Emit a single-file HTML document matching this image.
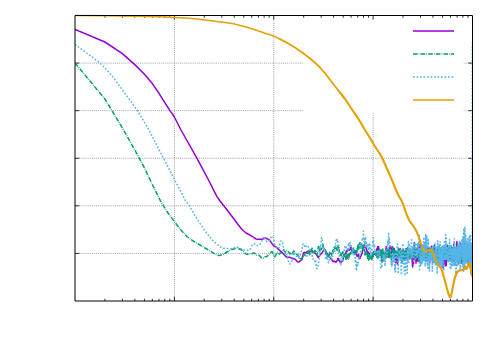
<!DOCTYPE html>
<html><head><meta charset="utf-8"><title>plot</title>
<style>html,body{margin:0;padding:0;background:#fff;font-family:"Liberation Sans",sans-serif}svg{display:block}</style></head>
<body>
<svg width="500" height="350" viewBox="0 0 500 350">
<defs><clipPath id="pc"><rect x="75.00" y="14.00" width="397.50" height="287.00"/></clipPath></defs>
<rect width="500" height="350" fill="#fff"/>
<g stroke="#000" stroke-width="0.45" stroke-dasharray="1 1.1" fill="none" opacity="0.85">
<path d="M75.00 63.08 H472.50"/>
<path d="M75.00 110.67 H472.50"/>
<path d="M75.00 158.25 H472.50"/>
<path d="M75.00 205.83 H472.50"/>
<path d="M75.00 253.42 H472.50"/>
<path d="M174.38 301.00 V15.50"/>
<path d="M273.75 301.00 V15.50"/>
<path d="M373.12 301.00 V15.50"/>
</g>
<rect x="303.5" y="16" width="160" height="96.2" fill="#fff"/>
<g stroke="#000" stroke-width="0.8" fill="none">
<path d="M75.00 63.08 h4.2M472.50 63.08 h-4.2"/>
<path d="M75.00 110.67 h4.2M472.50 110.67 h-4.2"/>
<path d="M75.00 158.25 h4.2M472.50 158.25 h-4.2"/>
<path d="M75.00 205.83 h4.2M472.50 205.83 h-4.2"/>
<path d="M75.00 253.42 h4.2M472.50 253.42 h-4.2"/>
<path d="M104.91 301.00 v-2.25M104.91 15.50 v2.25"/>
<path d="M122.41 301.00 v-2.25M122.41 15.50 v2.25"/>
<path d="M134.83 301.00 v-2.25M134.83 15.50 v2.25"/>
<path d="M144.46 301.00 v-2.25M144.46 15.50 v2.25"/>
<path d="M152.33 301.00 v-2.25M152.33 15.50 v2.25"/>
<path d="M158.98 301.00 v-2.25M158.98 15.50 v2.25"/>
<path d="M164.74 301.00 v-2.25M164.74 15.50 v2.25"/>
<path d="M169.83 301.00 v-2.25M169.83 15.50 v2.25"/>
<path d="M174.38 301.00 v-4.2M174.38 15.50 v4.2"/>
<path d="M204.29 301.00 v-2.25M204.29 15.50 v2.25"/>
<path d="M221.79 301.00 v-2.25M221.79 15.50 v2.25"/>
<path d="M234.20 301.00 v-2.25M234.20 15.50 v2.25"/>
<path d="M243.84 301.00 v-2.25M243.84 15.50 v2.25"/>
<path d="M251.70 301.00 v-2.25M251.70 15.50 v2.25"/>
<path d="M258.36 301.00 v-2.25M258.36 15.50 v2.25"/>
<path d="M264.12 301.00 v-2.25M264.12 15.50 v2.25"/>
<path d="M269.20 301.00 v-2.25M269.20 15.50 v2.25"/>
<path d="M273.75 301.00 v-4.2M273.75 15.50 v4.2"/>
<path d="M303.66 301.00 v-2.25M303.66 15.50 v2.25"/>
<path d="M321.16 301.00 v-2.25M321.16 15.50 v2.25"/>
<path d="M333.58 301.00 v-2.25M333.58 15.50 v2.25"/>
<path d="M343.21 301.00 v-2.25M343.21 15.50 v2.25"/>
<path d="M351.08 301.00 v-2.25M351.08 15.50 v2.25"/>
<path d="M357.73 301.00 v-2.25M357.73 15.50 v2.25"/>
<path d="M363.49 301.00 v-2.25M363.49 15.50 v2.25"/>
<path d="M368.58 301.00 v-2.25M368.58 15.50 v2.25"/>
<path d="M373.12 301.00 v-4.2M373.12 15.50 v4.2"/>
<path d="M403.04 301.00 v-2.25M403.04 15.50 v2.25"/>
<path d="M420.54 301.00 v-2.25M420.54 15.50 v2.25"/>
<path d="M432.95 301.00 v-2.25M432.95 15.50 v2.25"/>
<path d="M442.59 301.00 v-2.25M442.59 15.50 v2.25"/>
<path d="M450.45 301.00 v-2.25M450.45 15.50 v2.25"/>
<path d="M457.11 301.00 v-2.25M457.11 15.50 v2.25"/>
<path d="M462.87 301.00 v-2.25M462.87 15.50 v2.25"/>
<path d="M467.95 301.00 v-2.25M467.95 15.50 v2.25"/>
</g>
<g fill="none" stroke-width="1.5" stroke-linejoin="round" stroke-linecap="butt" clip-path="url(#pc)">
<path stroke="#9400D3" d="M75.0 29.4 L104.9 42.0 L122.4 53.6 L134.8 64.6 L144.5 74.2 L152.3 83.6 L159.0 93.3 L164.7 102.3 L169.8 110.3 L174.4 117.0 L181.0 130.0 L197.0 158.3 L209.6 182.0 L214.0 190.8 L217.0 196.6 L220.0 201.0 L224.0 206.0 L229.0 212.5 L234.0 219.0 L238.0 224.5 L242.0 229.5 L246.0 233.0 L251.0 235.6 L251.7 236.1 L252.4 236.5 L253.1 237.0 L253.8 237.5 L254.5 237.9 L255.2 238.3 L255.8 238.8 L256.5 239.2 L257.1 239.4 L257.7 239.3 L258.4 239.3 L259.0 239.3 L259.6 239.3 L260.2 239.3 L260.8 239.3 L261.3 239.3 L261.9 239.3 L262.5 239.1 L263.0 238.9 L263.6 238.7 L264.1 238.6 L264.7 238.4 L265.2 238.1 L265.7 238.0 L266.2 238.3 L266.7 238.6 L267.2 238.8 L267.7 239.1 L268.2 239.4 L268.7 239.6 L269.2 239.9 L269.7 240.3 L270.2 241.0 L270.6 241.6 L271.1 242.3 L271.5 242.9 L272.0 243.6 L272.4 244.2 L272.9 244.7 L273.3 245.2 L273.8 245.7 L274.2 246.1 L274.6 246.4 L275.0 246.6 L275.4 246.7 L275.9 246.9 L276.3 247.2 L276.7 247.5 L277.1 247.9 L277.5 248.3 L277.9 248.6 L278.3 249.0 L278.6 249.4 L279.0 249.8 L279.4 250.2 L279.8 250.5 L280.2 250.8 L280.5 251.1 L280.9 251.5 L281.3 251.8 L281.6 252.1 L282.0 252.4 L282.3 252.7 L282.7 253.1 L283.0 253.5 L283.4 253.9 L283.7 254.2 L284.1 254.6 L284.4 254.9 L284.7 255.3 L285.1 255.7 L285.4 256.0 L285.7 256.4 L286.1 256.7 L286.4 257.1 L286.7 257.1 L287.0 257.2 L287.3 257.2 L287.7 257.2 L288.0 257.3 L288.3 257.3 L288.6 257.3 L288.9 257.3 L289.2 257.3 L289.5 257.3 L289.8 257.3 L290.1 257.4 L290.4 257.5 L290.7 257.6 L291.0 257.8 L291.2 258.0 L291.5 258.2 L291.8 258.4 L292.1 258.6 L292.4 258.7 L292.7 258.8 L292.9 258.8 L293.2 258.8 L293.5 258.8 L293.8 258.9 L294.0 258.9 L294.3 258.9 L294.6 259.0 L294.8 259.1 L295.1 259.2 L295.4 259.4 L295.6 259.6 L295.9 259.8 L296.1 260.1 L296.4 260.4 L296.7 260.8 L296.9 261.1 L297.2 261.4 L297.4 261.6 L297.7 261.8 L297.9 262.0 L298.1 262.0 L298.4 262.0 L298.6 262.0 L298.9 262.0 L299.1 261.9 L299.4 261.7 L299.6 261.4 L299.8 261.1 L300.1 260.9 L300.3 260.7 L300.5 260.6 L300.8 260.5 L301.0 260.3 L301.2 260.2 L301.5 260.0 L301.7 259.5 L301.9 258.8 L302.1 258.1 L302.4 257.3 L302.6 256.5 L302.8 255.8 L303.0 255.1 L303.2 254.4 L303.4 253.8 L303.7 253.2 L303.9 252.6 L304.1 252.3 L304.3 252.4 L304.5 252.5 L304.7 252.6 L304.9 252.7 L305.1 252.8 L305.4 252.9 L305.6 252.9 L305.8 252.8 L306.0 252.7 L306.2 252.6 L306.4 252.4 L306.6 252.2 L306.8 252.0 L307.0 251.9 L307.2 251.7 L307.4 251.6 L307.6 251.4 L307.8 251.3 L308.0 251.1 L308.2 251.0 L308.4 251.0 L308.6 250.9 L308.7 250.9 L308.9 251.0 L309.1 251.1 L309.3 251.2 L309.5 251.3 L309.7 251.3 L309.9 251.4 L310.1 251.4 L310.3 251.3 L310.4 251.3 L310.6 251.3 L310.8 251.4 L311.0 251.4 L311.2 251.5 L311.4 251.6 L311.5 251.6 L311.7 251.7 L311.9 251.8 L312.1 251.9 L312.2 251.9 L312.4 251.9 L312.6 251.9 L312.8 252.0 L312.9 252.1 L313.1 252.1 L313.3 252.2 L313.5 252.2 L313.6 252.3 L313.8 252.4 L314.0 252.4 L314.1 252.5 L314.3 252.5 L314.5 252.6 L314.7 252.6 L314.8 252.6 L315.0 252.7 L315.2 252.9 L315.3 253.1 L315.5 253.4 L315.6 253.6 L315.8 253.8 L316.0 254.0 L316.1 254.1 L316.3 254.3 L316.5 254.5 L316.6 254.7 L316.8 254.9 L316.9 255.1 L317.1 255.4 L317.3 255.7 L317.4 256.1 L317.6 256.4 L317.7 256.8 L317.9 257.2 L318.0 257.4 L318.2 257.3 L318.3 257.2 L318.5 257.1 L318.6 256.9 L318.8 256.7 L319.0 256.5 L319.1 256.4 L319.3 256.1 L319.4 255.9 L319.6 255.7 L319.7 255.5 L319.8 255.2 L320.0 255.0 L320.1 254.7 L320.3 254.5 L320.4 254.3 L320.6 254.1 L320.7 253.9 L320.9 253.8 L321.0 253.8 L321.2 253.7 L321.3 253.6 L321.5 253.6 L321.6 253.4 L321.7 253.3 L321.9 253.1 L322.0 252.8 L322.2 252.5 L322.3 252.3 L322.4 252.0 L322.6 251.7 L322.7 251.5 L322.9 251.3 L323.0 251.2 L323.1 251.1 L323.3 251.0 L323.4 250.8 L323.5 250.6 L323.7 250.3 L323.8 250.0 L323.9 249.6 L324.1 249.4 L324.2 249.4 L324.4 249.4 L324.5 249.5 L324.6 249.6 L324.8 249.7 L324.9 249.8 L325.0 250.0 L325.1 250.2 L325.3 250.4 L325.4 250.6 L325.5 250.8 L325.7 251.1 L325.8 251.4 L325.9 251.7 L326.1 252.1 L326.2 252.5 L326.3 252.8 L326.4 253.2 L326.6 253.5 L326.7 253.7 L326.8 253.9 L326.9 254.0 L327.1 254.1 L327.2 254.1 L327.3 254.1 L327.4 254.1 L327.6 254.1 L327.7 254.2 L327.8 254.2 L327.9 254.4 L328.1 254.5 L328.2 254.7 L328.3 254.9 L328.4 255.1 L328.6 255.3 L328.7 255.5 L328.8 255.7 L328.9 255.9 L329.0 256.1 L329.2 256.3 L329.3 256.5 L329.4 256.6 L329.5 256.8 L329.6 257.0 L329.7 257.1 L329.9 257.2 L330.0 257.4 L330.1 257.6 L330.2 257.7 L330.3 257.9 L330.4 258.1 L330.6 258.3 L330.7 258.5 L330.8 258.6 L330.9 258.8 L331.0 258.9 L331.1 258.9 L331.3 259.0 L331.4 259.0 L331.5 259.1 L331.6 259.2 L331.7 259.3 L331.8 259.5 L331.9 259.7 L332.0 260.0 L332.2 260.3 L332.3 260.5 L332.4 260.7 L332.5 260.9 L332.6 261.1 L332.7 261.3 L332.8 261.4 L332.9 261.5 L333.0 261.6 L333.1 261.6 L333.3 261.5 L333.4 261.5 L333.5 261.4 L333.6 261.4 L333.7 261.3 L333.8 261.1 L333.9 261.1 L334.0 261.0 L334.1 261.0 L334.2 261.0 L334.3 261.1 L334.4 261.2 L334.5 261.3 L334.6 261.5 L334.8 261.6 L334.9 261.8 L335.0 261.9 L335.1 262.0 L335.2 262.0 L335.3 262.0 L335.4 261.9 L335.5 261.8 L335.6 261.8 L335.7 261.8 L335.8 261.9 L335.9 262.0 L336.0 262.1 L336.1 262.1 L336.2 262.0 L336.3 261.9 L336.4 261.8 L336.5 261.6 L336.6 261.5 L336.7 261.3 L336.8 261.1 L336.9 261.0 L337.0 260.8 L337.1 260.6 L337.2 260.5 L337.3 260.3 L337.4 260.2 L337.5 260.0 L337.6 259.7 L337.7 259.4 L337.8 259.1 L337.9 258.7 L338.0 258.3 L338.1 258.2 L338.2 258.2 L338.3 258.2 L338.4 258.3 L338.5 258.5 L338.6 258.7 L338.7 259.1 L338.8 259.4 L338.9 259.8 L338.9 260.1 L339.0 260.4 L339.1 260.6 L339.2 260.8 L339.3 260.9 L339.4 261.0 L339.5 261.0 L339.6 261.1 L339.7 261.1 L339.8 261.2 L339.9 261.4 L340.0 261.6 L340.1 261.9 L340.2 262.2 L340.3 262.5 L340.4 262.7 L340.4 262.9 L340.5 262.9 L340.6 262.9 L340.7 262.9 L340.8 262.7 L340.9 262.6 L341.0 262.5 L341.1 262.1 L341.2 261.8 L341.3 261.5 L341.4 261.3 L341.4 261.1 L341.5 261.0 L341.6 260.9 L341.7 260.8 L341.8 260.8 L341.9 260.9 L342.0 260.9 L342.1 261.0 L342.2 261.0 L342.3 261.1 L342.3 261.1 L342.4 261.1 L342.5 261.1 L342.6 261.0 L342.7 260.8 L342.8 260.5 L342.9 260.2 L343.0 259.9 L343.0 259.5 L343.1 259.1 L343.2 258.7 L343.3 258.3 L343.4 258.0 L343.5 257.7 L343.6 257.3 L343.6 257.0 L343.7 256.7 L343.8 256.4 L343.9 256.1 L344.0 255.9 L344.1 255.6 L344.1 255.5 L344.2 255.3 L344.3 255.1 L344.4 255.0 L344.5 254.9 L344.6 254.7 L344.7 254.5 L344.7 254.4 L344.8 254.2 L344.9 254.0 L345.0 253.8 L345.1 253.7 L345.2 253.6 L345.2 253.6 L345.3 253.6 L345.4 253.6 L345.5 253.5 L345.6 253.5 L345.6 253.5 L345.7 253.4 L345.8 253.2 L345.9 253.0 L346.0 252.7 L346.0 252.4 L346.1 252.0 L346.2 251.6 L346.3 251.2 L346.4 251.0 L346.5 250.8 L346.5 250.7 L346.6 250.8 L346.7 250.9 L346.8 251.1 L346.9 251.3 L346.9 251.4 L347.0 251.6 L347.1 251.6 L347.2 251.5 L347.2 251.4 L347.3 251.2 L347.4 250.9 L347.5 250.7 L347.6 250.4 L347.6 250.1 L347.7 249.8 L347.8 249.5 L347.9 249.2 L347.9 249.0 L348.0 248.9 L348.1 248.9 L348.2 249.0 L348.3 249.1 L348.3 249.3 L348.4 249.5 L348.5 249.6 L348.6 249.8 L348.6 249.9 L348.7 250.0 L348.8 250.1 L348.9 250.1 L348.9 250.1 L349.0 250.2 L349.1 250.2 L349.2 250.2 L349.2 250.2 L349.3 250.1 L349.4 250.1 L349.5 250.0 L349.5 249.9 L349.6 249.8 L349.7 249.6 L349.8 249.4 L349.8 249.2 L349.9 249.1 L350.0 249.0 L350.1 249.0 L350.1 249.0 L350.2 249.0 L350.3 249.1 L350.4 249.1 L350.4 249.0 L350.5 248.9 L350.6 248.7 L350.6 248.4 L350.7 248.2 L350.8 247.9 L350.9 247.7 L350.9 247.6 L351.0 247.6 L351.1 247.7 L351.2 247.9 L351.2 248.2 L351.3 248.5 L351.4 248.8 L351.4 249.2 L351.5 249.6 L351.6 250.0 L351.7 250.4 L351.7 250.7 L351.8 251.0 L351.9 251.2 L351.9 251.3 L352.0 251.4 L352.1 251.3 L352.1 251.2 L352.2 251.1 L352.3 251.0 L352.4 250.9 L352.4 250.9 L352.5 250.9 L352.6 251.0 L352.6 251.2 L352.7 251.4 L352.8 251.6 L352.8 251.8 L352.9 252.0 L353.0 252.2 L353.0 252.3 L353.1 252.4 L353.2 252.4 L353.3 252.5 L353.3 252.5 L353.4 252.6 L353.5 252.6 L353.5 252.7 L353.6 252.7 L353.7 252.7 L353.7 252.7 L353.8 252.5 L353.9 252.4 L353.9 252.3 L354.0 252.1 L354.1 252.1 L354.1 252.2 L354.2 252.2 L354.3 252.3 L354.3 252.4 L354.4 252.5 L354.5 252.5 L354.5 252.5 L354.6 252.4 L354.7 252.3 L354.7 252.1 L354.8 252.0 L354.9 251.9 L354.9 251.9 L355.0 252.0 L355.1 252.0 L355.1 252.1 L355.2 252.2 L355.3 252.3 L355.3 252.3 L355.4 252.3 L355.5 252.3 L355.5 252.4 L355.6 252.4 L355.6 252.5 L355.7 252.6 L355.8 252.7 L355.8 252.9 L355.9 253.1 L356.0 253.4 L356.0 253.7 L356.1 254.0 L356.2 254.3 L356.2 254.5 L356.3 254.7 L356.4 254.8 L356.4 254.8 L356.5 254.9 L356.5 255.0 L356.6 255.1 L356.7 255.2 L356.7 255.3 L356.8 255.5 L356.9 255.7 L356.9 255.8 L357.0 256.0 L357.0 256.1 L357.1 256.2 L357.2 256.2 L357.2 256.3 L357.3 256.3 L357.4 256.2 L357.4 256.2 L357.5 256.1 L357.5 256.1 L357.6 256.0 L357.7 256.0 L357.7 256.0 L357.8 256.0 L357.9 255.9 L357.9 255.8 L358.0 255.5 L358.0 255.3 L358.1 255.0 L358.2 254.7 L358.2 254.5 L358.3 254.3 L358.3 254.3 L358.4 254.3 L358.5 254.5 L358.5 254.7 L358.6 255.1 L358.6 255.5 L358.7 255.9 L358.8 256.4 L358.8 256.8 L358.9 257.1 L358.9 257.4 L359.0 257.6 L359.1 257.8 L359.1 257.9 L359.2 257.9 L359.2 258.0 L359.3 258.1 L359.4 258.2 L359.4 258.2 L359.5 258.3 L359.5 258.3 L359.6 258.2 L359.7 258.2 L359.7 258.1 L359.8 258.1 L359.8 258.1 L359.9 258.1 L360.0 258.2 L360.0 258.2 L360.1 258.0 L360.1 257.8 L360.2 257.6 L360.2 257.3 L360.3 257.1 L360.4 256.8 L360.4 256.5 L360.5 256.3 L360.5 256.1 L360.6 256.0 L360.7 255.9 L360.7 255.9 L360.8 255.9 L360.8 255.9 L360.9 255.9 L360.9 255.9 L361.0 255.8 L361.1 255.7 L361.1 255.6 L361.2 255.5 L361.2 255.3 L361.3 255.2 L361.3 255.0 L361.4 254.9 L361.5 254.7 L361.5 254.5 L361.6 254.4 L361.6 254.2 L361.7 254.0 L361.7 253.9 L361.8 253.8 L361.8 253.7 L361.9 253.7 L362.0 253.6 L362.0 253.6 L362.1 253.4 L362.1 253.2 L362.2 252.9 L362.2 252.6 L362.3 252.2 L362.3 251.8 L362.4 251.4 L362.5 250.9 L362.5 250.5 L362.6 250.1 L362.6 249.7 L362.7 249.4 L362.7 249.3 L362.8 249.2 L362.8 249.1 L362.9 249.1 L363.0 249.1 L363.0 249.1 L363.1 249.0 L363.1 249.0 L363.2 248.9 L363.2 248.8 L363.3 248.7 L363.3 248.6 L363.4 248.5 L363.4 248.4 L363.5 248.2 L363.5 248.0 L363.6 247.7 L363.7 247.3 L363.7 246.9 L363.8 246.5 L363.8 246.1 L363.9 245.7 L363.9 245.3 L364.0 245.0 L364.0 244.8 L364.1 244.9 L364.1 245.1 L364.2 245.3 L364.2 245.5 L364.3 245.7 L364.3 245.9 L364.4 246.1 L364.5 246.2 L364.5 246.3 L364.6 246.3 L364.6 246.3 L364.7 246.3 L364.7 246.2 L364.8 246.3 L364.8 246.3 L364.9 246.3 L364.9 246.4 L365.0 246.5 L365.0 246.7 L365.1 246.8 L365.1 247.0 L365.2 247.1 L365.2 247.3 L365.3 247.4 L365.3 247.5 L365.4 247.6 L365.4 247.6 L365.5 247.6 L365.5 247.6 L365.6 247.6 L365.7 247.6 L365.7 247.6 L365.8 247.6 L365.8 247.6 L365.9 247.6 L365.9 247.7 L366.0 247.8 L366.0 247.9 L366.1 248.2 L366.1 248.4 L366.2 248.6 L366.2 248.8 L366.3 248.9 L366.3 249.0 L366.4 249.0 L366.4 249.0 L366.5 249.1 L366.5 249.2 L366.6 249.4 L366.6 249.6 L366.7 249.9 L366.7 250.2 L366.8 250.6 L366.8 250.9 L366.9 251.3 L366.9 251.5 L367.0 251.7 L367.0 251.9 L367.1 252.0 L367.1 252.0 L367.2 252.0 L367.2 252.0 L367.3 252.0 L367.3 251.9 L367.4 251.9 L367.4 251.8 L367.5 251.7 L367.5 251.6 L367.6 251.5 L367.6 251.4 L367.7 251.3 L367.7 251.3 L367.8 251.3 L367.8 251.4 L367.9 251.5 L367.9 251.7 L367.9 251.9 L368.0 252.1 L368.0 252.3 L368.1 252.6 L368.1 252.8 L368.2 253.1 L368.2 253.4 L368.3 253.6 L368.3 253.8 L368.4 253.9 L368.4 254.0 L368.5 254.0 L368.5 254.0 L368.6 253.9 L368.6 253.8 L368.7 253.7 L368.7 253.6 L368.8 253.5 L368.8 253.4 L368.9 253.3 L368.9 253.3 L369.0 253.3 L369.0 253.3 L369.1 253.4 L369.1 253.5 L369.1 253.6 L369.2 253.7 L369.2 253.8 L369.3 253.9 L369.3 254.0 L369.4 254.2 L369.4 254.3 L369.5 254.4 L369.5 254.5 L369.6 254.6 L369.6 254.7 L369.7 254.8 L369.7 254.9 L369.8 255.1 L369.8 255.2 L369.9 255.4 L369.9 255.6 L369.9 255.8 L370.0 256.0 L370.0 256.2 L370.1 256.3 L370.1 256.4 L370.2 256.5 L370.2 256.5 L370.3 256.4 L370.3 256.3 L370.4 256.2 L370.4 256.0 L370.5 255.9 L370.5 255.8 L370.5 255.7 L370.6 255.7 L370.6 255.7 L370.7 255.8 L370.7 256.0 L370.8 256.1 L370.8 256.3 L370.9 256.5 L370.9 256.7 L371.0 256.9 L371.0 257.1 L371.0 257.3 L371.1 257.4 L371.1 257.4 L371.2 257.5 L371.2 257.4 L371.3 257.4 L371.3 257.4 L371.4 257.4 L371.4 257.5 L371.5 257.6 L371.5 257.7 L371.5 257.9 L371.6 257.9 L371.6 258.0 L371.7 258.0 L371.7 257.9 L371.8 257.8 L371.8 257.7 L371.9 257.6 L371.9 257.5 L371.9 257.4 L372.0 257.3 L372.0 257.2 L372.1 257.0 L372.1 256.9 L372.2 256.9 L372.2 256.9 L372.3 257.0 L372.3 257.1 L372.3 257.2 L372.4 257.3 L372.4 257.4 L372.5 257.5 L372.5 257.4 L372.6 257.4 L372.6 257.3 L372.6 257.2 L372.7 257.1 L372.7 257.0 L372.8 257.0 L372.8 256.9 L372.9 256.8 L372.9 256.8 L373.0 256.7 L373.0 256.5 L373.0 256.4 L373.1 256.1 L373.1 255.9 L373.2 255.6 L373.2 255.3 L373.3 255.0 L373.3 254.8 L373.3 254.7 L373.4 254.6 L373.4 254.5 L373.5 254.5 L373.5 254.4 L373.6 254.4 L373.6 254.3 L373.6 254.1 L373.7 254.0 L373.7 253.8 L373.8 253.7 L373.8 253.5 L373.9 253.2 L373.9 253.0 L373.9 252.8 L374.0 252.6 L374.0 252.5 L374.1 252.5 L374.1 252.4 L374.1 252.4 L374.2 252.4 L374.2 252.3 L374.3 252.3 L374.3 252.4 L374.4 252.3 L374.4 252.4 L374.4 252.5 L374.5 252.6 L374.5 252.3 L374.6 252.5 L374.6 252.8 L374.7 252.6 L374.7 253.0 L374.7 253.1 L374.8 253.2 L374.8 253.5 L374.9 253.0 L374.9 253.2 L374.9 253.4 L375.0 253.5 L375.0 253.9 L375.1 253.9 L375.1 253.7 L375.1 253.8 L375.2 253.7 L375.2 254.0 L375.3 253.8 L375.3 254.7 L375.4 254.5 L375.4 254.2 L375.4 254.3 L375.5 254.6 L375.5 254.3 L375.6 254.7 L375.6 254.3 L375.6 255.0 L375.7 254.4 L375.7 253.7 L375.8 253.6 L375.8 253.7 L375.8 254.4 L375.9 253.5 L375.9 253.9 L376.0 252.7 L376.0 253.4 L376.0 252.6 L376.1 252.6 L376.1 252.7 L376.2 251.9 L376.2 253.4 L376.2 251.6 L376.3 251.7 L376.3 252.6 L376.4 252.1 L376.4 250.2 L376.4 251.4 L376.5 251.6 L376.5 250.3 L376.6 250.7 L376.6 250.1 L376.6 250.0 L376.7 251.2 L376.7 250.6 L376.8 249.5 L376.8 249.1 L376.8 250.1 L376.9 249.7 L376.9 249.2 L377.0 249.4 L377.0 248.3 L377.0 248.6 L377.1 248.6 L377.1 249.8 L377.2 248.9 L377.2 248.2 L377.2 248.3 L377.3 249.5 L377.3 248.9 L377.4 248.3 L377.4 248.4 L377.4 249.0 L377.5 248.3 L377.5 248.3 L377.6 248.0 L377.6 246.8 L377.6 248.7 L377.7 248.1 L377.7 248.7 L377.7 250.1 L377.8 247.9 L377.8 248.4 L377.9 247.7 L377.9 247.5 L377.9 247.4 L378.0 247.6 L378.0 247.8 L378.1 248.8 L378.1 247.9 L378.1 247.3 L378.2 248.3 L378.2 247.1 L378.2 248.1 L378.3 247.8 L378.3 247.3 L378.4 248.0 L378.4 248.4 L378.4 248.2 L378.5 246.6 L378.5 246.8 L378.6 247.9 L378.6 247.9 L378.6 247.2 L378.7 248.7 L378.7 248.7 L378.7 249.3 L378.8 248.9 L378.8 249.9 L378.9 248.6 L378.9 249.0 L378.9 249.8 L379.0 249.8 L379.0 248.8 L379.0 249.5 L379.1 250.6 L379.1 250.5 L379.2 250.2 L379.2 250.7 L379.2 251.0 L379.3 251.2 L379.3 251.8 L379.3 252.2 L379.4 251.4 L379.4 253.6 L379.5 252.5 L379.5 252.4 L379.5 253.8 L379.6 252.8 L379.6 252.2 L379.6 252.2 L379.7 252.8 L379.7 252.9 L379.8 252.3 L379.8 253.2 L379.8 252.9 L379.9 254.3 L379.9 253.8 L379.9 253.0 L380.0 254.2 L380.0 253.4 L380.0 252.2 L380.1 253.4 L380.1 254.2 L380.2 253.3 L380.2 252.8 L380.2 253.1 L380.3 252.6 L380.3 253.2 L380.3 252.9 L380.4 252.4 L380.4 253.0 L380.5 253.4 L380.5 252.4 L380.5 252.9 L380.6 252.5 L380.6 251.7 L380.6 251.8 L380.7 252.6 L380.7 251.8 L380.7 252.1 L380.8 250.4 L380.8 251.9 L380.8 250.3 L380.9 252.6 L380.9 251.5 L381.0 251.9 L381.0 251.0 L381.0 251.4 L381.1 250.8 L381.1 251.0 L381.1 251.9 L381.2 251.6 L381.2 251.8 L381.2 252.1 L381.3 253.2 L381.3 253.2 L381.4 254.0 L381.4 252.9 L381.4 252.9 L381.5 253.7 L381.5 254.3 L381.5 253.2 L381.6 254.8 L381.6 254.5 L381.6 255.3 L381.7 255.5 L381.7 255.5 L381.7 255.4 L381.8 256.1 L381.8 257.3 L381.8 255.8 L381.9 257.3 L381.9 257.4 L382.0 257.6 L382.0 258.2 L382.0 258.6 L382.1 258.5 L382.1 259.6 L382.1 258.8 L382.2 260.6 L382.2 258.2 L382.2 260.6 L382.3 259.5 L382.3 259.1 L382.3 259.5 L382.4 259.8 L382.4 260.4 L382.4 260.3 L382.5 261.3 L382.5 260.4 L382.5 260.3 L382.6 260.3 L382.6 260.9 L382.7 260.6 L382.7 261.5 L382.7 260.2 L382.8 260.3 L382.8 260.2 L382.8 259.9 L382.9 260.1 L382.9 259.7 L382.9 258.8 L383.0 259.0 L383.0 259.3 L383.0 258.2 L383.1 259.2 L383.1 260.0 L383.1 259.7 L383.2 258.3 L383.2 258.3 L383.2 258.8 L383.3 258.5 L383.3 259.2 L383.3 258.8 L383.4 258.7 L383.4 258.2 L383.4 258.9 L383.5 258.2 L383.5 259.7 L383.5 258.3 L383.6 257.8 L383.6 257.4 L383.6 257.1 L383.7 256.7 L383.7 257.3 L383.7 257.4 L383.8 257.9 L383.8 257.0 L383.8 257.3 L383.9 256.8 L383.9 256.4 L383.9 256.8 L384.0 256.7 L384.0 256.1 L384.0 256.0 L384.1 256.1 L384.1 254.8 L384.1 256.3 L384.2 255.1 L384.2 257.5 L384.2 255.9 L384.3 256.2 L384.3 256.3 L384.3 254.9 L384.4 257.0 L384.4 255.7 L384.4 256.8 L384.5 257.0 L384.5 256.8 L384.5 254.3 L384.6 255.5 L384.6 255.9 L384.6 255.4 L384.7 256.2 L384.7 257.2 L384.7 257.0 L384.8 255.9 L384.8 255.4 L384.8 256.6 L384.9 256.5 L384.9 255.7 L384.9 255.2 L385.0 256.7 L385.0 256.6 L385.0 256.2 L385.1 255.7 L385.1 254.7 L385.1 254.9 L385.2 253.8 L385.2 255.3 L385.2 253.3 L385.3 253.2 L385.3 253.3 L385.3 253.0 L385.4 253.8 L385.4 253.1 L385.4 251.7 L385.5 252.2 L385.5 251.8 L385.5 252.3 L385.6 250.0 L385.6 250.4 L385.6 249.8 L385.7 250.3 L385.7 250.6 L385.7 249.6 L385.8 250.9 L385.8 248.7 L385.8 249.2 L385.9 248.5 L385.9 247.8 L385.9 248.3 L385.9 248.5 L386.0 247.9 L386.0 247.8 L386.0 248.1 L386.1 247.7 L386.1 248.7 L386.1 248.4 L386.2 248.0 L386.2 248.7 L386.2 246.5 L386.3 247.4 L386.3 248.9 L386.3 247.5 L386.4 248.7 L386.4 248.4 L386.4 248.3 L386.5 248.1 L386.5 247.5 L386.5 247.4 L386.6 247.3 L386.6 248.8 L386.6 248.5 L386.6 248.9 L386.7 248.0 L386.7 248.8 L386.7 249.6 L386.8 248.5 L386.8 248.8 L386.8 249.0 L386.9 250.7 L386.9 250.2 L386.9 250.9 L387.0 251.4 L387.0 249.7 L387.0 250.2 L387.1 248.6 L387.1 250.4 L387.1 250.1 L387.2 250.7 L387.2 250.9 L387.2 249.6 L387.2 251.4 L387.3 251.1 L387.3 250.8 L387.3 251.5 L387.4 252.6 L387.4 251.9 L387.4 253.5 L387.5 253.1 L387.5 253.0 L387.5 252.7 L387.6 253.0 L387.6 254.5 L387.6 254.0 L387.6 254.4 L387.7 254.7 L387.7 255.3 L387.7 255.5 L387.8 255.0 L387.8 255.7 L387.8 255.5 L387.9 256.2 L387.9 255.0 L387.9 256.0 L388.0 257.2 L388.0 255.6 L388.0 256.1 L388.0 256.8 L388.1 255.9 L388.1 256.8 L388.1 257.0 L388.2 257.3 L388.2 256.9 L388.2 256.9 L388.3 256.4 L388.3 256.7 L388.3 256.7 L388.3 256.7 L388.4 256.7 L388.4 256.6 L388.4 256.4 L388.5 255.9 L388.5 255.6 L388.5 255.0 L388.6 255.6 L388.6 255.7 L388.6 254.4 L388.7 254.9 L388.7 254.1 L388.7 253.9 L388.7 253.1 L388.8 253.3 L388.8 253.6 L388.8 253.3 L388.9 253.2 L388.9 252.0 L388.9 250.7 L389.0 252.4 L389.0 251.6 L389.0 251.9 L389.0 252.4 L389.1 251.6 L389.1 249.3 L389.1 250.1 L389.2 250.0 L389.2 251.0 L389.2 249.2 L389.3 249.2 L389.3 250.0 L389.3 247.8 L389.3 248.4 L389.4 247.6 L389.4 247.6 L389.4 248.5 L389.5 248.0 L389.5 247.7 L389.5 247.5 L389.5 247.1 L389.6 247.2 L389.6 247.4 L389.6 246.5 L389.7 247.0 L389.7 246.4 L389.7 247.3 L389.8 247.4 L389.8 247.0 L389.8 247.2 L389.8 246.2 L389.9 246.3 L389.9 246.7 L389.9 246.4 L390.0 247.1 L390.0 246.6 L390.0 246.0 L390.0 246.3 L390.1 247.3 L390.1 248.8 L390.1 247.5 L390.2 246.6 L390.2 248.0 L390.2 247.6 L390.2 247.5 L390.3 250.3 L390.3 250.4 L390.3 249.1 L390.4 249.4 L390.4 249.5 L390.4 250.5 L390.5 250.8 L390.5 251.2 L390.5 250.1 L390.5 250.9 L390.6 251.9 L390.6 251.7 L390.6 250.9 L390.7 252.1 L390.7 253.0 L390.7 251.1 L390.7 253.7 L390.8 252.8 L390.8 254.0 L390.8 253.8 L390.9 253.6 L390.9 253.3 L390.9 253.4 L390.9 253.1 L391.0 253.7 L391.0 253.8 L391.0 252.6 L391.1 253.1 L391.1 251.9 L391.1 252.4 L391.1 252.8 L391.2 253.5 L391.2 253.1 L391.2 253.0 L391.3 252.5 L391.3 251.9 L391.3 253.0 L391.3 252.7 L391.4 251.2 L391.4 251.6 L391.4 251.8 L391.5 250.6 L391.5 250.6 L391.5 251.2 L391.5 250.7 L391.6 251.0 L391.6 250.0 L391.6 250.3 L391.6 250.0 L391.7 250.7 L391.7 248.8 L391.7 249.0 L391.8 248.2 L391.8 249.1 L391.8 249.0 L391.8 249.4 L391.9 248.1 L391.9 248.6 L391.9 248.1 L392.0 248.9 L392.0 247.8 L392.0 247.5 L392.0 248.2 L392.1 247.5 L392.1 247.1 L392.1 246.4 L392.2 247.9 L392.2 248.4 L392.2 247.7 L392.2 248.3 L392.3 247.5 L392.3 248.3 L392.3 248.5 L392.3 247.8 L392.4 247.2 L392.4 248.1 L392.4 248.4 L392.5 249.0 L392.5 247.4 L392.5 249.8 L392.5 249.4 L392.6 249.0 L392.6 248.6 L392.6 249.1 L392.6 249.9 L392.7 250.1 L392.7 250.2 L392.7 249.1 L392.8 249.9 L392.8 250.3 L392.8 250.3 L392.8 250.2 L392.9 250.8 L392.9 251.6 L392.9 250.0 L392.9 251.7 L393.0 250.3 L393.0 250.4 L393.0 250.4 L393.1 251.6 L393.1 251.4 L393.1 251.8 L393.1 250.5 L393.2 250.2 L393.2 252.3 L393.2 251.3 L393.2 249.2 L393.3 250.1 L393.3 250.8 L393.3 251.6 L393.4 251.8 L393.4 249.8 L393.4 250.9 L393.4 250.2 L393.5 250.1 L393.5 249.9 L393.5 249.3 L393.5 249.5 L393.6 249.8 L393.6 250.3 L393.6 249.0 L393.7 250.8 L393.7 249.6 L393.7 250.3 L393.7 249.1 L393.8 248.9 L393.8 250.4 L393.8 250.0 L393.8 248.4 L393.9 250.0 L393.9 248.6 L393.9 249.9 L393.9 250.2 L394.0 249.7 L394.0 249.4 L394.0 249.6 L394.1 249.6 L394.1 249.2 L394.1 250.0 L394.1 249.4 L394.2 248.7 L394.2 250.0 L394.2 251.0 L394.2 250.6 L394.3 249.9 L394.3 249.6 L394.3 249.8 L394.3 251.1 L394.4 250.8 L394.4 249.9 L394.4 250.7 L394.4 251.7 L394.5 250.9 L394.5 251.1 L394.5 250.8 L394.6 250.3 L394.6 252.2 L394.6 252.3 L394.6 252.6 L394.7 253.2 L394.7 252.6 L394.7 252.7 L394.7 253.5 L394.8 252.8 L394.8 252.6 L394.8 254.0 L394.8 254.2 L394.9 254.4 L394.9 255.4 L394.9 256.1 L394.9 255.6 L395.0 255.0 L395.0 255.6 L395.0 256.5 L395.1 257.3 L395.1 257.7 L395.1 258.4 L395.1 259.7 L395.2 258.1 L395.2 259.7 L395.2 259.2 L395.2 259.7 L395.3 259.6 L395.3 260.7 L395.3 260.8 L395.3 261.4 L395.4 262.0 L395.4 259.9 L395.4 260.9 L395.4 261.6 L395.5 261.8 L395.5 261.6 L395.5 260.8 L395.5 262.7 L395.6 260.8 L395.6 262.0 L395.6 261.1 L395.6 261.1 L395.7 261.8 L395.7 260.6 L395.7 261.6 L395.7 261.1 L395.8 260.2 L395.8 260.7 L395.8 260.7 L395.8 260.8 L395.9 260.9 L395.9 259.1 L395.9 259.3 L395.9 259.1 L396.0 258.5 L396.0 260.4 L396.0 258.6 L396.1 258.5 L396.1 258.2 L396.1 257.6 L396.1 258.6 L396.2 257.8 L396.2 257.0 L396.2 257.1 L396.2 257.3 L396.3 257.0 L396.3 257.2 L396.3 257.3 L396.3 255.9 L396.4 255.5 L396.4 255.7 L396.4 255.9 L396.4 255.4 L396.5 255.9 L396.5 254.8 L396.5 255.6 L396.5 255.8 L396.6 255.1 L396.6 256.2 L396.6 256.8 L396.6 253.9 L396.7 255.5 L396.7 256.0 L396.7 256.8 L396.7 255.8 L396.8 256.8 L396.8 257.9 L396.8 257.4 L396.8 257.2 L396.9 257.4 L396.9 258.3 L396.9 258.7 L396.9 259.0 L397.0 259.1 L397.0 258.0 L397.0 259.2 L397.0 259.9 L397.1 260.5 L397.1 261.1 L397.1 260.6 L397.1 261.8 L397.2 262.6 L397.2 262.2 L397.2 262.6 L397.2 262.1 L397.3 261.9 L397.3 263.0 L397.3 263.1 L397.3 263.7 L397.4 262.9 L397.4 262.5 L397.4 262.5 L397.4 263.4 L397.4 261.9 L397.5 264.0 L397.5 262.8 L397.5 263.0 L397.5 262.7 L397.6 263.7 L397.6 261.7 L397.6 262.9 L397.6 262.5 L397.7 262.8 L397.7 262.3 L397.7 260.9 L397.7 260.3 L397.8 259.7 L397.8 260.6 L397.8 260.9 L397.8 260.4 L397.9 259.8 L397.9 260.1 L397.9 258.7 L397.9 260.2 L398.0 260.1 L398.0 259.7 L398.0 259.2 L398.0 259.6 L398.1 257.4 L398.1 257.5 L398.1 258.0 L398.1 257.8 L398.2 257.5 L398.2 257.9 L398.2 257.2 L398.2 258.4 L398.3 257.3 L398.3 255.6 L398.3 256.8 L398.3 256.5 L398.3 255.9 L398.4 257.4 L398.4 256.1 L398.4 255.5 L398.4 256.3 L398.5 257.7 L398.5 256.5 L398.5 257.7 L398.5 256.8 L398.6 257.5 L398.6 256.7 L398.6 256.5 L398.6 254.1 L398.7 255.0 L398.7 254.9 L398.7 255.5 L398.7 256.2 L398.8 256.0 L398.8 255.8 L398.8 254.0 L398.8 254.4 L398.9 254.8 L398.9 255.1 L398.9 254.7 L398.9 253.9 L398.9 253.3 L399.0 254.8 L399.0 253.3 L399.0 253.7 L399.0 253.6 L399.1 253.7 L399.1 252.7 L399.1 252.3 L399.1 252.8 L399.2 252.1 L399.2 252.6 L399.2 251.4 L399.2 251.9 L399.3 251.2 L399.3 253.3 L399.3 250.6 L399.3 251.3 L399.3 251.3 L399.4 251.0 L399.4 250.4 L399.4 250.5 L399.4 250.9 L399.5 251.9 L399.5 251.7 L399.5 252.0 L399.5 250.4 L399.6 250.8 L399.6 251.5 L399.6 251.0 L399.6 250.7 L399.7 250.6 L399.7 251.1 L399.7 250.1 L399.7 250.7 L399.7 249.9 L399.8 251.0 L399.8 250.8 L399.8 250.4 L399.8 249.6 L399.9 250.4 L399.9 251.5 L399.9 250.1 L399.9 250.7 L400.0 249.3 L400.0 249.7 L400.0 250.4 L400.1 251.7 L400.1 248.6 L400.2 249.9 L400.3 249.5 L400.3 249.5 L400.5 251.6 L400.5 250.2 L400.5 250.8 L400.6 250.0 L400.7 252.7 L400.7 251.7 L400.8 252.5 L400.8 251.9 L401.0 254.2 L401.0 254.5 L401.1 254.2 L401.1 257.3 L401.2 257.1 L401.3 256.7 L401.4 258.5 L401.5 256.7 L401.5 258.0 L401.7 259.3 L401.7 256.5 L401.7 257.3 L401.8 258.2 L401.9 257.6 L401.9 260.1 L402.0 259.6 L402.0 259.7 L402.1 259.6 L402.2 260.9 L402.2 259.9 L402.3 261.0 L402.3 261.8 L402.5 259.7 L402.5 259.0 L402.6 260.2 L402.7 256.2 L402.7 257.7 L402.8 257.1 L402.8 257.1 L403.0 253.6 L403.0 253.8 L403.2 250.6 L403.3 251.5 L403.3 250.5 L403.5 251.7 L403.5 251.7 L403.5 250.8 L403.7 252.6 L403.8 252.5 L404.0 255.9 L404.0 254.9 L404.2 258.7 L404.3 258.1 L404.5 260.5 L404.5 258.5 L404.5 260.2 L404.5 260.3 L404.6 257.7 L404.7 258.7 L404.8 257.6 L404.8 258.3 L405.0 255.0 L405.0 255.2 L405.1 256.0 L405.2 253.7 L405.2 253.8 L405.3 254.7 L405.4 251.6 L405.5 252.4 L405.5 251.9 L405.6 252.5 L405.7 250.3 L405.7 251.0 L405.8 249.7 L405.8 251.6 L405.9 248.8 L406.0 249.3 L406.0 249.6 L406.0 248.8 L406.1 250.4 L406.2 250.2 L406.3 249.6 L406.3 249.1 L406.5 252.5 L406.5 252.0 L406.7 255.8 L406.7 255.5 L406.8 255.0 L406.9 258.4 L407.0 257.1 L407.0 257.3 L407.2 255.5 L407.2 255.9 L407.3 254.5 L407.3 255.1 L407.5 252.5 L407.5 252.7 L407.5 251.3 L407.5 253.1 L407.7 250.4 L407.7 250.8 L407.8 251.6 L408.0 248.2 L408.0 249.4 L408.1 250.7 L408.2 249.0 L408.2 249.0 L408.3 248.8 L408.5 252.3 L408.5 250.8 L408.5 250.3 L408.7 253.6 L408.7 253.6 L408.8 253.4 L408.8 251.5 L408.9 254.3 L409.0 253.8 L409.0 253.6 L409.2 256.2 L409.3 255.8 L409.3 255.3 L409.5 257.0 L409.5 256.9 L409.5 256.2 L409.6 258.0 L409.7 256.5 L409.8 257.0 L409.9 257.7 L410.0 255.3 L410.0 256.8 L410.0 255.1 L410.1 255.8 L410.2 253.1 L410.2 253.9 L410.3 253.0 L410.3 253.5 L410.4 251.6 L410.5 252.7 L410.5 252.2 L410.5 249.8 L410.7 252.5 L410.8 249.9 L411.0 252.6 L411.0 252.3 L411.0 251.7 L411.2 255.0 L411.2 254.9 L411.3 254.6 L411.4 257.6 L411.5 257.4 L411.5 258.7 L411.6 256.1 L411.7 256.6 L411.8 255.9 L411.8 255.2 L412.0 256.9 L412.0 255.9 L412.2 261.1 L412.3 261.2 L412.5 266.2 L412.5 265.8 L412.6 267.0 L412.6 264.0 L412.7 264.8 L412.8 265.9 L412.9 263.4 L413.0 264.4 L413.0 263.0 L413.2 261.0 L413.2 261.5 L413.3 261.1 L413.3 260.4 L413.4 262.3 L413.5 261.5 L413.5 263.4 L413.7 259.0 L413.8 259.7 L414.0 253.3 L414.0 253.2 L414.2 246.3 L414.3 243.9 L414.3 245.5 L414.3 242.6 L414.5 243.1 L414.5 243.2 L414.7 249.7 L414.8 250.3 L414.8 249.3 L415.0 257.0 L415.0 255.5 L415.0 257.5 L415.2 256.5 L415.3 256.4 L415.4 253.7 L415.5 255.4 L415.5 254.0 L415.7 258.8 L415.8 259.5 L415.8 257.8 L416.0 261.9 L416.0 261.7 L416.0 260.8 L416.0 263.2 L416.2 259.0 L416.3 258.8 L416.3 259.5 L416.4 255.1 L416.5 256.2 L416.5 255.9 L416.7 251.4 L416.7 254.1 L416.8 251.6 L417.0 253.9 L417.0 251.0 L417.0 253.8 L417.0 252.4 L417.2 255.6 L417.3 256.4 L417.3 255.9 L417.5 259.2 L417.5 258.2 L417.5 258.9 L417.6 261.1 L417.7 256.7 L417.8 257.0 L417.8 257.1 L418.0 249.9 L418.0 250.2 L418.0 249.5 L418.2 245.0 L418.2 245.5 L418.3 245.5 L418.3 244.5 L418.5 247.5 L418.5 247.2 L418.5 247.5 L418.5 247.0 L418.7 251.8 L418.7 251.1 L418.8 251.7 L418.9 255.1 L419.0 254.1 L419.0 255.4 L419.1 254.4 L419.2 258.2 L419.2 257.3 L419.3 257.7 L419.3 257.6 L419.5 261.0 L419.5 260.9 L419.5 262.0 L419.7 256.8 L419.7 258.0 L419.8 257.2 L420.0 247.7 L420.0 248.4 L420.0 247.2 L420.0 248.8 L420.2 244.1 L420.2 245.3 L420.3 245.0 L420.3 244.3 L420.5 247.8 L420.5 246.9 L420.5 247.5 L420.5 247.0 L420.7 250.2 L420.8 250.0 L420.8 249.0 L420.9 251.9 L421.0 250.5 L421.0 250.6 L421.1 253.3 L421.2 253.1 L421.3 252.4 L421.4 256.4 L421.5 255.2 L421.5 256.2 L421.7 252.6 L421.7 253.0 L421.8 253.3 L421.8 254.4 L421.9 251.3 L422.0 253.8 L422.0 253.3 L422.1 251.9 L422.2 254.5 L422.3 254.6 L422.3 254.3 L422.5 256.8 L422.5 254.6 L422.5 254.3 L422.5 255.0 L422.7 249.9 L422.7 250.2 L422.8 249.0 L422.8 250.1 L423.0 246.7 L423.0 247.9 L423.0 246.9 L423.2 251.8 L423.3 250.7 L423.3 250.4 L423.3 253.4 L423.5 250.6 L423.5 251.0 L423.5 251.1 L423.7 248.7 L423.7 249.6 L423.8 249.8 L423.8 248.0 L424.0 250.9 L424.0 249.2 L424.0 251.2 L424.1 251.3 L424.2 249.3 L424.3 250.1 L424.5 249.2 L424.5 252.1 L424.5 251.9 L424.5 251.3 L424.5 250.3 L424.7 254.8 L424.7 253.7 L424.8 253.0 L424.9 255.4 L425.0 252.5 L425.0 254.0 L425.0 254.2 L425.2 248.9 L425.3 249.5 L425.3 250.3 L425.5 248.0 L425.5 248.3 L425.5 249.1 L425.5 248.8 L425.7 255.4 L425.8 256.1 L425.8 255.9 L426.0 261.2 L426.0 260.2 L426.0 261.2 L426.2 253.3 L426.3 253.0 L426.3 253.6 L426.5 249.9 L426.5 250.4 L426.5 251.9 L426.6 251.2 L426.7 257.0 L426.8 256.8 L426.8 254.9 L426.8 257.6 L427.0 255.6 L427.0 254.1 L427.0 255.7 L427.2 252.8 L427.3 253.3 L427.3 252.9 L427.5 256.9 L427.5 256.7 L427.5 255.9 L427.7 258.2 L427.7 258.1 L427.8 257.4 L427.8 258.1 L427.9 255.5 L428.0 256.9 L428.0 255.4 L428.2 259.3 L428.2 257.7 L428.3 258.6 L428.3 259.3 L428.5 252.3 L428.5 253.3 L428.7 247.3 L428.8 249.9 L428.8 248.0 L429.0 251.7 L429.0 250.8 L429.0 249.8 L429.1 251.5 L429.2 249.1 L429.2 250.9 L429.3 250.3 L429.3 249.8 L429.5 258.4 L429.5 257.4 L429.5 258.7 L429.7 263.0 L429.7 262.1 L429.8 261.7 L429.8 262.2 L430.0 256.7 L430.0 257.6 L430.0 256.8 L430.0 258.2 L430.2 254.1 L430.3 254.2 L430.3 255.6 L430.5 251.6 L430.5 251.2 L430.5 251.8 L430.7 248.9 L430.8 249.0 L430.8 250.9 L430.8 248.2 L431.0 250.0 L431.0 248.7 L431.1 250.9 L431.2 248.4 L431.2 249.0 L431.3 249.0 L431.3 249.6 L431.4 246.3 L431.5 248.6 L431.5 248.6 L431.6 247.6 L431.7 250.4 L431.7 248.8 L431.8 249.2 L432.0 252.8 L432.0 252.6 L432.0 251.5 L432.2 255.6 L432.2 253.8 L432.3 256.0 L432.3 254.4 L432.5 260.2 L432.5 258.7 L432.7 262.4 L432.7 261.0 L432.8 261.7 L433.0 255.5 L433.0 256.0 L433.0 253.4 L433.0 255.3 L433.1 252.1 L433.2 252.2 L433.3 252.8 L433.5 255.1 L433.5 254.9 L433.6 253.5 L433.7 257.5 L433.7 256.0 L433.8 256.3 L433.9 258.0 L434.0 255.0 L434.0 254.5 L434.0 255.1 L434.2 247.5 L434.3 247.9 L434.3 248.5 L434.4 244.9 L434.5 246.5 L434.5 247.1 L434.5 246.4 L434.7 250.5 L434.8 249.8 L434.9 248.8 L435.0 251.4 L435.0 250.5 L435.0 250.1 L435.0 249.2 L435.2 253.4 L435.2 252.0 L435.3 253.0 L435.3 252.2 L435.5 256.6 L435.5 256.1 L435.5 256.2 L435.7 251.8 L435.7 253.0 L435.8 251.1 L435.9 249.6 L436.0 253.0 L436.0 251.5 L436.0 253.0 L436.0 251.9 L436.2 255.3 L436.2 254.9 L436.3 254.4 L436.3 253.8 L436.4 257.0 L436.5 256.7 L436.5 256.2 L436.5 255.6 L436.7 257.9 L436.7 256.2 L436.8 257.0 L436.9 256.2 L437.0 259.7 L437.0 259.4 L437.0 259.5 L437.0 259.9 L437.2 252.9 L437.2 253.2 L437.3 252.0 L437.3 252.9 L437.5 248.2 L437.5 250.0 L437.5 250.2 L437.5 249.8 L437.7 255.3 L437.7 254.7 L437.8 255.0 L437.8 255.2 L438.0 252.6 L438.0 253.4 L438.0 255.1 L438.1 252.9 L438.2 256.7 L438.2 255.8 L438.3 257.1 L438.4 258.2 L438.4 254.9 L438.5 256.0 L438.5 253.5 L438.5 254.8 L438.7 249.4 L438.7 250.0 L438.8 249.3 L438.8 248.2 L439.0 251.1 L439.0 250.5 L439.0 251.3 L439.1 250.7 L439.2 253.5 L439.3 253.3 L439.4 254.5 L439.5 251.4 L439.5 252.7 L439.5 252.3 L439.5 253.5 L439.6 250.3 L439.7 252.2 L439.8 251.1 L440.0 256.6 L440.0 256.4 L440.0 257.3 L440.1 257.6 L440.2 254.6 L440.3 255.4 L440.3 255.5 L440.5 248.5 L440.5 249.4 L440.5 248.7 L440.5 248.4 L440.7 256.1 L440.8 256.3 L440.9 259.8 L441.0 255.4 L441.0 255.3 L441.2 250.4 L441.2 251.0 L441.3 250.6 L441.3 250.1 L441.5 254.1 L441.5 253.5 L441.5 254.1 L441.5 254.1 L441.7 257.2 L441.7 256.9 L441.8 256.8 L441.8 256.8 L441.9 254.3 L442.0 256.0 L442.0 255.8 L442.0 255.0 L442.2 261.6 L442.3 260.2 L442.3 261.1 L442.5 254.5 L442.5 255.9 L442.6 253.4 L442.7 256.4 L442.7 255.6 L442.8 256.3 L442.8 255.5 L443.0 263.6 L443.0 265.6 L443.0 264.6 L443.1 268.1 L443.2 264.9 L443.3 265.4 L443.5 259.5 L443.5 260.4 L443.5 261.0 L443.7 253.9 L443.8 256.9 L444.0 252.2 L444.0 253.8 L444.0 252.9 L444.1 252.0 L444.2 256.9 L444.2 256.8 L444.3 256.9 L444.5 263.0 L444.5 261.6 L444.5 263.0 L444.7 253.4 L444.7 254.5 L444.8 253.1 L444.8 251.2 L445.0 255.9 L445.0 255.2 L445.0 255.9 L445.0 255.4 L445.2 265.9 L445.2 264.0 L445.3 265.8 L445.5 254.7 L445.5 254.2 L445.6 252.8 L445.7 255.2 L445.7 253.9 L445.8 253.5 L445.8 251.1 L446.0 257.0 L446.0 255.7 L446.2 264.7 L446.3 264.5 L446.3 265.6 L446.5 258.8 L446.5 260.2 L446.5 258.6 L446.5 261.2 L446.7 251.2 L446.7 252.8 L446.8 252.2 L446.8 252.2 L446.9 259.8 L447.0 259.4 L447.0 259.1 L447.2 247.1 L447.2 247.2 L447.3 247.6 L447.3 245.3 L447.5 249.9 L447.5 248.8 L447.6 252.8 L447.7 249.3 L447.8 249.8 L447.8 248.4 L448.0 252.6 L448.0 252.1 L448.2 256.5 L448.2 254.0 L448.3 254.2 L448.3 254.7 L448.5 249.1 L448.5 249.8 L448.6 248.9 L448.7 252.7 L448.8 253.4 L448.8 252.6 L449.0 255.2 L449.0 256.2 L449.0 254.1 L449.2 259.1 L449.2 258.0 L449.3 258.1 L449.3 258.5 L449.5 255.6 L449.5 256.0 L449.5 256.4 L449.7 247.7 L449.7 248.9 L449.8 248.9 L449.8 245.9 L450.0 252.8 L450.0 251.6 L450.2 258.2 L450.2 257.4 L450.3 257.6 L450.3 258.5 L450.5 253.2 L450.5 254.9 L450.5 253.2 L450.5 255.5 L450.6 252.0 L450.7 253.7 L450.8 253.5 L450.9 256.0 L451.0 252.0 L451.0 253.1 L451.0 252.5 L451.2 246.7 L451.2 249.1 L451.3 248.2 L451.3 247.9 L451.5 254.8 L451.5 253.3 L451.5 254.1 L451.5 253.9 L451.7 258.1 L451.8 258.8 L451.8 257.7 L451.9 261.3 L452.0 259.7 L452.0 259.6 L452.0 257.7 L452.1 260.8 L452.2 258.7 L452.3 259.0 L452.5 252.0 L452.5 252.5 L452.5 253.0 L452.7 248.6 L452.7 249.6 L452.8 250.1 L452.8 248.4 L453.0 259.3 L453.0 259.1 L453.0 258.8 L453.1 261.2 L453.2 256.8 L453.2 258.1 L453.3 257.8 L453.4 259.2 L453.5 255.1 L453.5 255.4 L453.5 254.7 L453.5 254.9 L453.7 244.8 L453.7 245.8 L453.8 243.9 L454.0 253.8 L454.0 253.8 L454.1 254.3 L454.1 251.0 L454.2 251.3 L454.3 251.7 L454.4 258.6 L454.5 258.6 L454.5 258.7 L454.6 260.0 L454.7 255.7 L454.7 257.8 L454.8 255.9 L454.8 257.6 L454.9 253.6 L455.0 255.7 L455.0 253.9 L455.0 256.6 L455.2 250.9 L455.2 251.6 L455.3 250.8 L455.3 249.8 L455.5 257.3 L455.5 256.1 L455.6 258.7 L455.7 253.5 L455.8 254.2 L455.8 254.6 L456.0 249.4 L456.0 250.7 L456.0 249.6 L456.0 249.3 L456.2 255.4 L456.2 254.1 L456.3 254.6 L456.3 255.6 L456.5 249.5 L456.5 249.9 L456.5 249.0 L456.6 251.7 L456.7 243.5 L456.8 243.4 L456.9 241.4 L457.0 248.8 L457.0 246.3 L457.0 248.3 L457.2 256.8 L457.2 255.0 L457.3 255.3 L457.3 255.5 L457.4 251.6 L457.5 252.9 L457.5 252.5 L457.5 251.6 L457.7 254.6 L457.8 253.5 L457.9 258.6 L458.0 255.3 L458.0 256.3 L458.2 247.0 L458.2 247.9 L458.3 248.6 L458.3 246.9 L458.5 254.6 L458.5 254.5 L458.5 255.0 L458.5 254.4 L458.7 263.9 L458.8 261.9 L458.8 262.3 L458.9 256.5 L459.0 257.8 L459.0 256.8 L459.1 258.7 L459.2 251.3 L459.2 252.5 L459.3 252.7 L459.5 250.3 L459.5 251.4 L459.5 251.6 L459.6 249.6 L459.7 252.4 L459.7 250.1 L459.8 251.9 L459.8 252.7 L460.0 243.5 L460.0 244.0 L460.0 242.9 L460.0 242.6 L460.2 250.6 L460.2 250.4 L460.3 250.3 L460.3 252.5 L460.5 247.1 L460.5 247.8 L460.5 248.1 L460.5 247.2 L460.7 254.7 L460.7 254.0 L460.8 254.3 L460.9 255.4 L461.0 252.6 L461.0 254.4 L461.0 252.6 L461.0 251.8 L461.2 261.3 L461.2 261.0 L461.3 262.2 L461.3 262.6 L461.5 253.3 L461.5 254.2 L461.6 249.3 L461.7 252.9 L461.8 253.1 L461.8 252.5 L461.9 256.8 L462.0 252.6 L462.0 251.5 L462.2 250.1 L462.2 253.3 L462.3 252.6 L462.4 262.4 L462.5 261.3 L462.5 262.3 L462.7 254.9 L462.7 255.6 L462.8 256.0 L462.9 250.8 L463.0 255.2 L463.0 254.7 L463.2 264.8 L463.2 261.3 L463.3 262.0 L463.3 262.5 L463.5 246.8 L463.5 247.7 L463.5 247.9 L463.5 247.1 L463.7 253.5 L463.7 252.6 L463.8 252.4 L463.9 254.5 L464.0 249.0 L464.0 251.7 L464.0 249.3 L464.0 250.2 L464.2 243.2 L464.2 247.4 L464.3 248.7 L464.3 253.5 L464.5 247.2 L464.5 248.4 L464.5 246.9 L464.6 245.4 L464.7 257.4 L464.8 257.3 L464.8 255.8 L465.0 258.7 L465.0 257.7 L465.0 258.9 L465.0 259.8 L465.2 248.6 L465.2 248.8 L465.3 247.2 L465.4 244.3 L465.5 252.9 L465.5 250.4 L465.5 252.4 L465.5 255.5 L465.5 251.2 L465.7 252.3 L465.8 251.7 L465.8 251.6 L465.9 260.5 L466.0 258.1 L466.0 258.1 L466.2 249.2 L466.2 251.0 L466.3 250.4 L466.3 248.6 L466.5 258.7 L466.5 258.2 L466.5 259.8 L466.7 248.8 L466.7 249.6 L466.8 249.7 L466.8 247.9 L467.0 254.4 L467.0 252.4 L467.0 253.1 L467.0 252.3 L467.2 261.5 L467.3 259.1 L467.3 260.7 L467.4 253.7 L467.5 255.7 L467.5 254.7 L467.5 256.8 L467.7 252.4 L467.7 254.0 L467.8 255.1 L467.9 261.4 L468.0 252.4 L468.0 251.9 L468.1 244.5 L468.2 252.4 L468.3 252.2 L468.3 255.6 L468.5 249.2 L468.5 250.2 L468.5 250.6 L468.5 249.7 L468.7 258.9 L468.7 256.9 L468.8 255.9 L468.8 257.4 L468.9 252.9 L469.0 256.4 L469.0 255.2 L469.0 257.2 L469.2 251.0 L469.2 252.0 L469.3 251.6 L469.3 248.2 L469.5 253.9 L469.5 253.2 L469.5 253.9 L469.5 253.1 L469.7 258.0 L469.7 256.5 L469.8 256.5 L469.8 256.6 L469.9 247.7 L470.0 249.5 L470.0 249.8 L470.1 249.1 L470.2 258.0 L470.3 257.2 L470.3 259.4 L470.5 248.3 L470.5 248.7 L470.5 248.0 L470.5 246.9 L470.7 259.8 L470.7 258.4 L470.8 257.4 L470.8 259.7 L470.9 251.3 L471.0 254.0 L471.0 252.7 L471.0 255.2 L471.2 249.5 L471.2 253.9 L471.3 253.7 L471.3 252.9 L471.4 258.5 L471.5 254.0 L471.5 254.2 L471.5 254.5 L471.7 245.4 L471.7 247.9 L471.8 247.4 L471.9 256.0 L472.0 255.4 L472.0 255.7 L472.0 256.1 L472.2 249.8 L472.2 250.9 L472.3 249.3 L472.3 246.6 L472.5 251.9 L472.5 251.8 L472.5 252.5"/>
<path stroke="#009E73" stroke-dasharray="4.6 1.1 0.7 1.2" d="M75.0 63.0 L104.9 99.0 L122.4 128.0 L134.8 150.0 L144.5 168.0 L155.0 190.0 L160.0 200.0 L163.0 205.0 L168.0 213.0 L174.0 221.0 L180.0 229.0 L187.0 236.5 L193.0 241.0 L200.0 245.0 L205.0 248.0 L210.0 251.0 L215.0 254.0 L219.0 255.6 L223.0 254.5 L227.0 252.0 L232.0 249.5 L237.0 248.0 L241.2 249.7 L242.1 250.4 L243.0 251.2 L243.8 251.9 L244.7 252.7 L245.5 253.5 L246.3 254.2 L247.2 254.2 L247.9 254.0 L248.7 253.9 L249.5 253.8 L250.2 253.8 L251.0 253.8 L251.7 253.7 L252.4 253.4 L253.1 253.1 L253.8 253.0 L254.5 253.2 L255.2 253.8 L255.8 254.5 L256.5 255.0 L257.1 255.3 L257.7 255.3 L258.4 255.3 L259.0 255.4 L259.6 255.8 L260.2 256.4 L260.8 257.1 L261.3 257.7 L261.9 257.9 L262.5 257.9 L263.0 257.9 L263.6 258.0 L264.1 257.8 L264.7 257.2 L265.2 256.7 L265.7 256.6 L266.2 256.6 L266.7 256.6 L267.2 256.3 L267.7 255.8 L268.2 255.1 L268.7 254.5 L269.2 254.0 L269.7 253.6 L270.2 253.2 L270.6 252.7 L271.1 252.2 L271.5 251.7 L272.0 251.6 L272.4 252.1 L272.9 253.2 L273.3 254.6 L273.8 255.8 L274.2 256.7 L274.6 256.8 L275.0 256.4 L275.4 255.7 L275.9 254.9 L276.3 254.1 L276.7 253.3 L277.1 252.6 L277.5 252.1 L277.9 252.0 L278.3 252.3 L278.6 252.9 L279.0 253.5 L279.4 253.9 L279.8 253.8 L280.2 253.4 L280.5 252.8 L280.9 252.6 L281.3 252.5 L281.6 252.4 L282.0 251.9 L282.3 251.1 L282.7 250.1 L283.0 249.5 L283.4 249.4 L283.7 249.9 L284.1 250.7 L284.4 251.4 L284.7 251.7 L285.1 251.8 L285.4 251.8 L285.7 252.0 L286.1 252.2 L286.4 252.0 L286.7 251.4 L287.0 250.9 L287.3 250.7 L287.7 250.7 L288.0 251.0 L288.3 251.3 L288.6 251.8 L288.9 252.4 L289.2 253.2 L289.5 253.8 L289.8 254.0 L290.1 253.8 L290.4 253.4 L290.7 253.1 L291.0 253.1 L291.2 253.4 L291.5 253.7 L291.8 254.1 L292.1 254.5 L292.4 254.4 L292.7 253.9 L292.9 252.9 L293.2 251.8 L293.5 251.1 L293.8 250.9 L294.0 251.2 L294.3 251.8 L294.6 252.6 L294.8 253.3 L295.1 253.6 L295.4 253.8 L295.6 253.8 L295.9 253.7 L296.1 253.9 L296.4 254.1 L296.7 254.4 L296.9 254.5 L297.2 254.3 L297.4 254.2 L297.7 254.5 L297.9 255.0 L298.1 255.6 L298.4 256.0 L298.6 256.1 L298.9 256.5 L299.1 257.2 L299.4 258.2 L299.6 258.9 L299.8 259.2 L300.1 258.9 L300.3 258.5 L300.5 258.4 L300.8 258.8 L301.0 259.0 L301.2 259.2 L301.5 259.5 L301.7 259.7 L301.9 259.5 L302.1 259.0 L302.4 258.1 L302.6 257.3 L302.8 256.7 L303.0 256.5 L303.2 256.6 L303.4 256.6 L303.7 256.4 L303.9 255.8 L304.1 254.8 L304.3 253.9 L304.5 253.7 L304.7 254.2 L304.9 254.9 L305.1 255.5 L305.4 255.7 L305.6 255.7 L305.8 255.6 L306.0 255.4 L306.2 255.4 L306.4 255.4 L306.6 255.6 L306.8 255.8 L307.0 255.7 L307.2 255.3 L307.4 254.4 L307.6 253.4 L307.8 252.6 L308.0 252.2 L308.2 251.9 L308.4 251.8 L308.6 251.9 L308.7 252.4 L308.9 253.5 L309.1 254.8 L309.3 255.7 L309.5 255.8 L309.7 254.8 L309.9 253.1 L310.1 251.2 L310.3 249.8 L310.4 248.8 L310.6 248.3 L310.8 248.4 L311.0 248.8 L311.2 249.6 L311.4 250.2 L311.5 250.2 L311.7 249.7 L311.9 248.7 L312.1 248.1 L312.2 248.3 L312.4 249.1 L312.6 249.9 L312.8 250.5 L312.9 250.5 L313.1 250.2 L313.3 250.2 L313.5 250.7 L313.6 251.5 L313.8 252.2 L314.0 252.4 L314.1 252.1 L314.3 251.5 L314.5 251.1 L314.7 250.9 L314.8 250.8 L315.0 250.8 L315.2 250.6 L315.3 250.4 L315.5 250.2 L315.6 250.2 L315.8 250.4 L316.0 251.2 L316.1 252.1 L316.3 253.2 L316.5 254.2 L316.6 254.8 L316.8 254.9 L316.9 254.5 L317.1 254.1 L317.3 253.6 L317.4 253.2 L317.6 252.5 L317.7 251.7 L317.9 250.6 L318.0 249.3 L318.2 248.1 L318.3 247.0 L318.5 246.4 L318.6 246.4 L318.8 247.0 L319.0 248.1 L319.1 249.6 L319.3 250.8 L319.4 251.3 L319.6 251.1 L319.7 250.1 L319.8 248.7 L320.0 247.2 L320.1 246.3 L320.3 246.2 L320.4 247.0 L320.6 248.2 L320.7 249.2 L320.9 249.7 L321.0 249.7 L321.2 249.6 L321.3 249.4 L321.5 249.0 L321.6 248.5 L321.7 248.1 L321.9 248.0 L322.0 248.2 L322.2 248.3 L322.3 248.1 L322.4 247.5 L322.6 246.6 L322.7 245.5 L322.9 244.7 L323.0 244.5 L323.1 245.3 L323.3 246.4 L323.4 247.3 L323.5 247.7 L323.7 247.8 L323.8 247.7 L323.9 247.8 L324.1 248.1 L324.2 248.5 L324.4 249.0 L324.5 249.4 L324.6 249.4 L324.8 249.2 L324.9 248.9 L325.0 248.9 L325.1 249.3 L325.3 249.9 L325.4 250.5 L325.5 250.9 L325.7 251.4 L325.8 252.1 L325.9 252.8 L326.1 253.3 L326.2 253.1 L326.3 252.6 L326.4 252.2 L326.6 252.3 L326.7 253.1 L326.8 254.3 L326.9 255.5 L327.1 256.3 L327.2 256.6 L327.3 256.5 L327.4 256.1 L327.6 255.9 L327.7 255.9 L327.8 256.3 L327.9 256.8 L328.1 257.0 L328.2 256.8 L328.3 256.1 L328.4 255.3 L328.6 254.8 L328.7 254.6 L328.8 254.8 L328.9 255.3 L329.0 255.7 L329.2 255.7 L329.3 255.4 L329.4 254.5 L329.5 253.4 L329.6 252.5 L329.7 252.2 L329.9 252.5 L330.0 253.0 L330.1 253.4 L330.2 253.8 L330.3 254.3 L330.4 254.8 L330.6 255.0 L330.7 254.8 L330.8 254.3 L330.9 253.7 L331.0 253.2 L331.1 253.0 L331.3 253.0 L331.4 253.2 L331.5 253.7 L331.6 254.5 L331.7 255.0 L331.8 255.2 L331.9 255.1 L332.0 255.0 L332.2 255.0 L332.3 254.8 L332.4 254.2 L332.5 253.0 L332.6 251.6 L332.7 250.6 L332.8 250.3 L332.9 250.7 L333.0 251.3 L333.1 251.8 L333.3 252.0 L333.4 251.8 L333.5 251.3 L333.6 250.5 L333.7 249.7 L333.8 248.8 L333.9 248.0 L334.0 247.5 L334.1 247.3 L334.2 247.3 L334.3 247.7 L334.4 248.1 L334.5 248.4 L334.6 248.4 L334.8 248.2 L334.9 247.9 L335.0 247.7 L335.1 247.7 L335.2 247.6 L335.3 247.4 L335.4 247.1 L335.5 246.5 L335.6 245.9 L335.7 245.3 L335.8 245.1 L335.9 245.4 L336.0 246.1 L336.1 247.3 L336.2 248.3 L336.3 248.9 L336.4 248.9 L336.5 248.7 L336.6 248.6 L336.7 248.9 L336.8 249.4 L336.9 250.0 L337.0 250.3 L337.1 250.4 L337.2 250.4 L337.3 250.5 L337.4 250.5 L337.5 250.0 L337.6 248.9 L337.7 247.5 L337.8 246.4 L337.9 245.9 L338.0 246.0 L338.1 246.5 L338.2 247.3 L338.3 248.1 L338.4 248.8 L338.5 248.9 L338.6 248.6 L338.7 248.0 L338.8 247.5 L338.9 247.5 L338.9 248.1 L339.0 249.0 L339.1 250.1 L339.2 251.0 L339.3 251.6 L339.4 252.1 L339.5 252.3 L339.6 252.4 L339.7 252.4 L339.8 252.5 L339.9 252.6 L340.0 252.8 L340.1 253.1 L340.2 253.8 L340.3 254.8 L340.4 255.7 L340.4 256.0 L340.5 255.8 L340.6 255.3 L340.7 254.8 L340.8 254.4 L340.9 254.2 L341.0 254.2 L341.1 254.3 L341.2 254.7 L341.3 255.3 L341.4 255.8 L341.4 255.9 L341.5 255.5 L341.6 254.7 L341.7 253.6 L341.8 252.9 L341.9 252.7 L342.0 252.8 L342.1 253.1 L342.2 253.1 L342.3 253.1 L342.3 252.9 L342.4 252.8 L342.5 252.6 L342.6 252.3 L342.7 252.0 L342.8 251.7 L342.9 251.8 L343.0 252.2 L343.0 252.9 L343.1 253.6 L343.2 254.4 L343.3 255.1 L343.4 255.7 L343.5 255.9 L343.6 255.7 L343.6 255.3 L343.7 254.7 L343.8 254.1 L343.9 253.8 L344.0 253.8 L344.1 254.0 L344.1 254.3 L344.2 254.8 L344.3 255.4 L344.4 255.9 L344.5 255.8 L344.6 255.3 L344.7 254.7 L344.7 254.4 L344.8 254.6 L344.9 255.1 L345.0 255.6 L345.1 255.9 L345.2 255.9 L345.2 255.6 L345.3 255.3 L345.4 255.3 L345.5 255.5 L345.6 256.0 L345.6 256.8 L345.7 257.8 L345.8 258.8 L345.9 259.4 L346.0 259.5 L346.0 259.3 L346.1 259.0 L346.2 258.7 L346.3 258.2 L346.4 257.5 L346.5 256.7 L346.5 255.9 L346.6 255.3 L346.7 254.9 L346.8 254.8 L346.9 255.1 L346.9 255.8 L347.0 256.8 L347.1 257.8 L347.2 258.5 L347.2 258.6 L347.3 258.1 L347.4 257.4 L347.5 256.7 L347.6 256.3 L347.6 256.0 L347.7 255.5 L347.8 255.0 L347.9 254.5 L347.9 254.2 L348.0 254.4 L348.1 255.0 L348.2 255.9 L348.3 256.7 L348.3 257.2 L348.4 257.7 L348.5 258.2 L348.6 258.7 L348.6 259.1 L348.7 259.2 L348.8 259.1 L348.9 258.6 L348.9 257.8 L349.0 256.5 L349.1 255.2 L349.2 254.1 L349.2 253.6 L349.3 253.5 L349.4 253.8 L349.5 254.3 L349.5 254.7 L349.6 255.0 L349.7 255.1 L349.8 255.0 L349.8 255.1 L349.9 255.3 L350.0 255.6 L350.1 255.6 L350.1 254.9 L350.2 253.9 L350.3 253.0 L350.4 252.6 L350.4 252.8 L350.5 253.2 L350.6 253.4 L350.6 253.4 L350.7 253.4 L350.8 253.5 L350.9 253.8 L350.9 254.2 L351.0 254.5 L351.1 254.6 L351.2 254.2 L351.2 253.4 L351.3 252.4 L351.4 251.7 L351.4 251.4 L351.5 251.4 L351.6 251.4 L351.7 251.2 L351.7 250.9 L351.8 250.7 L351.9 250.7 L351.9 250.7 L352.0 250.8 L352.1 251.0 L352.1 251.2 L352.2 251.4 L352.3 251.7 L352.4 252.3 L352.4 253.2 L352.5 254.1 L352.6 254.5 L352.6 254.0 L352.7 252.9 L352.8 251.6 L352.8 250.5 L352.9 249.9 L353.0 249.5 L353.0 249.4 L353.1 249.3 L353.2 248.8 L353.3 248.3 L353.3 248.0 L353.4 248.1 L353.5 248.4 L353.5 248.8 L353.6 249.4 L353.7 250.0 L353.7 250.7 L353.8 251.2 L353.9 251.4 L353.9 251.3 L354.0 251.2 L354.1 251.3 L354.1 251.5 L354.2 251.6 L354.3 251.6 L354.3 251.5 L354.4 251.3 L354.5 251.0 L354.5 250.6 L354.6 250.4 L354.7 250.4 L354.7 250.6 L354.8 250.9 L354.9 251.1 L354.9 251.2 L355.0 251.4 L355.1 251.8 L355.1 252.1 L355.2 252.3 L355.3 252.6 L355.3 253.0 L355.4 253.6 L355.5 253.9 L355.5 253.6 L355.6 252.8 L355.6 251.8 L355.7 251.1 L355.8 250.7 L355.8 250.8 L355.9 251.3 L356.0 252.0 L356.0 252.6 L356.1 252.9 L356.2 252.7 L356.2 252.2 L356.3 251.4 L356.4 250.9 L356.4 250.8 L356.5 251.2 L356.5 251.6 L356.6 252.0 L356.7 252.3 L356.7 252.4 L356.8 252.4 L356.9 252.3 L356.9 252.1 L357.0 251.7 L357.0 251.0 L357.1 250.2 L357.2 249.2 L357.2 248.5 L357.3 248.2 L357.4 248.3 L357.4 248.6 L357.5 249.1 L357.5 249.4 L357.6 249.3 L357.7 248.5 L357.7 247.4 L357.8 246.2 L357.9 245.3 L357.9 245.1 L358.0 245.4 L358.0 246.1 L358.1 247.0 L358.2 248.0 L358.2 248.8 L358.3 249.3 L358.3 249.3 L358.4 248.7 L358.5 247.9 L358.5 247.2 L358.6 246.7 L358.6 246.7 L358.7 247.0 L358.8 247.7 L358.8 248.5 L358.9 249.0 L358.9 248.9 L359.0 248.1 L359.1 246.8 L359.1 245.5 L359.2 244.6 L359.2 244.1 L359.3 243.9 L359.4 243.9 L359.4 243.9 L359.5 243.7 L359.5 243.4 L359.6 243.2 L359.7 243.3 L359.7 243.5 L359.8 243.6 L359.8 243.5 L359.9 243.1 L360.0 242.7 L360.0 242.5 L360.1 242.8 L360.1 243.6 L360.2 244.7 L360.2 245.8 L360.3 246.7 L360.4 246.9 L360.4 246.7 L360.5 246.6 L360.5 246.9 L360.6 247.5 L360.7 247.8 L360.7 247.7 L360.8 247.1 L360.8 246.6 L360.9 246.2 L360.9 246.1 L361.0 246.5 L361.1 247.1 L361.1 247.6 L361.2 247.7 L361.2 247.0 L361.3 245.9 L361.3 244.9 L361.4 244.7 L361.5 245.6 L361.5 246.9 L361.6 247.9 L361.6 248.5 L361.7 248.6 L361.7 248.5 L361.8 248.1 L361.8 247.5 L361.9 246.8 L362.0 246.3 L362.0 246.3 L362.1 246.7 L362.1 247.4 L362.2 248.2 L362.2 248.8 L362.3 248.8 L362.3 248.1 L362.4 247.0 L362.5 246.0 L362.5 245.5 L362.6 245.5 L362.6 245.8 L362.7 246.1 L362.7 246.4 L362.8 246.5 L362.8 246.3 L362.9 246.0 L363.0 245.7 L363.0 245.5 L363.1 245.5 L363.1 245.6 L363.2 245.6 L363.2 245.8 L363.3 246.4 L363.3 247.3 L363.4 248.5 L363.4 249.5 L363.5 250.1 L363.5 250.1 L363.6 249.7 L363.7 249.4 L363.7 249.1 L363.8 249.0 L363.8 249.0 L363.9 249.2 L363.9 249.6 L364.0 250.2 L364.0 250.8 L364.1 251.0 L364.1 251.1 L364.2 250.9 L364.2 250.9 L364.3 251.0 L364.3 251.2 L364.4 251.4 L364.5 251.4 L364.5 251.1 L364.6 250.4 L364.6 249.8 L364.7 249.6 L364.7 250.0 L364.8 251.2 L364.8 252.7 L364.9 254.2 L364.9 255.1 L365.0 255.1 L365.0 254.4 L365.1 253.6 L365.1 252.9 L365.2 252.8 L365.2 252.8 L365.3 252.7 L365.3 252.3 L365.4 251.8 L365.4 251.9 L365.5 252.6 L365.5 253.5 L365.6 254.2 L365.7 254.4 L365.7 254.1 L365.8 253.5 L365.8 252.8 L365.9 252.3 L365.9 252.3 L366.0 252.7 L366.0 253.1 L366.1 253.3 L366.1 253.4 L366.2 253.7 L366.2 254.2 L366.3 254.6 L366.3 254.6 L366.4 254.2 L366.4 253.9 L366.5 253.8 L366.5 254.0 L366.6 254.5 L366.6 254.9 L366.7 255.1 L366.7 254.9 L366.8 254.5 L366.8 254.1 L366.9 253.8 L366.9 253.6 L367.0 253.5 L367.0 253.6 L367.1 253.7 L367.1 253.8 L367.2 254.3 L367.2 255.2 L367.3 256.5 L367.3 257.7 L367.4 258.7 L367.4 259.4 L367.5 259.6 L367.5 259.3 L367.6 258.7 L367.6 257.8 L367.7 256.6 L367.7 255.4 L367.8 254.3 L367.8 253.7 L367.9 253.6 L367.9 254.2 L367.9 255.2 L368.0 256.1 L368.0 256.6 L368.1 256.6 L368.1 256.1 L368.2 255.5 L368.2 255.1 L368.3 254.8 L368.3 254.6 L368.4 254.2 L368.4 254.0 L368.5 254.4 L368.5 255.6 L368.6 257.2 L368.6 258.7 L368.7 259.6 L368.7 259.9 L368.8 259.8 L368.8 259.6 L368.9 259.5 L368.9 259.7 L369.0 259.9 L369.0 259.7 L369.1 259.0 L369.1 258.0 L369.1 257.2 L369.2 256.7 L369.2 256.4 L369.3 256.5 L369.3 256.9 L369.4 257.3 L369.4 257.4 L369.5 257.2 L369.5 257.0 L369.6 256.7 L369.6 256.4 L369.7 256.1 L369.7 255.8 L369.8 255.7 L369.8 255.9 L369.9 256.3 L369.9 257.0 L369.9 257.8 L370.0 258.4 L370.0 258.3 L370.1 257.5 L370.1 256.6 L370.2 256.3 L370.2 256.8 L370.3 257.6 L370.3 258.0 L370.4 257.8 L370.4 257.5 L370.5 257.6 L370.5 258.0 L370.5 258.3 L370.6 258.4 L370.6 258.1 L370.7 257.8 L370.7 257.8 L370.8 258.2 L370.8 258.5 L370.9 258.5 L370.9 258.1 L371.0 257.8 L371.0 257.7 L371.0 257.8 L371.1 258.0 L371.1 258.1 L371.2 258.2 L371.2 258.4 L371.3 258.5 L371.3 258.5 L371.4 258.3 L371.4 257.9 L371.5 257.4 L371.5 256.7 L371.5 256.1 L371.6 256.0 L371.6 256.7 L371.7 257.8 L371.7 258.9 L371.8 259.8 L371.8 260.3 L371.9 260.6 L371.9 260.4 L371.9 259.7 L372.0 258.8 L372.0 257.9 L372.1 257.1 L372.1 256.3 L372.2 255.5 L372.2 254.8 L372.3 254.4 L372.3 254.5 L372.3 255.1 L372.4 255.8 L372.4 256.2 L372.5 256.3 L372.5 256.3 L372.6 256.3 L372.6 256.4 L372.6 256.6 L372.7 256.5 L372.7 256.0 L372.8 255.2 L372.8 254.5 L372.9 253.8 L372.9 253.2 L373.0 252.6 L373.0 252.4 L373.0 252.6 L373.1 253.4 L373.1 254.3 L373.2 255.1 L373.2 255.7 L373.3 256.2 L373.3 256.5 L373.3 256.3 L373.4 255.7 L373.4 255.0 L373.5 254.5 L373.5 254.1 L373.6 253.5 L373.6 252.8 L373.6 252.0 L373.7 251.2 L373.7 250.9 L373.8 251.0 L373.8 251.7 L373.9 252.6 L373.9 253.4 L373.9 253.9 L374.0 254.1 L374.0 254.0 L374.1 254.0 L374.1 254.0 L374.1 254.0 L374.2 253.9 L374.2 253.9 L374.3 253.8 L374.3 253.8 L374.4 253.6 L374.4 253.7 L374.4 253.5 L374.5 253.6 L374.5 253.5 L374.6 253.4 L374.6 253.6 L374.7 253.2 L374.7 253.0 L374.7 253.5 L374.8 253.2 L374.8 253.0 L374.9 253.1 L374.9 253.2 L374.9 253.3 L375.0 253.3 L375.0 252.8 L375.1 253.3 L375.1 253.3 L375.1 252.3 L375.2 252.9 L375.2 252.7 L375.3 252.5 L375.3 252.7 L375.4 253.2 L375.4 253.5 L375.4 254.2 L375.5 253.3 L375.5 253.9 L375.6 253.5 L375.6 254.0 L375.6 253.8 L375.7 253.7 L375.7 253.8 L375.8 253.9 L375.8 254.3 L375.8 253.5 L375.9 254.0 L375.9 253.5 L376.0 253.4 L376.0 253.0 L376.0 252.1 L376.1 254.4 L376.1 253.3 L376.2 252.2 L376.2 252.6 L376.2 253.3 L376.3 254.9 L376.3 253.9 L376.4 253.2 L376.4 253.4 L376.4 254.6 L376.5 254.3 L376.5 253.7 L376.6 254.2 L376.6 254.5 L376.6 256.0 L376.7 255.4 L376.7 255.0 L376.8 254.7 L376.8 255.3 L376.8 256.2 L376.9 257.4 L376.9 256.3 L377.0 256.7 L377.0 255.8 L377.0 256.8 L377.1 255.7 L377.1 255.0 L377.2 256.0 L377.2 254.6 L377.2 257.3 L377.3 253.9 L377.3 255.3 L377.4 255.5 L377.4 254.6 L377.4 254.8 L377.5 256.5 L377.5 256.7 L377.6 255.0 L377.6 256.8 L377.6 255.4 L377.7 257.1 L377.7 256.7 L377.7 256.4 L377.8 255.9 L377.8 258.0 L377.9 257.6 L377.9 255.1 L377.9 257.1 L378.0 255.7 L378.0 257.3 L378.1 256.1 L378.1 257.9 L378.1 256.5 L378.2 256.5 L378.2 254.9 L378.2 254.9 L378.3 254.0 L378.3 253.4 L378.4 254.5 L378.4 252.4 L378.4 254.6 L378.5 253.7 L378.5 252.2 L378.6 252.6 L378.6 252.7 L378.6 251.8 L378.7 252.1 L378.7 252.4 L378.7 252.2 L378.8 252.7 L378.8 251.6 L378.9 252.4 L378.9 251.1 L378.9 251.5 L379.0 251.2 L379.0 250.7 L379.0 250.3 L379.1 250.6 L379.1 251.4 L379.2 250.3 L379.2 251.3 L379.2 250.0 L379.3 250.1 L379.3 251.5 L379.3 250.3 L379.4 251.3 L379.4 250.4 L379.5 253.0 L379.5 250.8 L379.5 251.6 L379.6 251.5 L379.6 254.3 L379.6 253.9 L379.7 254.4 L379.7 255.9 L379.8 254.0 L379.8 254.1 L379.8 255.3 L379.9 254.2 L379.9 254.5 L379.9 254.8 L380.0 255.0 L380.0 254.4 L380.0 255.2 L380.1 253.7 L380.1 255.2 L380.2 253.9 L380.2 252.2 L380.2 254.7 L380.3 253.7 L380.3 252.6 L380.3 251.3 L380.4 252.2 L380.4 253.1 L380.5 253.0 L380.5 252.8 L380.5 251.5 L380.6 253.2 L380.6 254.0 L380.6 253.2 L380.7 253.4 L380.7 251.4 L380.7 253.5 L380.8 253.4 L380.8 253.0 L380.8 252.9 L380.9 253.1 L380.9 251.6 L381.0 252.3 L381.0 253.0 L381.0 252.4 L381.1 250.1 L381.1 253.1 L381.1 251.1 L381.2 252.7 L381.2 253.4 L381.2 254.2 L381.3 252.9 L381.3 254.5 L381.4 255.3 L381.4 255.5 L381.4 255.8 L381.5 256.3 L381.5 257.7 L381.5 259.1 L381.6 259.2 L381.6 258.7 L381.6 259.0 L381.7 259.5 L381.7 259.6 L381.7 260.9 L381.8 262.0 L381.8 260.9 L381.8 261.3 L381.9 260.2 L381.9 262.0 L382.0 261.5 L382.0 259.2 L382.0 262.0 L382.1 262.5 L382.1 260.5 L382.1 261.0 L382.2 261.1 L382.2 259.4 L382.2 257.9 L382.3 259.3 L382.3 257.9 L382.3 257.5 L382.4 255.4 L382.4 257.5 L382.4 253.4 L382.5 253.5 L382.5 255.4 L382.5 253.2 L382.6 253.6 L382.6 253.0 L382.7 252.1 L382.7 248.9 L382.7 250.0 L382.8 250.8 L382.8 250.2 L382.8 250.4 L382.9 250.5 L382.9 249.8 L382.9 251.8 L383.0 250.3 L383.0 251.7 L383.0 252.1 L383.1 252.5 L383.1 253.7 L383.1 253.1 L383.2 253.7 L383.2 253.6 L383.2 252.5 L383.3 252.6 L383.3 253.3 L383.3 254.6 L383.4 253.3 L383.4 254.3 L383.4 251.0 L383.5 254.3 L383.5 252.5 L383.5 253.7 L383.6 254.4 L383.6 252.8 L383.6 252.1 L383.7 254.8 L383.7 253.4 L383.7 253.6 L383.8 255.6 L383.8 253.8 L383.8 254.7 L383.9 255.1 L383.9 254.6 L383.9 253.8 L384.0 255.2 L384.0 254.0 L384.0 254.8 L384.1 255.5 L384.1 253.3 L384.1 255.1 L384.2 255.7 L384.2 256.2 L384.2 256.1 L384.3 254.7 L384.3 254.8 L384.3 258.2 L384.4 257.0 L384.4 257.3 L384.4 257.3 L384.5 256.5 L384.5 258.7 L384.5 256.3 L384.6 257.4 L384.6 256.2 L384.6 257.3 L384.7 256.6 L384.7 257.5 L384.7 257.4 L384.8 255.5 L384.8 258.0 L384.8 256.7 L384.9 256.5 L384.9 256.2 L384.9 256.1 L385.0 255.0 L385.0 254.9 L385.0 256.7 L385.1 255.4 L385.1 254.5 L385.1 254.9 L385.2 255.1 L385.2 255.1 L385.2 255.9 L385.3 255.5 L385.3 255.4 L385.3 256.4 L385.4 255.3 L385.4 255.9 L385.4 257.0 L385.5 256.7 L385.5 258.4 L385.5 255.9 L385.6 258.0 L385.6 258.6 L385.6 258.1 L385.7 258.5 L385.7 258.2 L385.7 256.4 L385.8 257.3 L385.8 256.0 L385.8 257.9 L385.9 257.7 L385.9 257.2 L385.9 256.7 L385.9 256.0 L386.0 257.9 L386.0 256.6 L386.0 256.3 L386.1 255.3 L386.1 255.8 L386.1 256.1 L386.2 256.2 L386.2 254.4 L386.2 254.5 L386.3 254.8 L386.3 254.9 L386.3 253.5 L386.4 253.2 L386.4 253.7 L386.4 252.5 L386.5 253.3 L386.5 250.9 L386.5 252.0 L386.6 252.9 L386.6 252.4 L386.6 251.2 L386.6 250.2 L386.7 250.7 L386.7 252.5 L386.7 252.2 L386.8 249.9 L386.8 251.1 L386.8 251.7 L386.9 251.5 L386.9 252.3 L386.9 251.5 L387.0 251.1 L387.0 250.7 L387.0 253.1 L387.1 253.3 L387.1 252.3 L387.1 254.3 L387.2 255.7 L387.2 253.3 L387.2 253.6 L387.2 253.2 L387.3 254.5 L387.3 254.8 L387.3 254.1 L387.4 255.6 L387.4 255.8 L387.4 257.0 L387.5 255.3 L387.5 253.3 L387.5 252.6 L387.6 253.9 L387.6 253.9 L387.6 251.4 L387.6 252.3 L387.7 252.4 L387.7 252.5 L387.7 252.0 L387.8 252.7 L387.8 252.3 L387.8 251.9 L387.9 251.3 L387.9 250.6 L387.9 249.6 L388.0 249.9 L388.0 251.0 L388.0 249.6 L388.0 252.4 L388.1 250.0 L388.1 251.3 L388.1 252.9 L388.2 250.8 L388.2 252.1 L388.2 252.1 L388.3 251.1 L388.3 250.2 L388.3 251.9 L388.3 252.3 L388.4 253.0 L388.4 253.0 L388.4 251.4 L388.5 251.1 L388.5 252.1 L388.5 252.2 L388.6 253.2 L388.6 251.6 L388.6 250.5 L388.7 252.6 L388.7 251.9 L388.7 252.0 L388.7 251.2 L388.8 252.4 L388.8 250.2 L388.8 252.3 L388.9 252.0 L388.9 251.7 L388.9 253.3 L389.0 252.0 L389.0 252.2 L389.0 252.2 L389.0 253.4 L389.1 253.5 L389.1 254.2 L389.1 254.1 L389.2 256.1 L389.2 255.5 L389.2 255.6 L389.3 256.8 L389.3 256.5 L389.3 257.4 L389.3 256.2 L389.4 255.3 L389.4 255.4 L389.4 256.1 L389.5 254.0 L389.5 254.2 L389.5 256.2 L389.5 255.3 L389.6 255.7 L389.6 254.7 L389.6 255.6 L389.7 253.1 L389.7 254.3 L389.7 253.4 L389.8 253.1 L389.8 253.4 L389.8 252.8 L389.8 252.1 L389.9 254.2 L389.9 253.9 L389.9 254.3 L390.0 253.2 L390.0 253.9 L390.0 253.5 L390.0 253.2 L390.1 254.5 L390.1 255.5 L390.1 254.6 L390.2 253.8 L390.2 256.5 L390.2 254.6 L390.2 256.1 L390.3 254.1 L390.3 253.3 L390.3 253.5 L390.4 253.7 L390.4 254.5 L390.4 254.9 L390.5 254.6 L390.5 254.4 L390.5 254.5 L390.5 257.6 L390.6 254.5 L390.6 256.6 L390.6 254.5 L390.7 255.1 L390.7 256.3 L390.7 255.2 L390.7 255.6 L390.8 256.0 L390.8 255.9 L390.8 255.8 L390.9 254.5 L390.9 254.2 L390.9 254.8 L390.9 253.5 L391.0 255.0 L391.0 254.1 L391.0 255.7 L391.1 255.6 L391.1 256.8 L391.1 256.1 L391.1 254.7 L391.2 256.6 L391.2 256.9 L391.2 256.2 L391.3 258.3 L391.3 256.3 L391.3 257.8 L391.3 256.0 L391.4 260.1 L391.4 259.1 L391.4 257.4 L391.5 256.7 L391.5 258.8 L391.5 259.9 L391.5 258.8 L391.6 259.2 L391.6 259.0 L391.6 258.1 L391.6 256.3 L391.7 258.8 L391.7 257.4 L391.7 257.3 L391.8 258.2 L391.8 256.7 L391.8 256.1 L391.8 255.9 L391.9 257.7 L391.9 257.0 L391.9 256.4 L392.0 254.9 L392.0 255.6 L392.0 255.1 L392.0 255.1 L392.1 255.4 L392.1 254.8 L392.1 255.4 L392.2 254.9 L392.2 255.2 L392.2 254.1 L392.2 253.9 L392.3 254.4 L392.3 256.4 L392.3 256.2 L392.3 255.8 L392.4 255.2 L392.4 254.4 L392.4 254.1 L392.5 254.0 L392.5 254.8 L392.5 252.5 L392.5 251.7 L392.6 250.5 L392.6 252.4 L392.6 249.5 L392.6 250.6 L392.7 250.0 L392.7 249.4 L392.7 247.5 L392.8 248.8 L392.8 247.9 L392.8 247.4 L392.8 247.8 L392.9 246.4 L392.9 248.1 L392.9 248.3 L392.9 247.7 L393.0 249.4 L393.0 249.0 L393.0 248.6 L393.1 249.3 L393.1 250.2 L393.1 250.3 L393.1 251.1 L393.2 249.7 L393.2 251.4 L393.2 253.3 L393.2 253.4 L393.3 252.6 L393.3 253.2 L393.3 253.4 L393.4 253.7 L393.4 254.4 L393.4 255.1 L393.4 254.8 L393.5 257.5 L393.5 256.8 L393.5 254.9 L393.5 257.7 L393.6 255.4 L393.6 255.7 L393.6 256.9 L393.7 256.2 L393.7 255.9 L393.7 256.5 L393.7 257.5 L393.8 255.1 L393.8 256.4 L393.8 254.6 L393.8 255.7 L393.9 254.6 L393.9 255.8 L393.9 252.8 L393.9 255.7 L394.0 254.6 L394.0 254.4 L394.0 255.4 L394.1 254.2 L394.1 253.9 L394.1 252.9 L394.1 253.2 L394.2 255.2 L394.2 253.1 L394.2 252.9 L394.2 252.5 L394.3 252.3 L394.3 254.2 L394.3 253.2 L394.3 252.9 L394.4 250.4 L394.4 252.9 L394.4 253.8 L394.4 250.9 L394.5 252.5 L394.5 252.1 L394.5 252.2 L394.6 254.8 L394.6 253.0 L394.6 253.5 L394.6 251.3 L394.7 251.8 L394.7 252.4 L394.7 251.1 L394.7 252.3 L394.8 252.4 L394.8 253.0 L394.8 252.6 L394.8 253.6 L394.9 252.3 L394.9 253.7 L394.9 251.9 L394.9 251.5 L395.0 250.5 L395.0 252.6 L395.0 252.5 L395.1 252.5 L395.1 251.3 L395.1 251.0 L395.1 252.0 L395.2 252.6 L395.2 251.5 L395.2 252.9 L395.2 252.3 L395.3 253.0 L395.3 252.7 L395.3 252.4 L395.3 253.5 L395.4 253.5 L395.4 254.6 L395.4 252.5 L395.4 253.0 L395.5 253.4 L395.5 255.0 L395.5 251.9 L395.5 253.4 L395.6 253.2 L395.6 252.8 L395.6 253.7 L395.6 252.3 L395.7 253.1 L395.7 253.9 L395.7 255.4 L395.7 254.3 L395.8 254.2 L395.8 255.1 L395.8 255.8 L395.8 255.5 L395.9 255.5 L395.9 254.9 L395.9 256.9 L395.9 255.6 L396.0 255.3 L396.0 254.1 L396.0 252.9 L396.1 253.9 L396.1 253.8 L396.1 253.5 L396.1 252.3 L396.2 253.6 L396.2 253.2 L396.2 251.7 L396.2 252.6 L396.3 252.6 L396.3 255.1 L396.3 253.1 L396.3 253.3 L396.4 252.6 L396.4 253.8 L396.4 253.8 L396.4 253.8 L396.5 252.5 L396.5 254.2 L396.5 253.4 L396.5 255.7 L396.6 255.1 L396.6 256.0 L396.6 254.8 L396.6 256.3 L396.7 255.7 L396.7 254.6 L396.7 256.7 L396.7 254.2 L396.8 255.8 L396.8 255.8 L396.8 255.3 L396.8 253.7 L396.9 254.9 L396.9 254.8 L396.9 253.3 L396.9 254.1 L397.0 253.5 L397.0 253.0 L397.0 254.3 L397.0 252.8 L397.1 253.1 L397.1 252.5 L397.1 252.0 L397.1 253.4 L397.2 251.7 L397.2 253.9 L397.2 252.0 L397.2 253.8 L397.3 253.4 L397.3 254.4 L397.3 252.9 L397.3 253.9 L397.4 253.9 L397.4 253.4 L397.4 254.7 L397.4 254.8 L397.4 255.7 L397.5 254.9 L397.5 255.2 L397.5 254.2 L397.5 256.2 L397.6 255.2 L397.6 255.7 L397.6 256.3 L397.6 256.5 L397.7 257.2 L397.7 254.9 L397.7 257.7 L397.7 258.5 L397.8 256.2 L397.8 258.4 L397.8 256.9 L397.8 258.2 L397.9 259.0 L397.9 256.6 L397.9 257.7 L397.9 256.8 L398.0 257.8 L398.0 256.1 L398.0 255.5 L398.0 257.9 L398.1 256.5 L398.1 256.2 L398.1 257.1 L398.1 254.7 L398.2 255.5 L398.2 254.0 L398.2 254.2 L398.2 253.5 L398.3 253.0 L398.3 251.9 L398.3 250.9 L398.3 250.6 L398.3 249.9 L398.4 249.8 L398.4 251.0 L398.4 251.6 L398.4 249.1 L398.5 249.0 L398.5 249.2 L398.5 249.8 L398.5 249.7 L398.6 249.2 L398.6 250.7 L398.6 248.9 L398.6 250.8 L398.7 249.3 L398.7 249.3 L398.7 248.3 L398.7 249.0 L398.8 252.0 L398.8 252.2 L398.8 252.2 L398.8 252.3 L398.9 251.0 L398.9 250.8 L398.9 252.9 L398.9 253.7 L398.9 252.6 L399.0 252.5 L399.0 255.2 L399.0 254.2 L399.0 252.5 L399.1 252.3 L399.1 252.8 L399.1 253.0 L399.1 254.0 L399.2 255.3 L399.2 253.1 L399.2 253.6 L399.2 254.5 L399.3 253.9 L399.3 252.6 L399.3 252.6 L399.3 252.3 L399.3 252.2 L399.4 252.4 L399.4 251.8 L399.4 252.1 L399.4 251.7 L399.5 252.4 L399.5 251.5 L399.5 251.3 L399.5 251.0 L399.6 251.0 L399.6 254.3 L399.6 252.7 L399.6 253.7 L399.7 253.3 L399.7 253.0 L399.7 253.4 L399.7 252.6 L399.7 254.4 L399.8 255.1 L399.8 252.9 L399.8 255.4 L399.8 255.4 L399.9 255.7 L399.9 255.2 L399.9 255.1 L399.9 255.3 L400.0 257.1 L400.0 257.0 L400.0 256.0 L400.1 257.7 L400.2 256.6 L400.3 255.4 L400.5 250.5 L400.5 251.4 L400.6 249.9 L400.7 254.6 L400.7 253.6 L400.8 252.7 L400.8 252.0 L400.9 254.5 L401.0 254.3 L401.0 254.1 L401.0 252.7 L401.2 257.3 L401.2 257.0 L401.3 255.1 L401.3 257.4 L401.4 254.8 L401.5 256.5 L401.5 255.3 L401.6 257.9 L401.7 254.6 L401.7 254.7 L401.8 256.1 L401.9 255.6 L402.0 257.9 L402.0 258.8 L402.0 258.1 L402.1 261.4 L402.2 259.9 L402.3 260.1 L402.3 261.7 L402.5 256.7 L402.5 257.2 L402.7 249.9 L402.8 252.2 L402.8 249.5 L402.9 253.9 L403.0 252.3 L403.0 250.8 L403.0 254.0 L403.2 250.5 L403.2 252.9 L403.3 252.9 L403.3 253.3 L403.5 249.7 L403.5 251.0 L403.5 250.4 L403.6 249.7 L403.7 254.3 L403.8 253.2 L403.8 252.8 L404.0 257.0 L404.0 255.9 L404.0 257.7 L404.0 255.4 L404.2 259.3 L404.2 258.0 L404.3 257.7 L404.3 258.2 L404.5 252.3 L404.5 254.3 L404.5 253.9 L404.5 250.7 L404.7 255.6 L404.8 255.9 L404.9 258.2 L405.0 254.5 L405.0 256.4 L405.1 252.5 L405.2 255.9 L405.3 253.1 L405.4 258.3 L405.5 255.9 L405.5 254.7 L405.6 256.6 L405.7 252.9 L405.7 253.8 L405.8 253.5 L405.8 251.4 L406.0 254.8 L406.0 254.1 L406.0 252.2 L406.2 255.1 L406.2 253.4 L406.3 253.7 L406.3 255.5 L406.5 251.7 L406.5 250.1 L406.6 252.6 L406.7 250.0 L406.7 251.3 L406.8 251.0 L406.9 250.5 L406.9 254.0 L407.0 252.9 L407.0 254.1 L407.2 251.5 L407.2 253.1 L407.3 251.6 L407.3 251.6 L407.4 249.0 L407.5 249.1 L407.5 248.0 L407.5 247.8 L407.7 252.0 L407.7 249.5 L407.8 252.8 L407.8 250.6 L407.9 254.3 L408.0 252.4 L408.0 251.8 L408.1 251.3 L408.2 254.9 L408.2 253.6 L408.3 253.8 L408.4 257.0 L408.5 256.5 L408.5 256.7 L408.5 255.4 L408.6 258.4 L408.7 257.6 L408.8 256.5 L408.8 256.8 L409.0 253.0 L409.0 254.1 L409.1 251.2 L409.1 254.1 L409.2 252.0 L409.3 253.3 L409.4 252.2 L409.4 256.0 L409.5 254.2 L409.5 255.4 L409.5 259.1 L409.7 256.3 L409.8 256.0 L410.0 251.7 L410.0 253.1 L410.0 252.6 L410.1 251.4 L410.2 256.1 L410.2 255.6 L410.3 255.4 L410.3 257.8 L410.4 253.3 L410.5 255.3 L410.5 254.7 L410.7 258.0 L410.7 257.7 L410.8 256.3 L410.8 256.9 L410.9 253.8 L411.0 254.2 L411.0 252.3 L411.1 253.4 L411.1 251.3 L411.2 251.9 L411.3 252.2 L411.3 250.8 L411.5 254.3 L411.5 252.9 L411.5 254.1 L411.7 250.7 L411.7 254.6 L411.7 253.4 L411.8 254.8 L411.9 252.9 L411.9 256.5 L412.0 255.6 L412.0 255.6 L412.1 256.5 L412.2 252.4 L412.2 253.1 L412.3 252.4 L412.4 254.6 L412.5 251.8 L412.5 253.9 L412.5 255.7 L412.7 250.5 L412.7 250.7 L412.8 250.8 L412.8 251.4 L412.9 247.2 L413.0 250.1 L413.0 247.8 L413.2 251.1 L413.2 250.8 L413.3 249.8 L413.5 254.4 L413.5 252.3 L413.5 252.1 L413.5 253.0 L413.7 250.6 L413.8 250.9 L413.8 247.7 L413.9 251.4 L414.0 250.5 L414.0 251.3 L414.1 250.9 L414.2 254.9 L414.3 255.6 L414.3 254.3 L414.4 256.9 L414.5 255.8 L414.5 255.3 L414.5 255.7 L414.7 250.1 L414.7 251.1 L414.8 251.5 L414.8 249.9 L415.0 255.7 L415.0 255.2 L415.1 254.6 L415.2 258.1 L415.2 256.9 L415.3 256.0 L415.3 252.6 L415.5 253.1 L415.5 253.9 L415.5 251.3 L415.7 256.6 L415.7 253.7 L415.8 254.9 L415.9 257.3 L416.0 255.3 L416.0 255.0 L416.0 256.5 L416.2 250.5 L416.3 252.0 L416.3 248.8 L416.5 252.3 L416.5 251.8 L416.6 251.2 L416.7 254.6 L416.7 253.4 L416.8 253.9 L416.9 253.9 L417.0 250.0 L417.0 251.4 L417.0 249.7 L417.2 253.2 L417.2 252.7 L417.3 252.4 L417.4 256.2 L417.5 253.8 L417.5 252.6 L417.6 252.4 L417.7 256.7 L417.7 255.6 L417.8 255.0 L417.8 255.6 L417.9 250.4 L418.0 250.9 L418.0 250.4 L418.2 256.4 L418.3 255.5 L418.3 256.4 L418.4 254.6 L418.5 256.2 L418.5 254.6 L418.7 259.2 L418.8 258.2 L418.9 261.3 L419.0 257.5 L419.0 258.6 L419.0 256.2 L419.0 257.0 L419.2 252.7 L419.3 252.9 L419.3 253.7 L419.4 250.0 L419.5 252.3 L419.5 253.3 L419.5 251.4 L419.7 259.1 L419.7 254.9 L419.8 253.9 L419.8 255.6 L419.9 250.7 L420.0 252.4 L420.0 254.0 L420.0 251.1 L420.1 254.8 L420.2 254.6 L420.3 251.9 L420.3 252.1 L420.4 247.3 L420.5 249.1 L420.5 249.0 L420.5 249.0 L420.6 252.0 L420.7 250.6 L420.8 250.6 L420.8 250.8 L420.9 247.7 L421.0 250.5 L421.0 252.0 L421.0 249.7 L421.2 259.4 L421.2 259.1 L421.3 258.3 L421.3 260.5 L421.5 253.4 L421.5 254.7 L421.5 253.5 L421.6 249.3 L421.7 254.6 L421.8 253.3 L421.9 257.4 L422.0 256.3 L422.0 253.3 L422.1 253.2 L422.2 257.4 L422.2 256.3 L422.3 256.4 L422.4 259.1 L422.5 254.2 L422.5 254.7 L422.5 253.8 L422.5 257.0 L422.7 252.6 L422.8 254.1 L423.0 249.2 L423.0 249.2 L423.0 246.4 L423.1 245.3 L423.2 252.8 L423.2 252.6 L423.3 253.1 L423.4 257.5 L423.5 254.1 L423.5 253.7 L423.7 247.7 L423.7 248.6 L423.8 247.3 L423.8 245.9 L424.0 255.5 L424.0 255.3 L424.0 256.5 L424.2 251.6 L424.3 252.4 L424.3 255.0 L424.5 249.0 L424.5 250.0 L424.5 248.1 L424.5 249.7 L424.6 246.9 L424.7 249.6 L424.8 248.6 L425.0 255.0 L425.0 254.3 L425.0 255.3 L425.0 254.8 L425.1 259.1 L425.2 255.8 L425.3 256.5 L425.4 251.9 L425.5 253.9 L425.5 253.6 L425.5 255.2 L425.7 250.8 L425.7 252.3 L425.8 253.7 L425.9 251.5 L426.0 255.7 L426.0 254.7 L426.2 259.3 L426.2 256.9 L426.3 257.4 L426.3 257.8 L426.4 252.1 L426.5 253.1 L426.5 250.6 L426.5 251.7 L426.7 247.8 L426.7 249.1 L426.8 249.1 L426.8 251.8 L427.0 246.7 L427.0 247.6 L427.0 247.8 L427.1 245.4 L427.2 250.9 L427.3 251.7 L427.3 250.5 L427.5 255.1 L427.5 253.5 L427.5 252.5 L427.6 259.4 L427.7 257.2 L427.8 256.5 L427.8 258.6 L428.0 251.6 L428.0 252.3 L428.0 250.8 L428.1 254.3 L428.2 252.8 L428.3 252.7 L428.3 251.8 L428.4 256.7 L428.5 254.5 L428.5 253.9 L428.5 252.6 L428.7 258.6 L428.7 257.5 L428.8 258.2 L428.8 259.8 L429.0 252.9 L429.0 254.8 L429.0 253.4 L429.1 249.2 L429.2 252.7 L429.3 252.9 L429.4 255.6 L429.5 253.2 L429.5 254.1 L429.6 253.4 L429.7 258.8 L429.7 254.6 L429.8 254.5 L429.8 256.0 L429.9 248.3 L430.0 253.8 L430.0 255.3 L430.0 253.5 L430.2 259.5 L430.2 257.8 L430.3 258.9 L430.4 249.9 L430.5 251.8 L430.5 252.2 L430.5 250.6 L430.7 254.5 L430.8 254.8 L430.8 257.1 L431.0 251.9 L431.0 251.3 L431.2 248.6 L431.3 250.1 L431.3 249.2 L431.4 252.8 L431.5 252.6 L431.5 251.9 L431.5 251.1 L431.7 255.9 L431.7 253.1 L431.8 253.6 L431.8 254.0 L431.9 249.0 L432.0 251.7 L432.0 252.2 L432.2 255.3 L432.2 254.3 L432.3 253.3 L432.3 255.3 L432.5 251.4 L432.5 251.5 L432.5 251.3 L432.6 249.4 L432.7 254.7 L432.7 254.4 L432.8 253.1 L432.9 257.0 L433.0 255.9 L433.0 256.0 L433.0 256.9 L433.2 253.2 L433.2 254.4 L433.3 252.8 L433.3 251.5 L433.5 257.3 L433.5 253.1 L433.5 253.2 L433.6 251.1 L433.7 256.0 L433.7 256.0 L433.8 256.6 L433.8 256.8 L434.0 251.3 L434.0 253.0 L434.0 251.0 L434.0 251.0 L434.1 246.2 L434.2 248.1 L434.3 248.1 L434.3 247.9 L434.5 255.5 L434.5 255.7 L434.6 253.5 L434.7 257.6 L434.8 255.0 L435.0 260.9 L435.0 258.4 L435.2 252.7 L435.2 254.3 L435.3 252.5 L435.4 251.5 L435.4 255.5 L435.5 254.8 L435.5 253.9 L435.5 255.1 L435.6 252.5 L435.7 253.6 L435.8 254.3 L435.8 256.2 L436.0 249.6 L436.0 251.3 L436.0 249.9 L436.2 262.0 L436.2 260.3 L436.3 260.9 L436.4 255.8 L436.5 258.0 L436.5 256.5 L436.5 257.5 L436.6 253.2 L436.7 257.1 L436.8 257.9 L436.8 258.5 L437.0 252.7 L437.0 252.3 L437.0 253.8 L437.2 246.9 L437.2 250.0 L437.3 246.9 L437.4 252.7 L437.5 249.7 L437.5 250.7 L437.6 253.9 L437.7 249.6 L437.7 251.4 L437.8 252.2 L437.9 246.7 L438.0 251.1 L438.0 250.8 L438.2 248.7 L438.2 253.5 L438.2 253.5 L438.3 253.7 L438.3 253.0 L438.4 257.8 L438.5 254.6 L438.5 257.8 L438.7 250.9 L438.7 251.3 L438.8 249.2 L438.9 246.5 L439.0 250.1 L439.0 250.7 L439.2 258.4 L439.2 256.0 L439.3 256.2 L439.3 258.1 L439.4 249.3 L439.5 252.2 L439.5 251.1 L439.5 250.1 L439.7 258.6 L439.7 257.5 L439.8 256.3 L439.9 259.2 L440.0 251.3 L440.0 252.3 L440.0 254.4 L440.1 251.1 L440.2 255.9 L440.3 254.5 L440.5 249.1 L440.5 251.2 L440.6 248.8 L440.7 252.0 L440.7 250.3 L440.8 250.3 L440.8 251.4 L440.9 247.6 L441.0 251.1 L441.0 248.8 L441.0 248.6 L441.2 253.4 L441.2 251.2 L441.3 251.8 L441.3 253.3 L441.4 248.5 L441.5 250.0 L441.5 247.9 L441.7 255.1 L441.7 252.1 L441.8 253.7 L441.8 252.2 L441.9 256.5 L442.0 255.5 L442.0 255.7 L442.2 258.1 L442.2 254.1 L442.2 255.8 L442.3 254.3 L442.3 257.1 L442.5 251.5 L442.5 252.0 L442.5 252.6 L442.5 252.1 L442.7 257.1 L442.7 256.2 L442.8 255.5 L442.8 255.9 L443.0 252.2 L443.0 255.2 L443.0 255.3 L443.2 249.2 L443.2 251.1 L443.3 250.1 L443.4 251.1 L443.5 247.2 L443.5 247.5 L443.5 246.4 L443.6 246.0 L443.7 256.1 L443.7 255.1 L443.8 256.4 L443.9 258.5 L444.0 253.0 L444.0 254.3 L444.0 255.0 L444.0 256.2 L444.2 250.8 L444.2 255.0 L444.3 251.8 L444.3 251.3 L444.4 259.1 L444.5 255.0 L444.5 255.2 L444.7 251.4 L444.7 255.8 L444.8 255.5 L444.8 257.9 L444.9 252.8 L445.0 253.4 L445.0 255.8 L445.1 253.0 L445.2 259.4 L445.2 256.9 L445.3 257.9 L445.3 259.4 L445.4 252.5 L445.5 253.4 L445.5 252.3 L445.5 255.5 L445.7 248.3 L445.7 249.7 L445.8 249.9 L445.8 246.5 L446.0 257.2 L446.0 256.9 L446.0 258.8 L446.2 250.6 L446.2 250.9 L446.3 252.0 L446.3 248.7 L446.4 254.0 L446.5 251.7 L446.5 249.9 L446.5 252.2 L446.7 248.4 L446.7 250.2 L446.8 250.6 L446.8 254.6 L447.0 247.1 L447.0 248.3 L447.0 246.7 L447.2 256.1 L447.3 255.6 L447.3 255.6 L447.3 260.2 L447.5 256.1 L447.5 253.9 L447.5 258.2 L447.6 250.5 L447.7 253.3 L447.8 253.4 L447.8 256.2 L448.0 250.2 L448.0 253.4 L448.0 253.2 L448.1 256.8 L448.2 251.4 L448.3 252.8 L448.3 252.8 L448.4 257.7 L448.5 257.6 L448.5 257.7 L448.5 258.3 L448.7 250.8 L448.7 254.4 L448.8 254.2 L448.8 256.1 L448.9 246.0 L449.0 248.9 L449.0 249.6 L449.1 247.0 L449.2 251.3 L449.2 248.6 L449.3 250.5 L449.3 249.9 L449.4 255.8 L449.5 251.1 L449.5 252.6 L449.5 248.5 L449.7 258.1 L449.7 255.8 L449.8 252.9 L449.9 251.6 L450.0 256.6 L450.0 256.3 L450.0 257.4 L450.1 259.6 L450.2 249.4 L450.2 249.7 L450.3 246.8 L450.5 257.2 L450.5 256.2 L450.5 256.9 L450.7 248.9 L450.7 250.6 L450.8 250.6 L450.8 253.9 L451.0 246.9 L451.0 247.6 L451.0 247.6 L451.0 245.1 L451.2 256.4 L451.2 251.8 L451.3 251.2 L451.4 252.8 L451.5 250.4 L451.5 251.3 L451.5 252.1 L451.6 250.1 L451.7 255.0 L451.7 253.6 L451.8 255.3 L451.9 256.8 L452.0 251.0 L452.0 253.0 L452.0 252.2 L452.2 262.4 L452.2 262.2 L452.3 261.5 L452.4 254.3 L452.5 255.9 L452.5 256.2 L452.5 256.5 L452.7 247.9 L452.7 248.4 L452.8 250.2 L452.8 247.8 L452.9 254.7 L453.0 251.8 L453.0 252.1 L453.1 250.0 L453.2 260.5 L453.2 257.6 L453.3 259.0 L453.3 259.7 L453.5 246.1 L453.5 248.6 L453.5 246.9 L453.7 256.4 L453.7 252.9 L453.8 252.4 L453.8 250.9 L453.9 256.0 L454.0 254.7 L454.0 252.7 L454.2 261.1 L454.2 256.7 L454.3 257.5 L454.3 257.7 L454.4 253.2 L454.5 256.5 L454.5 256.8 L454.5 257.8 L454.7 248.9 L454.7 250.9 L454.8 252.1 L454.8 251.9 L455.0 257.5 L455.0 253.7 L455.0 253.1 L455.0 249.8 L455.2 257.5 L455.2 255.6 L455.3 255.1 L455.3 257.7 L455.5 250.5 L455.5 250.8 L455.6 247.9 L455.7 257.0 L455.7 256.4 L455.8 256.4 L455.8 257.2 L455.9 247.4 L456.0 253.0 L456.0 252.4 L456.1 249.1 L456.2 259.7 L456.2 258.3 L456.3 257.8 L456.3 258.7 L456.4 251.2 L456.5 254.2 L456.5 253.9 L456.6 252.1 L456.7 258.3 L456.7 255.8 L456.8 254.4 L456.8 256.7 L457.0 246.8 L457.0 250.3 L457.0 251.1 L457.0 249.1 L457.2 257.8 L457.2 253.6 L457.3 254.7 L457.3 256.2 L457.4 246.3 L457.5 251.6 L457.5 250.7 L457.6 248.7 L457.6 255.1 L457.7 249.4 L457.8 250.6 L457.8 247.0 L458.0 252.4 L458.0 251.8 L458.0 251.4 L458.1 254.5 L458.2 248.7 L458.2 250.2 L458.3 249.9 L458.4 256.0 L458.5 253.9 L458.5 252.2 L458.6 248.4 L458.7 256.6 L458.7 254.5 L458.8 255.9 L458.8 258.2 L458.9 251.4 L459.0 257.6 L459.0 256.6 L459.1 259.8 L459.2 253.7 L459.2 256.0 L459.3 255.8 L459.3 259.0 L459.5 253.4 L459.5 256.2 L459.5 256.1 L459.6 257.4 L459.7 252.4 L459.7 254.9 L459.8 253.1 L459.9 248.7 L460.0 256.5 L460.0 256.6 L460.0 258.2 L460.2 249.6 L460.2 253.1 L460.3 251.6 L460.3 251.4 L460.5 260.1 L460.5 256.4 L460.5 259.3 L460.6 259.4 L460.7 249.0 L460.7 252.9 L460.8 255.5 L460.8 257.4 L461.0 251.4 L461.0 252.5 L461.0 248.2 L461.2 255.8 L461.2 251.2 L461.3 252.8 L461.3 257.6 L461.4 247.4 L461.5 250.7 L461.5 250.8 L461.5 248.7 L461.7 258.3 L461.7 254.2 L461.8 255.3 L461.8 255.0 L461.9 263.5 L462.0 257.8 L462.0 256.7 L462.0 257.5 L462.1 248.8 L462.2 256.9 L462.3 257.3 L462.3 260.6 L462.5 249.6 L462.5 249.1 L462.6 246.7 L462.7 253.6 L462.7 250.4 L462.8 248.7 L462.9 259.0 L463.0 257.5 L463.0 257.1 L463.1 249.8 L463.2 260.5 L463.2 257.5 L463.3 258.9 L463.4 250.7 L463.5 257.0 L463.5 256.9 L463.5 257.1 L463.7 251.2 L463.7 253.7 L463.8 251.3 L463.8 252.9 L463.9 248.0 L464.0 251.6 L464.0 250.3 L464.1 256.5 L464.2 246.3 L464.2 248.4 L464.3 250.0 L464.3 250.0 L464.4 255.5 L464.5 254.3 L464.5 255.1 L464.6 257.1 L464.7 252.6 L464.8 253.2 L464.8 251.8 L465.0 257.2 L465.0 256.2 L465.0 255.5 L465.2 250.5 L465.2 257.6 L465.3 255.4 L465.3 257.5 L465.3 250.7 L465.5 253.5 L465.5 251.1 L465.6 255.8 L465.7 250.4 L465.7 251.1 L465.8 249.4 L466.0 257.8 L466.0 256.2 L466.0 255.7 L466.2 248.1 L466.2 251.8 L466.3 252.6 L466.3 251.7 L466.4 261.3 L466.5 257.5 L466.5 259.5 L466.7 249.6 L466.7 250.6 L466.8 250.3 L466.8 255.2 L466.9 248.1 L467.0 251.0 L467.0 251.5 L467.1 256.1 L467.1 250.4 L467.2 253.7 L467.3 252.5 L467.4 256.5 L467.5 248.8 L467.5 249.8 L467.5 250.4 L467.5 248.0 L467.6 256.1 L467.7 249.4 L467.8 250.0 L467.8 248.8 L468.0 263.4 L468.0 261.5 L468.0 262.1 L468.2 249.3 L468.2 253.4 L468.3 253.9 L468.4 249.7 L468.5 256.2 L468.5 254.6 L468.5 254.1 L468.5 256.7 L468.7 251.5 L468.7 252.8 L468.8 253.6 L468.8 251.4 L469.0 261.3 L469.0 257.0 L469.0 258.4 L469.1 249.1 L469.2 252.8 L469.3 252.7 L469.3 250.1 L469.5 255.5 L469.5 255.0 L469.5 254.4 L469.6 245.4 L469.7 256.5 L469.7 253.9 L469.8 256.5 L469.8 245.2 L470.0 252.2 L470.0 253.3 L470.1 258.7 L470.2 252.2 L470.2 253.5 L470.3 250.8 L470.4 248.1 L470.5 255.8 L470.5 257.1 L470.5 259.2 L470.7 250.7 L470.7 254.7 L470.8 254.7 L470.9 249.9 L470.9 257.1 L471.0 254.1 L471.0 253.4 L471.1 253.5 L471.2 245.0 L471.2 246.4 L471.3 246.6 L471.3 245.7 L471.4 256.5 L471.5 253.1 L471.5 252.5 L471.6 253.1 L471.7 246.6 L471.7 253.0 L471.8 252.4 L471.8 251.6 L472.0 260.5 L472.0 254.4 L472.0 255.5 L472.1 261.7 L472.2 245.0 L472.2 247.6 L472.3 249.0 L472.3 248.7 L472.5 257.2 L472.5 256.9 L472.5 256.6"/>
<path stroke="#56B4E9" stroke-dasharray="1.7 1.8" d="M75.0 44.4 L100.0 63.0 L107.0 70.0 L113.0 77.0 L137.0 110.0 L149.0 130.0 L154.0 140.0 L163.6 158.3 L180.0 190.0 L185.0 200.0 L189.0 205.0 L197.0 219.0 L205.0 231.0 L214.0 242.0 L222.0 248.0 L230.0 249.0 L237.0 247.0 L244.0 250.0 L246.3 250.2 L247.2 250.3 L247.9 250.3 L248.7 250.2 L249.5 250.2 L250.2 248.9 L251.0 247.4 L251.7 246.0 L252.4 244.6 L253.1 243.9 L253.8 243.9 L254.5 244.0 L255.2 244.1 L255.8 244.2 L256.5 244.7 L257.1 245.3 L257.7 245.8 L258.4 245.4 L259.0 245.0 L259.6 244.7 L260.2 244.2 L260.8 243.4 L261.3 242.5 L261.9 241.2 L262.5 239.6 L263.0 238.0 L263.6 236.5 L264.1 236.8 L264.7 237.7 L265.2 238.7 L265.7 239.7 L266.2 240.5 L266.7 241.2 L267.2 241.7 L267.7 241.8 L268.2 241.7 L268.7 241.7 L269.2 240.6 L269.7 239.6 L270.2 238.7 L270.6 238.0 L271.1 237.4 L271.5 236.8 L272.0 236.4 L272.4 236.2 L272.9 236.5 L273.3 238.3 L273.8 240.2 L274.2 242.0 L274.6 243.5 L275.0 244.8 L275.4 245.9 L275.9 247.1 L276.3 247.3 L276.7 247.2 L277.1 247.4 L277.5 247.9 L277.9 248.3 L278.3 248.5 L278.6 248.3 L279.0 247.5 L279.4 246.1 L279.8 244.5 L280.2 242.9 L280.5 241.7 L280.9 241.0 L281.3 240.9 L281.6 241.1 L282.0 241.4 L282.3 242.0 L282.7 242.8 L283.0 244.2 L283.4 246.5 L283.7 248.8 L284.1 250.9 L284.4 252.3 L284.7 253.3 L285.1 253.9 L285.4 254.1 L285.7 253.9 L286.1 253.5 L286.4 253.2 L286.7 254.3 L287.0 255.7 L287.3 257.2 L287.7 258.8 L288.0 260.4 L288.3 261.1 L288.6 261.7 L288.9 262.5 L289.2 263.3 L289.5 264.1 L289.8 264.1 L290.1 263.4 L290.4 262.8 L290.7 262.2 L291.0 261.9 L291.2 261.9 L291.5 261.8 L291.8 261.0 L292.1 259.9 L292.4 258.6 L292.7 257.1 L292.9 255.6 L293.2 254.2 L293.5 253.1 L293.8 252.7 L294.0 252.9 L294.3 253.4 L294.6 254.0 L294.8 254.8 L295.1 255.5 L295.4 256.1 L295.6 256.4 L295.9 256.5 L296.1 256.4 L296.4 256.3 L296.7 256.3 L296.9 256.5 L297.2 257.0 L297.4 257.5 L297.7 257.9 L297.9 258.0 L298.1 257.8 L298.4 257.5 L298.6 257.1 L298.9 257.0 L299.1 257.0 L299.4 257.1 L299.6 257.1 L299.8 256.9 L300.1 256.2 L300.3 255.2 L300.5 254.1 L300.8 253.0 L301.0 252.1 L301.2 251.4 L301.5 250.9 L301.7 250.3 L301.9 249.3 L302.1 248.1 L302.4 246.8 L302.6 245.5 L302.8 244.5 L303.0 244.1 L303.2 244.1 L303.4 244.6 L303.7 245.2 L303.9 245.6 L304.1 245.9 L304.3 246.3 L304.5 246.1 L304.7 245.5 L304.9 245.0 L305.1 244.7 L305.4 244.8 L305.6 245.2 L305.8 245.8 L306.0 246.5 L306.2 247.0 L306.4 247.3 L306.6 247.5 L306.8 247.5 L307.0 247.4 L307.2 247.3 L307.4 247.1 L307.6 246.9 L307.8 246.6 L308.0 246.5 L308.2 246.6 L308.4 247.0 L308.6 247.7 L308.7 248.5 L308.9 249.4 L309.1 250.0 L309.3 250.4 L309.5 250.6 L309.7 250.6 L309.9 250.5 L310.1 250.5 L310.3 250.7 L310.4 251.0 L310.6 251.5 L310.8 252.2 L311.0 252.9 L311.2 253.6 L311.4 254.1 L311.5 254.5 L311.7 254.9 L311.9 255.2 L312.1 255.7 L312.2 256.2 L312.4 256.6 L312.6 257.1 L312.8 257.7 L312.9 258.3 L313.1 259.0 L313.3 259.7 L313.5 260.4 L313.6 261.0 L313.8 261.5 L314.0 261.7 L314.1 261.7 L314.3 261.6 L314.5 261.3 L314.7 260.9 L314.8 260.5 L315.0 260.1 L315.2 259.7 L315.3 259.7 L315.5 260.1 L315.6 260.8 L315.8 261.9 L316.0 263.2 L316.1 264.7 L316.3 266.0 L316.5 267.0 L316.6 267.8 L316.8 268.3 L316.9 268.6 L317.1 268.5 L317.3 268.1 L317.4 267.7 L317.6 267.3 L317.7 266.9 L317.9 266.4 L318.0 265.8 L318.2 265.0 L318.3 264.2 L318.5 263.3 L318.6 262.4 L318.8 261.8 L319.0 261.3 L319.1 260.0 L319.3 258.1 L319.4 256.2 L319.6 254.1 L319.7 251.8 L319.8 249.5 L320.0 247.3 L320.1 246.8 L320.3 246.6 L320.4 246.6 L320.6 246.4 L320.7 245.8 L320.9 244.8 L321.0 243.3 L321.2 241.6 L321.3 239.8 L321.5 238.2 L321.6 237.5 L321.7 237.5 L321.9 237.8 L322.0 238.5 L322.2 239.4 L322.3 240.7 L322.4 242.2 L322.6 243.6 L322.7 244.9 L322.9 245.9 L323.0 246.4 L323.1 246.8 L323.3 247.2 L323.4 247.6 L323.5 248.2 L323.7 248.9 L323.8 249.5 L323.9 249.8 L324.1 249.8 L324.2 249.4 L324.4 248.9 L324.5 248.5 L324.6 248.4 L324.8 248.9 L324.9 250.0 L325.0 251.8 L325.1 253.7 L325.3 255.7 L325.4 257.6 L325.5 258.9 L325.7 259.5 L325.8 259.4 L325.9 258.7 L326.1 257.7 L326.2 256.6 L326.3 255.7 L326.4 255.1 L326.6 254.9 L326.7 255.2 L326.8 255.8 L326.9 256.5 L327.1 257.3 L327.2 258.1 L327.3 258.8 L327.4 259.5 L327.6 260.1 L327.7 260.6 L327.8 260.9 L327.9 261.2 L328.1 261.5 L328.2 261.9 L328.3 262.2 L328.4 262.5 L328.6 262.7 L328.7 262.7 L328.8 262.4 L328.9 262.0 L329.0 261.6 L329.2 260.9 L329.3 260.1 L329.4 259.3 L329.5 258.3 L329.6 257.3 L329.7 256.3 L329.9 255.6 L330.0 255.2 L330.1 255.0 L330.2 255.1 L330.3 255.4 L330.4 255.7 L330.6 256.2 L330.7 256.8 L330.8 257.4 L330.9 258.1 L331.0 258.7 L331.1 259.1 L331.3 259.2 L331.4 259.2 L331.5 258.9 L331.6 258.6 L331.7 258.4 L331.8 258.5 L331.9 258.7 L332.0 258.9 L332.2 258.9 L332.3 258.6 L332.4 258.0 L332.5 257.1 L332.6 256.0 L332.7 255.1 L332.8 254.3 L332.9 253.7 L333.0 253.2 L333.1 252.7 L333.3 252.1 L333.4 251.6 L333.5 251.1 L333.6 250.7 L333.7 250.5 L333.8 250.4 L333.9 250.6 L334.0 251.1 L334.1 251.4 L334.2 251.9 L334.3 252.3 L334.4 252.6 L334.5 252.6 L334.6 252.3 L334.8 251.6 L334.9 250.6 L335.0 249.4 L335.1 248.2 L335.2 247.0 L335.3 245.8 L335.4 244.6 L335.5 243.5 L335.6 242.7 L335.7 242.0 L335.8 241.4 L335.9 240.9 L336.0 240.5 L336.1 240.1 L336.2 239.7 L336.3 239.4 L336.4 239.0 L336.5 239.7 L336.6 240.3 L336.7 240.6 L336.8 240.5 L336.9 240.3 L337.0 239.8 L337.1 239.5 L337.2 239.3 L337.3 239.5 L337.4 240.0 L337.5 240.8 L337.6 241.3 L337.7 241.7 L337.8 242.0 L337.9 242.1 L338.0 242.2 L338.1 242.3 L338.2 242.6 L338.3 243.1 L338.4 243.9 L338.5 244.8 L338.6 245.9 L338.7 247.0 L338.8 248.0 L338.9 248.9 L338.9 249.8 L339.0 250.7 L339.1 251.9 L339.2 253.2 L339.3 254.5 L339.4 255.9 L339.5 257.1 L339.6 258.1 L339.7 258.8 L339.8 259.2 L339.9 259.7 L340.0 260.1 L340.1 260.7 L340.2 261.5 L340.3 262.4 L340.4 263.5 L340.4 264.4 L340.5 265.0 L340.6 265.1 L340.7 264.8 L340.8 264.1 L340.9 263.5 L341.0 263.1 L341.1 262.0 L341.2 261.2 L341.3 260.6 L341.4 260.3 L341.4 260.1 L341.5 259.9 L341.6 259.7 L341.7 259.3 L341.8 258.8 L341.9 258.2 L342.0 257.6 L342.1 257.0 L342.2 256.7 L342.3 256.8 L342.3 257.2 L342.4 257.9 L342.5 259.0 L342.6 260.1 L342.7 261.0 L342.8 261.6 L342.9 261.7 L343.0 261.3 L343.0 260.4 L343.1 259.3 L343.2 258.1 L343.3 257.0 L343.4 256.2 L343.5 255.6 L343.6 255.1 L343.6 254.6 L343.7 254.1 L343.8 253.3 L343.9 252.3 L344.0 251.3 L344.1 250.5 L344.1 249.9 L344.2 249.6 L344.3 249.5 L344.4 249.5 L344.5 249.5 L344.6 249.3 L344.7 248.8 L344.7 248.1 L344.8 247.3 L344.9 246.6 L345.0 246.0 L345.1 245.7 L345.2 245.7 L345.2 245.8 L345.3 246.2 L345.4 246.6 L345.5 247.1 L345.6 247.5 L345.6 247.7 L345.7 247.6 L345.8 247.2 L345.9 246.6 L346.0 246.0 L346.0 245.8 L346.1 245.9 L346.2 246.4 L346.3 247.1 L346.4 248.0 L346.5 248.8 L346.5 249.5 L346.6 249.9 L346.7 250.1 L346.8 250.1 L346.9 250.1 L346.9 250.1 L347.0 250.1 L347.1 250.1 L347.2 249.9 L347.2 249.6 L347.3 249.2 L347.4 248.7 L347.5 248.2 L347.6 247.9 L347.6 247.9 L347.7 248.2 L347.8 248.8 L347.9 249.7 L347.9 250.5 L348.0 250.9 L348.1 250.6 L348.2 249.9 L348.3 248.7 L348.3 247.2 L348.4 245.5 L348.5 244.0 L348.6 243.1 L348.6 242.8 L348.7 243.1 L348.8 243.8 L348.9 244.7 L348.9 245.4 L349.0 246.0 L349.1 246.4 L349.2 246.7 L349.2 246.8 L349.3 246.8 L349.4 246.8 L349.5 246.6 L349.5 246.3 L349.6 245.7 L349.7 245.0 L349.8 244.1 L349.8 243.4 L349.9 242.8 L350.0 242.5 L350.1 242.8 L350.1 243.2 L350.2 243.6 L350.3 244.0 L350.4 244.4 L350.4 245.0 L350.5 245.7 L350.6 246.3 L350.6 246.9 L350.7 247.2 L350.8 247.3 L350.9 247.2 L350.9 247.0 L351.0 246.8 L351.1 246.6 L351.2 246.4 L351.2 246.2 L351.3 245.9 L351.4 245.8 L351.4 245.8 L351.5 246.0 L351.6 246.3 L351.7 246.7 L351.7 247.0 L351.8 247.2 L351.9 247.4 L351.9 247.7 L352.0 248.3 L352.1 249.3 L352.1 250.6 L352.2 252.0 L352.3 253.3 L352.4 254.3 L352.4 254.6 L352.5 254.4 L352.6 253.5 L352.6 252.2 L352.7 250.8 L352.8 249.6 L352.8 248.8 L352.9 248.6 L353.0 248.8 L353.0 249.4 L353.1 250.3 L353.2 251.2 L353.3 252.1 L353.3 253.0 L353.4 253.8 L353.5 254.6 L353.5 255.3 L353.6 255.9 L353.7 256.1 L353.7 256.2 L353.8 256.0 L353.9 255.7 L353.9 255.3 L354.0 254.8 L354.1 254.5 L354.1 254.2 L354.2 254.2 L354.3 254.3 L354.3 254.4 L354.4 254.4 L354.5 254.3 L354.5 253.9 L354.6 253.5 L354.7 253.2 L354.7 253.1 L354.8 253.4 L354.9 254.2 L354.9 255.4 L355.0 256.9 L355.1 258.5 L355.1 259.9 L355.2 260.8 L355.3 261.1 L355.3 260.6 L355.4 259.7 L355.5 258.6 L355.5 257.8 L355.6 257.7 L355.6 258.2 L355.7 259.4 L355.8 260.8 L355.8 262.1 L355.9 263.1 L356.0 264.0 L356.0 264.7 L356.1 265.6 L356.2 266.6 L356.2 267.9 L356.3 269.2 L356.4 270.2 L356.4 270.7 L356.5 270.7 L356.5 270.1 L356.6 269.2 L356.7 268.0 L356.7 266.7 L356.8 265.4 L356.9 264.2 L356.9 263.3 L357.0 262.7 L357.0 262.5 L357.1 262.5 L357.2 262.8 L357.2 263.3 L357.3 263.9 L357.4 264.5 L357.4 265.0 L357.5 265.3 L357.5 265.4 L357.6 265.2 L357.7 264.9 L357.7 264.5 L357.8 264.2 L357.9 264.0 L357.9 264.1 L358.0 264.4 L358.0 264.3 L358.1 264.0 L358.2 263.3 L358.2 262.5 L358.3 261.6 L358.3 260.7 L358.4 260.1 L358.5 259.6 L358.5 259.3 L358.6 259.2 L358.6 259.1 L358.7 259.1 L358.8 259.1 L358.8 259.1 L358.9 259.3 L358.9 259.6 L359.0 259.8 L359.1 259.8 L359.1 259.7 L359.2 259.3 L359.2 258.7 L359.3 258.1 L359.4 257.4 L359.4 256.8 L359.5 256.2 L359.5 255.8 L359.6 255.5 L359.7 255.5 L359.7 255.6 L359.8 255.8 L359.8 255.9 L359.9 255.9 L360.0 255.7 L360.0 255.4 L360.1 255.0 L360.1 254.7 L360.2 254.4 L360.2 254.1 L360.3 253.7 L360.4 253.3 L360.4 252.8 L360.5 252.2 L360.5 251.6 L360.6 250.7 L360.7 249.7 L360.7 248.6 L360.8 247.4 L360.8 246.5 L360.9 246.1 L360.9 246.2 L361.0 246.7 L361.1 247.6 L361.1 248.4 L361.2 248.8 L361.2 248.8 L361.3 248.2 L361.3 247.3 L361.4 246.4 L361.5 245.8 L361.5 245.6 L361.6 245.6 L361.6 245.8 L361.7 245.7 L361.7 245.3 L361.8 244.5 L361.8 243.5 L361.9 242.4 L362.0 241.6 L362.0 241.1 L362.1 240.9 L362.1 240.6 L362.2 240.3 L362.2 239.9 L362.3 239.5 L362.3 239.3 L362.4 239.3 L362.5 239.5 L362.5 239.7 L362.6 239.8 L362.6 239.7 L362.7 239.7 L362.7 239.6 L362.8 239.6 L362.8 239.6 L362.9 239.7 L363.0 239.7 L363.0 239.5 L363.1 239.2 L363.1 238.5 L363.2 237.5 L363.2 236.1 L363.3 234.5 L363.3 233.0 L363.4 231.7 L363.4 231.2 L363.5 231.4 L363.5 232.6 L363.6 234.2 L363.7 236.0 L363.7 237.7 L363.8 239.0 L363.8 240.1 L363.9 240.9 L363.9 241.6 L364.0 242.0 L364.0 242.1 L364.1 241.8 L364.1 241.2 L364.2 240.4 L364.2 239.4 L364.3 238.4 L364.3 237.8 L364.4 237.6 L364.5 237.9 L364.5 238.8 L364.6 240.2 L364.6 241.8 L364.7 243.6 L364.7 245.1 L364.8 246.2 L364.8 246.6 L364.9 246.4 L364.9 245.6 L365.0 244.3 L365.0 242.9 L365.1 241.4 L365.1 240.1 L365.2 239.1 L365.2 238.5 L365.3 238.3 L365.3 238.4 L365.4 238.6 L365.4 238.6 L365.5 238.4 L365.5 238.0 L365.6 237.7 L365.7 237.7 L365.7 238.2 L365.8 239.2 L365.8 240.7 L365.9 242.4 L365.9 244.2 L366.0 245.9 L366.0 247.0 L366.1 247.6 L366.1 247.6 L366.2 247.1 L366.2 246.2 L366.3 245.3 L366.3 244.4 L366.4 243.8 L366.4 243.4 L366.5 243.2 L366.5 243.2 L366.6 243.5 L366.6 243.9 L366.7 244.4 L366.7 245.0 L366.8 245.6 L366.8 246.2 L366.9 246.7 L366.9 246.9 L367.0 247.0 L367.0 246.9 L367.1 246.6 L367.1 246.6 L367.2 246.8 L367.2 247.1 L367.3 247.3 L367.3 247.4 L367.4 247.3 L367.4 247.1 L367.5 246.8 L367.5 246.5 L367.6 246.3 L367.6 246.0 L367.7 245.8 L367.7 245.6 L367.8 245.5 L367.8 245.4 L367.9 245.3 L367.9 245.1 L367.9 244.8 L368.0 244.5 L368.0 244.0 L368.1 243.7 L368.1 243.7 L368.2 244.0 L368.2 244.6 L368.3 245.6 L368.3 246.8 L368.4 248.0 L368.4 249.1 L368.5 249.9 L368.5 250.5 L368.6 250.8 L368.6 250.6 L368.7 250.1 L368.7 249.2 L368.8 247.9 L368.8 246.5 L368.9 245.1 L368.9 244.0 L369.0 243.4 L369.0 243.2 L369.1 243.6 L369.1 244.3 L369.1 245.0 L369.2 245.7 L369.2 246.4 L369.3 247.1 L369.3 247.8 L369.4 248.6 L369.4 249.3 L369.5 249.8 L369.5 249.7 L369.6 249.0 L369.6 247.8 L369.7 246.2 L369.7 244.7 L369.8 243.5 L369.8 243.1 L369.9 243.2 L369.9 243.9 L369.9 244.7 L370.0 245.5 L370.0 246.0 L370.1 246.4 L370.1 246.9 L370.2 247.5 L370.2 248.3 L370.3 249.4 L370.3 250.7 L370.4 252.1 L370.4 253.4 L370.5 254.5 L370.5 255.3 L370.5 255.7 L370.6 255.8 L370.6 255.7 L370.7 255.4 L370.7 255.0 L370.8 254.7 L370.8 254.4 L370.9 254.3 L370.9 254.1 L371.0 254.0 L371.0 253.8 L371.0 253.3 L371.1 252.6 L371.1 251.8 L371.2 251.0 L371.2 250.3 L371.3 249.7 L371.3 249.4 L371.4 249.5 L371.4 249.9 L371.5 250.5 L371.5 251.2 L371.5 251.8 L371.6 252.4 L371.6 252.7 L371.7 252.7 L371.7 252.6 L371.8 252.4 L371.8 252.1 L371.9 251.7 L371.9 251.2 L371.9 250.5 L372.0 249.8 L372.0 248.9 L372.1 248.0 L372.1 247.3 L372.2 246.8 L372.2 246.4 L372.3 246.2 L372.3 246.1 L372.3 246.0 L372.4 245.9 L372.4 245.7 L372.5 245.6 L372.5 245.3 L372.6 244.9 L372.6 244.3 L372.6 243.5 L372.7 242.8 L372.7 242.2 L372.8 241.9 L372.8 242.0 L372.9 242.3 L372.9 242.8 L373.0 243.0 L373.0 243.0 L373.0 242.8 L373.1 242.3 L373.1 241.3 L373.2 240.1 L373.2 238.9 L373.3 238.1 L373.3 237.7 L373.3 237.8 L373.4 238.2 L373.4 238.9 L373.5 239.8 L373.5 240.5 L373.6 241.2 L373.6 241.8 L373.6 242.5 L373.7 243.2 L373.7 244.1 L373.8 244.9 L373.8 245.6 L373.9 245.9 L373.9 246.0 L373.9 245.8 L374.0 245.6 L374.0 245.4 L374.1 245.5 L374.1 245.7 L374.1 246.1 L374.2 246.5 L374.2 246.8 L374.3 246.9 L374.3 246.8 L374.4 246.5 L374.4 246.0 L374.4 245.4 L374.5 244.9 L374.5 244.9 L374.6 245.3 L374.6 246.2 L374.7 247.5 L374.7 248.9 L374.7 250.3 L374.8 251.4 L374.8 252.3 L374.9 252.7 L374.9 252.7 L374.9 252.3 L375.0 251.7 L375.0 251.7 L375.1 251.7 L375.1 251.6 L375.1 251.6 L375.2 251.5 L375.2 251.4 L375.3 251.4 L375.3 251.3 L375.4 251.3 L375.4 251.2 L375.4 251.2 L375.5 251.3 L375.5 251.3 L375.6 251.4 L375.6 251.5 L375.6 251.6 L375.7 251.8 L375.7 251.9 L375.8 252.0 L375.8 252.1 L375.8 252.2 L375.9 252.3 L375.9 252.4 L376.0 252.4 L376.0 252.3 L376.0 252.3 L376.1 252.2 L376.1 252.0 L376.2 251.8 L376.2 251.6 L376.2 251.4 L376.3 251.2 L376.3 250.9 L376.4 250.7 L376.4 250.5 L376.4 250.4 L376.5 250.3 L376.5 250.3 L376.6 250.4 L376.6 250.6 L376.6 250.8 L376.7 251.1 L376.7 251.5 L376.8 252.0 L376.8 252.5 L376.8 253.0 L376.9 253.5 L376.9 254.0 L377.0 254.5 L377.0 255.0 L377.0 255.4 L377.1 255.8 L377.1 256.1 L377.2 256.3 L377.2 256.6 L377.2 256.8 L377.3 257.0 L377.3 257.1 L377.4 257.3 L377.4 257.6 L377.4 257.8 L377.5 258.0 L377.5 258.2 L377.6 258.4 L377.6 258.5 L377.6 258.5 L377.7 258.4 L377.7 258.2 L377.7 257.9 L377.8 257.5 L377.8 256.9 L377.9 256.1 L377.9 255.3 L377.9 254.5 L378.0 253.6 L378.0 252.7 L378.1 251.9 L378.1 251.2 L378.1 250.7 L378.2 250.3 L378.2 250.0 L378.2 249.8 L378.3 249.8 L378.3 249.9 L378.4 250.0 L378.4 250.2 L378.4 250.4 L378.5 250.7 L378.5 250.9 L378.6 251.1 L378.6 251.3 L378.6 251.5 L378.7 251.7 L378.7 251.9 L378.7 252.1 L378.8 252.4 L378.8 252.7 L378.9 253.0 L378.9 253.4 L378.9 253.7 L379.0 254.1 L379.0 254.4 L379.0 254.6 L379.1 254.8 L379.1 254.8 L379.2 254.6 L379.2 254.4 L379.2 254.0 L379.3 253.6 L379.3 253.1 L379.3 252.5 L379.4 252.0 L379.4 251.5 L379.5 251.1 L379.5 250.8 L379.5 250.6 L379.6 250.6 L379.6 250.7 L379.6 251.0 L379.7 251.4 L379.7 251.8 L379.8 252.4 L379.8 253.1 L379.8 253.7 L379.9 254.4 L379.9 255.1 L379.9 255.8 L380.0 256.4 L380.0 257.0 L380.0 257.5 L380.1 258.0 L380.1 258.4 L380.2 258.8 L380.2 259.2 L380.2 259.6 L380.3 260.0 L380.3 260.5 L380.3 260.9 L380.4 261.4 L380.4 261.9 L380.5 262.4 L380.5 263.0 L380.5 263.6 L380.6 264.1 L380.6 264.7 L380.6 265.3 L380.7 265.8 L380.7 266.3 L380.7 266.7 L380.8 267.0 L380.8 267.3 L380.8 267.5 L380.9 267.6 L380.9 267.7 L381.0 267.6 L381.0 267.5 L381.0 267.3 L381.1 267.1 L381.1 266.8 L381.1 266.5 L381.2 266.2 L381.2 266.0 L381.2 265.8 L381.3 265.7 L381.3 265.7 L381.4 265.7 L381.4 265.9 L381.4 266.1 L381.5 266.3 L381.5 266.7 L381.5 267.0 L381.6 267.3 L381.6 267.5 L381.6 267.7 L381.7 267.8 L381.7 267.8 L381.7 267.6 L381.8 267.3 L381.8 266.9 L381.8 266.4 L381.9 265.8 L381.9 265.1 L382.0 264.5 L382.0 263.8 L382.0 263.2 L382.1 262.6 L382.1 262.1 L382.1 261.6 L382.2 261.2 L382.2 260.8 L382.2 260.5 L382.3 260.2 L382.3 259.9 L382.3 259.6 L382.4 259.4 L382.4 259.1 L382.4 258.9 L382.5 258.6 L382.5 258.3 L382.5 258.0 L382.6 257.7 L382.6 257.4 L382.7 257.0 L382.7 256.6 L382.7 256.2 L382.8 255.7 L382.8 255.3 L382.8 254.9 L382.9 254.6 L382.9 254.3 L382.9 254.1 L383.0 254.1 L383.0 254.2 L383.0 254.4 L383.1 254.7 L383.1 255.2 L383.1 255.6 L383.2 256.1 L383.2 256.5 L383.2 256.8 L383.3 257.0 L383.3 257.1 L383.3 257.1 L383.4 257.0 L383.4 256.9 L383.4 256.7 L383.5 256.5 L383.5 256.4 L383.5 256.4 L383.6 256.4 L383.6 256.6 L383.6 256.9 L383.7 257.3 L383.7 257.8 L383.7 258.4 L383.8 258.9 L383.8 259.4 L383.8 259.9 L383.9 260.2 L383.9 260.5 L383.9 260.6 L384.0 260.5 L384.0 260.4 L384.0 260.1 L384.1 259.8 L384.1 259.3 L384.1 258.8 L384.2 258.3 L384.2 257.8 L384.2 257.3 L384.3 256.9 L384.3 256.4 L384.3 256.0 L384.4 255.7 L384.4 255.3 L384.4 255.1 L384.5 254.9 L384.5 254.7 L384.5 254.7 L384.6 254.8 L384.6 255.0 L384.6 255.3 L384.7 255.9 L384.7 256.6 L384.7 257.5 L384.8 258.5 L384.8 259.7 L384.8 260.9 L384.9 262.2 L384.9 263.4 L384.9 264.4 L385.0 265.3 L385.0 265.9 L385.0 266.2 L385.1 266.2 L385.1 265.9 L385.1 265.2 L385.2 264.1 L385.2 262.8 L385.2 261.3 L385.3 259.6 L385.3 257.7 L385.3 255.9 L385.4 254.1 L385.4 252.4 L385.4 250.9 L385.5 249.7 L385.5 248.7 L385.5 248.0 L385.6 247.6 L385.6 247.4 L385.6 247.6 L385.7 247.9 L385.7 248.4 L385.7 249.0 L385.8 249.7 L385.8 250.4 L385.8 251.0 L385.9 251.7 L385.9 252.2 L385.9 252.6 L385.9 252.9 L386.0 253.1 L386.0 253.1 L386.0 253.1 L386.1 253.0 L386.1 252.9 L386.1 252.7 L386.2 252.6 L386.2 252.5 L386.2 252.5 L386.3 252.6 L386.3 252.8 L386.3 253.0 L386.4 253.2 L386.4 253.5 L386.4 253.7 L386.5 254.0 L386.5 254.1 L386.5 254.3 L386.6 254.3 L386.6 254.4 L386.6 254.4 L386.6 254.4 L386.7 254.3 L386.7 254.4 L386.7 254.4 L386.8 254.5 L386.8 254.7 L386.8 254.8 L386.9 255.0 L386.9 255.3 L386.9 255.5 L387.0 255.6 L387.0 255.8 L387.0 255.8 L387.1 255.8 L387.1 255.8 L387.1 255.6 L387.2 255.4 L387.2 255.1 L387.2 254.7 L387.2 254.2 L387.3 253.7 L387.3 253.1 L387.3 252.4 L387.4 251.6 L387.4 250.8 L387.4 249.9 L387.5 248.9 L387.5 248.0 L387.5 247.0 L387.6 246.0 L387.6 245.1 L387.6 244.2 L387.6 243.4 L387.7 242.7 L387.7 242.2 L387.7 241.7 L387.8 241.4 L387.8 241.3 L387.8 241.4 L387.9 241.6 L387.9 241.9 L387.9 242.4 L388.0 242.9 L388.0 243.5 L388.0 244.1 L388.0 244.6 L388.1 245.0 L388.1 245.3 L388.1 245.5 L388.2 245.4 L388.2 245.2 L388.2 244.7 L388.3 244.1 L388.3 243.3 L388.3 242.4 L388.3 241.3 L388.4 240.2 L388.4 239.1 L388.4 238.0 L388.5 237.0 L388.5 236.1 L388.5 235.2 L388.6 234.6 L388.6 234.1 L388.6 233.8 L388.7 233.7 L388.7 233.9 L388.7 234.2 L388.7 234.7 L388.8 235.4 L388.8 236.1 L388.8 237.0 L388.9 237.9 L388.9 238.8 L388.9 239.6 L389.0 240.3 L389.0 240.9 L389.0 241.3 L389.0 241.5 L389.1 241.6 L389.1 241.5 L389.1 241.3 L389.2 240.9 L389.2 240.5 L389.2 240.1 L389.3 239.7 L389.3 239.4 L389.3 239.1 L389.3 239.0 L389.4 239.0 L389.4 239.1 L389.4 239.4 L389.5 239.7 L389.5 240.2 L389.5 240.7 L389.5 241.2 L389.6 241.8 L389.6 242.4 L389.6 243.1 L389.7 243.7 L389.7 244.4 L389.7 245.0 L389.8 245.7 L389.8 246.3 L389.8 246.9 L389.8 247.5 L389.9 248.0 L389.9 248.5 L389.9 248.9 L390.0 249.2 L390.0 249.5 L390.0 249.6 L390.0 249.7 L390.1 249.7 L390.1 249.6 L390.1 249.5 L390.2 249.4 L390.2 249.2 L390.2 249.0 L390.2 248.9 L390.3 248.7 L390.3 248.7 L390.3 248.7 L390.4 248.7 L390.4 248.8 L390.4 249.0 L390.5 249.3 L390.5 249.6 L390.5 250.0 L390.5 250.4 L390.6 250.8 L390.6 251.2 L390.6 251.7 L390.7 252.2 L390.7 252.7 L390.7 253.2 L390.7 253.7 L390.8 254.3 L390.8 255.0 L390.8 255.7 L390.9 256.4 L390.9 257.3 L390.9 258.1 L390.9 259.1 L391.0 260.0 L391.0 261.0 L391.0 261.9 L391.1 262.7 L391.1 263.3 L391.1 263.9 L391.1 264.2 L391.2 264.4 L391.2 264.4 L391.2 264.3 L391.3 264.0 L391.3 263.6 L391.3 263.2 L391.3 262.8 L391.4 262.5 L391.4 262.2 L391.4 262.0 L391.5 262.0 L391.5 262.1 L391.5 262.3 L391.5 262.7 L391.6 263.2 L391.6 263.8 L391.6 264.3 L391.6 264.9 L391.7 265.4 L391.7 265.8 L391.7 266.1 L391.8 266.2 L391.8 266.2 L391.8 266.0 L391.8 265.6 L391.9 265.1 L391.9 264.5 L391.9 263.8 L392.0 263.0 L392.0 262.2 L392.0 261.5 L392.0 260.8 L392.1 260.3 L392.1 260.0 L392.1 259.8 L392.2 259.9 L392.2 260.1 L392.2 260.6 L392.2 261.2 L392.3 261.9 L392.3 262.6 L392.3 263.2 L392.3 263.8 L392.4 264.2 L392.4 264.4 L392.4 264.3 L392.5 264.0 L392.5 263.4 L392.5 262.5 L392.5 261.5 L392.6 260.3 L392.6 259.0 L392.6 257.6 L392.6 256.3 L392.7 255.1 L392.7 254.1 L392.7 253.3 L392.8 252.7 L392.8 252.4 L392.8 252.4 L392.8 252.7 L392.9 253.3 L392.9 254.1 L392.9 255.0 L392.9 256.1 L393.0 257.3 L393.0 258.5 L393.0 259.6 L393.1 260.6 L393.1 261.5 L393.1 262.1 L393.1 262.5 L393.2 262.6 L393.2 262.4 L393.2 262.0 L393.2 261.4 L393.3 260.6 L393.3 259.6 L393.3 258.7 L393.4 257.7 L393.4 256.9 L393.4 256.2 L393.4 255.8 L393.5 255.6 L393.5 255.7 L393.5 256.1 L393.5 256.8 L393.6 257.6 L393.6 258.6 L393.6 259.7 L393.7 260.8 L393.7 261.7 L393.7 262.4 L393.7 262.9 L393.8 263.2 L393.8 263.2 L393.8 262.9 L393.8 262.4 L393.9 261.7 L393.9 260.9 L393.9 260.1 L393.9 259.4 L394.0 258.7 L394.0 258.2 L394.0 257.9 L394.1 257.7 L394.1 257.6 L394.1 257.6 L394.1 257.6 L394.2 257.6 L394.2 257.5 L394.2 257.4 L394.2 257.1 L394.3 256.6 L394.3 256.1 L394.3 255.4 L394.3 254.7 L394.4 254.0 L394.4 253.5 L394.4 253.0 L394.4 252.8 L394.5 252.9 L394.5 253.2 L394.5 253.9 L394.6 254.9 L394.6 256.2 L394.6 257.8 L394.6 259.5 L394.7 261.4 L394.7 263.2 L394.7 265.0 L394.7 266.7 L394.8 268.1 L394.8 269.3 L394.8 270.1 L394.8 270.7 L394.9 270.9 L394.9 270.8 L394.9 270.4 L394.9 269.8 L395.0 269.1 L395.0 268.4 L395.0 267.6 L395.1 266.9 L395.1 266.4 L395.1 265.9 L395.1 265.7 L395.2 265.6 L395.2 265.8 L395.2 266.2 L395.2 266.7 L395.3 267.3 L395.3 268.1 L395.3 269.0 L395.3 269.8 L395.4 270.7 L395.4 271.5 L395.4 272.2 L395.4 272.8 L395.5 273.3 L395.5 273.4 L395.5 273.4 L395.5 273.0 L395.6 272.3 L395.6 271.3 L395.6 270.0 L395.6 268.4 L395.7 266.5 L395.7 264.4 L395.7 262.2 L395.7 260.0 L395.8 257.9 L395.8 256.0 L395.8 254.4 L395.8 253.2 L395.9 252.4 L395.9 252.1 L395.9 252.2 L395.9 252.6 L396.0 253.3 L396.0 254.3 L396.0 255.3 L396.1 256.4 L396.1 257.3 L396.1 258.1 L396.1 258.6 L396.2 258.9 L396.2 259.0 L396.2 258.9 L396.2 258.6 L396.3 258.3 L396.3 257.9 L396.3 257.5 L396.3 257.2 L396.4 257.0 L396.4 257.0 L396.4 257.0 L396.4 257.2 L396.5 257.4 L396.5 257.7 L396.5 258.0 L396.5 258.3 L396.6 258.6 L396.6 258.7 L396.6 258.8 L396.6 258.8 L396.7 258.8 L396.7 258.6 L396.7 258.4 L396.7 258.1 L396.8 257.8 L396.8 257.4 L396.8 256.9 L396.8 256.4 L396.9 255.8 L396.9 255.0 L396.9 254.2 L396.9 253.2 L397.0 252.2 L397.0 251.2 L397.0 250.1 L397.0 249.1 L397.1 248.1 L397.1 247.2 L397.1 246.5 L397.1 245.9 L397.2 245.4 L397.2 245.1 L397.2 244.8 L397.2 244.7 L397.3 244.5 L397.3 244.4 L397.3 244.3 L397.3 244.2 L397.4 244.1 L397.4 244.1 L397.4 244.1 L397.4 244.2 L397.4 244.4 L397.5 244.9 L397.5 245.5 L397.5 246.3 L397.5 247.3 L397.6 248.4 L397.6 249.7 L397.6 251.1 L397.6 252.4 L397.7 253.7 L397.7 254.9 L397.7 255.9 L397.7 256.7 L397.8 257.4 L397.8 257.8 L397.8 258.1 L397.8 258.2 L397.9 258.3 L397.9 258.4 L397.9 258.5 L397.9 258.7 L398.0 259.1 L398.0 259.7 L398.0 260.5 L398.0 261.5 L398.1 262.8 L398.1 264.2 L398.1 265.8 L398.1 267.4 L398.2 269.1 L398.2 270.6 L398.2 271.9 L398.2 272.9 L398.3 273.6 L398.3 273.8 L398.3 273.6 L398.3 273.0 L398.3 271.9 L398.4 270.5 L398.4 268.7 L398.4 266.8 L398.4 264.9 L398.5 262.9 L398.5 261.1 L398.5 259.5 L398.5 258.2 L398.6 257.3 L398.6 256.7 L398.6 256.5 L398.6 256.6 L398.7 257.0 L398.7 257.6 L398.7 258.3 L398.7 259.1 L398.8 259.8 L398.8 260.4 L398.8 260.8 L398.8 261.0 L398.9 261.0 L398.9 260.7 L398.9 260.1 L398.9 259.4 L398.9 258.4 L399.0 257.4 L399.0 256.2 L399.0 255.1 L399.0 254.1 L399.1 253.2 L399.1 252.4 L399.1 251.8 L399.1 251.4 L399.2 251.2 L399.2 251.2 L399.2 251.3 L399.2 251.5 L399.3 251.8 L399.3 252.2 L399.3 252.6 L399.3 253.0 L399.3 253.3 L399.4 253.6 L399.4 253.8 L399.4 254.0 L399.4 254.1 L399.5 254.1 L399.5 254.1 L399.5 254.0 L399.5 253.9 L399.6 253.7 L399.6 253.4 L399.6 253.1 L399.6 252.8 L399.7 252.4 L399.7 252.1 L399.7 251.7 L399.7 251.3 L399.7 250.9 L399.8 250.6 L399.8 250.4 L399.8 250.1 L399.8 250.0 L399.9 249.9 L399.9 249.8 L399.9 249.7 L399.9 249.6 L400.0 249.6 L400.0 249.6 L400.0 249.6 L400.0 249.6 L400.0 249.7 L400.1 249.8 L400.1 250.0 L400.1 250.4 L400.1 250.8 L400.2 251.3 L400.2 251.9 L400.2 252.7 L400.2 253.5 L400.3 254.3 L400.3 255.1 L400.3 256.0 L400.3 256.8 L400.3 257.5 L400.4 258.2 L400.4 258.8 L400.4 259.3 L400.4 259.7 L400.5 260.0 L400.5 260.2 L400.5 260.3 L400.5 260.2 L400.6 260.0 L400.6 259.8 L400.6 259.4 L400.6 259.0 L400.6 258.5 L400.7 258.0 L400.7 257.5 L400.7 257.0 L400.7 256.6 L400.8 256.3 L400.8 256.1 L400.8 256.0 L400.8 256.1 L400.8 256.4 L400.9 256.8 L400.9 257.4 L400.9 258.2 L400.9 259.1 L401.0 260.2 L401.0 261.4 L401.0 262.6 L401.0 264.0 L401.1 265.3 L401.1 266.7 L401.1 268.1 L401.1 269.4 L401.1 270.6 L401.2 271.7 L401.2 272.7 L401.2 273.6 L401.2 274.2 L401.3 274.7 L401.3 275.0 L401.3 275.0 L401.3 274.9 L401.3 274.5 L401.4 273.9 L401.4 273.1 L401.4 272.2 L401.4 271.1 L401.5 269.9 L401.5 268.7 L401.5 267.3 L401.5 266.0 L401.5 264.7 L401.6 263.4 L401.6 262.1 L401.6 260.9 L401.6 259.8 L401.7 258.8 L401.7 257.8 L401.7 257.0 L401.7 256.2 L401.7 255.5 L401.8 254.8 L401.8 254.3 L401.8 253.8 L401.8 253.4 L401.9 253.1 L401.9 252.9 L401.9 252.9 L401.9 252.9 L401.9 253.0 L402.0 253.3 L402.0 253.7 L402.0 254.1 L402.0 254.6 L402.1 255.1 L402.1 255.6 L402.1 256.0 L402.1 256.5 L402.1 256.8 L402.2 257.2 L402.2 257.4 L402.2 257.6 L402.2 257.8 L402.3 258.0 L402.3 258.2 L402.3 258.5 L402.3 258.8 L402.3 259.2 L402.4 259.7 L402.4 260.2 L402.4 260.8 L402.4 261.3 L402.5 261.9 L402.5 262.4 L402.5 262.9 L402.5 263.2 L402.5 263.4 L402.6 263.4 L402.6 263.2 L402.6 262.9 L402.6 262.4 L402.6 261.7 L402.7 260.8 L402.7 259.8 L402.7 258.5 L402.7 257.2 L402.8 255.7 L402.8 254.1 L402.8 252.5 L402.8 250.9 L402.8 249.4 L402.9 247.9 L402.9 246.6 L402.9 245.5 L402.9 244.6 L403.0 244.0 L403.0 243.7 L403.0 243.6 L403.0 243.8 L403.0 244.3 L403.1 245.0 L403.1 245.8 L403.1 246.7 L403.1 247.6 L403.1 248.5 L403.2 249.3 L403.2 250.1 L403.2 250.8 L403.2 251.3 L403.3 251.8 L403.3 252.2 L403.3 252.7 L403.3 253.1 L403.3 253.5 L403.4 253.9 L403.4 254.4 L403.4 254.9 L403.4 255.4 L403.4 255.9 L403.5 256.3 L403.5 256.7 L403.5 257.0 L403.5 257.2 L403.6 257.3 L403.6 257.2 L403.6 257.1 L403.6 256.9 L403.6 256.7 L403.7 256.5 L403.7 256.3 L403.7 256.2 L403.7 256.2 L403.7 256.3 L403.8 256.7 L403.8 257.1 L403.8 257.8 L403.8 258.6 L403.9 259.6 L403.9 260.6 L403.9 261.6 L403.9 262.7 L403.9 263.7 L404.0 264.7 L404.0 265.6 L404.0 266.5 L404.0 267.2 L404.0 267.8 L404.1 268.4 L404.1 268.9 L404.1 269.3 L404.1 269.8 L404.1 270.1 L404.2 270.4 L404.2 270.7 L404.2 270.9 L404.2 270.9 L404.3 270.9 L404.3 270.6 L404.3 270.3 L404.3 269.7 L404.3 268.9 L404.4 268.0 L404.4 266.9 L404.4 265.7 L404.4 264.3 L404.4 262.9 L404.5 261.4 L404.5 260.0 L404.5 258.6 L404.5 257.3 L404.5 256.1 L404.6 255.1 L404.6 254.4 L404.6 253.8 L404.6 253.5 L404.6 253.4 L404.7 253.5 L404.7 253.8 L404.7 254.4 L404.7 255.1 L404.8 256.1 L404.8 257.3 L404.8 258.6 L404.8 260.1 L404.8 261.8 L404.9 263.6 L404.9 265.4 L404.9 267.3 L404.9 269.2 L404.9 270.9 L405.0 272.5 L405.0 273.9 L405.0 274.9 L405.0 275.6 L405.0 275.8 L405.1 275.6 L405.1 275.0 L405.1 274.0 L405.1 272.5 L405.1 270.8 L405.2 268.7 L405.2 266.5 L405.2 264.2 L405.2 262.0 L405.2 259.8 L405.3 257.7 L405.3 255.9 L405.3 254.3 L405.3 252.9 L405.4 251.9 L405.4 251.1 L405.4 250.5 L405.4 250.1 L405.4 249.8 L405.5 249.7 L405.5 249.6 L405.5 249.6 L405.5 249.6 L405.5 249.6 L405.6 249.6 L405.6 249.7 L405.6 249.7 L405.6 249.8 L405.6 249.9 L405.7 250.1 L405.7 250.4 L405.7 250.8 L405.7 251.2 L405.7 251.7 L405.8 252.3 L405.8 252.9 L405.8 253.5 L405.8 254.1 L405.8 254.6 L405.9 255.2 L405.9 255.6 L405.9 255.9 L405.9 256.2 L405.9 256.3 L406.0 256.3 L406.0 256.3 L406.0 256.2 L406.0 256.1 L406.0 256.1 L406.1 256.1 L406.1 256.3 L406.1 256.6 L406.1 257.1 L406.1 257.8 L406.2 258.7 L406.2 259.8 L406.2 261.0 L406.2 262.3 L406.2 263.6 L406.3 264.9 L406.3 266.1 L406.3 267.0 L406.3 267.8 L406.3 268.3 L406.4 268.5 L406.4 268.4 L406.4 268.0 L406.4 267.4 L406.4 266.6 L406.5 265.6 L406.5 264.4 L406.5 263.3 L406.5 262.1 L406.5 260.9 L406.6 259.9 L406.6 258.9 L406.6 258.1 L406.6 257.4 L406.6 256.9 L406.7 256.6 L406.7 256.4 L406.7 256.5 L406.7 256.7 L406.7 257.1 L406.8 257.6 L406.8 258.2 L406.8 259.0 L406.8 259.9 L406.8 260.8 L406.9 261.8 L406.9 262.8 L406.9 263.8 L406.9 264.8 L406.9 265.9 L407.0 266.9 L407.0 267.9 L407.0 269.0 L407.0 269.9 L407.0 270.8 L407.1 271.6 L407.1 272.3 L407.1 272.9 L407.1 273.2 L407.1 273.3 L407.2 273.2 L407.2 272.8 L407.2 272.3 L407.2 271.5 L407.2 270.5 L407.3 269.3 L407.3 268.0 L407.3 266.7 L407.3 265.2 L407.3 263.7 L407.3 262.2 L407.4 260.7 L407.4 259.1 L407.4 257.6 L407.4 256.2 L407.4 254.8 L407.5 253.5 L407.5 252.4 L407.5 251.4 L407.5 250.6 L407.5 250.0 L407.6 249.7 L407.6 249.6 L407.6 249.7 L407.6 250.0 L407.6 250.5 L407.7 251.1 L407.7 251.9 L407.7 252.8 L407.7 253.7 L407.7 254.6 L407.8 255.6 L407.8 256.4 L407.8 257.2 L407.8 258.0 L407.8 258.6 L407.9 259.2 L407.9 259.7 L407.9 260.1 L407.9 260.4 L407.9 260.5 L408.0 260.6 L408.0 260.5 L408.0 260.3 L408.0 260.0 L408.0 259.5 L408.0 258.9 L408.1 258.2 L408.1 257.4 L408.1 256.4 L408.1 255.3 L408.1 254.1 L408.2 252.9 L408.2 251.6 L408.2 250.3 L408.2 249.0 L408.2 247.7 L408.3 246.4 L408.3 245.2 L408.3 244.2 L408.3 243.3 L408.3 242.5 L408.4 242.0 L408.4 241.8 L408.4 241.8 L408.4 242.1 L408.4 242.8 L408.4 243.7 L408.5 244.9 L408.5 246.4 L408.5 248.1 L408.5 249.9 L408.5 251.9 L408.6 253.9 L408.6 255.9 L408.6 257.8 L408.6 259.5 L408.6 261.0 L408.7 262.2 L408.7 263.1 L408.7 263.6 L408.7 263.9 L408.7 263.7 L408.8 263.3 L408.8 262.6 L408.8 261.6 L408.8 260.4 L408.8 259.0 L408.8 257.5 L408.9 255.9 L408.9 254.3 L408.9 252.7 L408.9 251.1 L408.9 249.6 L409.0 248.2 L409.0 247.0 L409.0 245.9 L409.0 245.0 L409.0 244.4 L409.1 244.0 L409.1 243.7 L409.1 243.7 L409.1 243.8 L409.1 244.0 L409.1 244.2 L409.2 244.5 L409.2 244.8 L409.2 245.0 L409.2 245.2 L409.2 245.2 L409.3 245.3 L409.3 245.2 L409.3 245.2 L409.3 245.1 L409.3 245.1 L409.4 245.2 L409.4 245.5 L409.4 245.8 L409.4 246.3 L409.4 246.9 L409.4 247.7 L409.5 248.5 L409.5 249.4 L409.5 250.2 L409.5 251.0 L409.5 251.8 L409.6 252.3 L409.6 252.7 L409.6 252.9 L409.6 253.0 L409.6 252.8 L409.6 252.5 L409.7 252.1 L409.7 251.5 L409.7 250.9 L409.7 250.3 L409.7 249.7 L409.8 249.1 L409.8 248.6 L409.8 248.2 L409.8 247.9 L409.8 247.8 L409.9 247.8 L409.9 247.9 L409.9 248.1 L409.9 248.5 L409.9 248.9 L409.9 249.4 L410.0 249.8 L410.0 250.3 L410.0 250.7 L410.0 251.1 L410.0 251.4 L410.1 251.5 L410.1 251.5 L410.1 251.4 L410.1 251.2 L410.1 250.9 L410.1 250.6 L410.2 250.1 L410.2 249.7 L410.2 249.3 L410.2 249.0 L410.2 248.7 L410.3 248.6 L410.3 248.6 L410.3 248.7 L410.3 249.0 L410.3 249.3 L410.3 249.8 L410.4 250.3 L410.4 250.9 L410.4 251.5 L410.4 252.0 L410.4 252.5 L410.5 252.8 L410.5 253.0 L410.5 253.1 L410.5 253.0 L410.5 252.8 L410.5 252.4 L410.6 252.0 L410.6 251.4 L410.6 250.8 L410.6 250.1 L410.6 249.5 L410.7 249.0 L410.7 248.6 L410.7 248.4 L410.7 248.4 L410.7 248.5 L410.7 248.9 L410.8 249.4 L410.8 250.1 L410.8 251.0 L410.8 252.0 L410.8 253.0 L410.9 254.1 L410.9 255.1 L410.9 256.1 L410.9 256.9 L410.9 257.7 L410.9 258.3 L411.0 258.8 L411.0 259.2 L411.0 259.3 L411.0 259.4 L411.0 259.2 L411.1 259.0 L411.1 258.5 L411.1 258.0 L411.1 257.3 L411.1 256.5 L411.1 255.5 L411.2 254.5 L411.2 253.5 L411.2 252.4 L411.2 251.2 L411.2 250.0 L411.2 248.8 L411.3 247.6 L411.3 246.5 L411.3 245.3 L411.3 244.3 L411.3 243.3 L411.4 242.4 L411.4 241.6 L411.4 240.9 L411.4 240.4 L411.4 240.0 L411.4 239.8 L411.5 239.8 L411.5 240.0 L411.5 240.4 L411.5 240.9 L411.5 241.6 L411.6 242.4 L411.6 243.2 L411.6 244.1 L411.6 245.0 L411.6 245.9 L411.6 246.7 L411.7 247.5 L411.7 248.1 L411.7 248.7 L411.7 249.2 L411.7 249.5 L411.7 249.9 L411.8 250.1 L411.8 250.4 L411.8 250.6 L411.8 250.8 L411.8 251.1 L411.9 251.4 L411.9 251.8 L411.9 252.2 L411.9 252.7 L411.9 253.2 L411.9 253.8 L412.0 254.4 L412.0 254.9 L412.0 255.4 L412.0 255.9 L412.0 256.2 L412.0 256.5 L412.1 256.7 L412.1 256.7 L412.1 256.7 L412.1 256.6 L412.1 256.4 L412.1 256.1 L412.2 255.8 L412.2 255.5 L412.2 255.1 L412.2 254.7 L412.2 254.3 L412.3 253.9 L412.3 253.5 L412.3 253.1 L412.3 252.6 L412.3 252.2 L412.3 251.7 L412.4 251.3 L412.4 250.9 L412.4 250.5 L412.4 250.1 L412.4 249.6 L412.4 249.2 L412.5 248.8 L412.5 248.4 L412.5 248.1 L412.5 247.7 L412.5 247.4 L412.5 247.1 L412.6 246.9 L412.6 246.8 L412.6 246.8 L412.6 246.8 L412.6 247.0 L412.7 247.3 L412.7 247.7 L412.7 248.1 L412.7 248.7 L412.7 249.3 L412.7 250.0 L412.8 250.7 L412.8 251.4 L412.8 252.1 L412.8 252.7 L412.8 253.3 L412.8 253.8 L412.9 254.3 L412.9 254.6 L412.9 254.7 L412.9 254.8 L412.9 254.8 L412.9 254.6 L413.0 254.4 L413.0 254.1 L413.0 253.8 L413.0 253.5 L413.0 253.1 L413.0 252.8 L413.1 252.5 L413.1 252.2 L413.1 251.8 L413.1 251.5 L413.1 251.0 L413.2 250.6 L413.2 250.0 L413.2 249.5 L413.2 248.9 L413.2 248.3 L413.2 247.9 L413.3 247.5 L413.3 247.4 L413.3 247.5 L413.3 247.9 L413.3 248.5 L413.3 249.4 L413.4 250.6 L413.4 252.0 L413.4 253.5 L413.4 255.0 L413.4 256.5 L413.4 257.8 L413.5 259.0 L413.5 259.9 L413.5 260.5 L413.5 260.9 L413.5 260.9 L413.5 260.6 L413.6 260.1 L413.6 259.4 L413.6 258.5 L413.6 257.5 L413.6 256.4 L413.6 255.4 L413.7 254.3 L413.7 253.3 L413.7 252.3 L413.7 251.5 L413.7 250.7 L413.7 250.0 L413.8 249.5 L413.8 249.0 L413.8 248.7 L413.8 248.4 L413.8 248.2 L413.8 248.0 L413.9 247.8 L413.9 247.7 L413.9 247.5 L413.9 247.2 L413.9 246.9 L413.9 246.5 L414.0 246.0 L414.0 245.5 L414.0 244.9 L414.0 244.3 L414.0 243.7 L414.0 243.2 L414.1 242.7 L414.1 242.4 L414.1 242.2 L414.1 242.1 L414.1 242.2 L414.1 242.4 L414.2 242.7 L414.2 243.2 L414.2 243.8 L414.2 244.3 L414.2 244.9 L414.2 245.5 L414.3 246.0 L414.3 246.5 L414.3 246.8 L414.3 247.0 L414.3 247.2 L414.3 247.3 L414.4 247.3 L414.4 247.4 L414.4 247.5 L414.4 247.6 L414.4 247.9 L414.4 248.2 L414.5 248.7 L414.5 249.4 L414.5 250.1 L414.5 250.9 L414.5 251.7 L414.5 252.5 L414.6 253.2 L414.6 253.9 L414.6 254.3 L414.6 254.6 L414.6 254.7 L414.6 254.5 L414.7 254.2 L414.7 253.8 L414.7 253.3 L414.7 252.7 L414.7 252.0 L414.7 251.4 L414.8 250.9 L414.8 250.4 L414.8 250.0 L414.8 249.7 L414.8 249.5 L414.8 249.3 L414.9 249.2 L414.9 249.0 L414.9 248.8 L414.9 248.5 L414.9 248.2 L414.9 247.8 L415.0 247.2 L415.0 246.7 L415.0 246.1 L415.0 245.4 L415.0 244.8 L415.0 244.3 L415.1 243.8 L415.1 243.4 L415.1 243.1 L415.1 242.9 L415.1 242.8 L415.1 242.8 L415.2 242.9 L415.2 243.1 L415.2 243.3 L415.2 243.6 L415.2 243.9 L415.2 244.2 L415.3 244.5 L415.3 244.9 L415.3 245.2 L415.3 245.6 L415.3 246.0 L415.3 246.4 L415.3 246.9 L415.4 247.3 L415.4 247.8 L415.4 248.2 L415.4 248.7 L415.4 249.1 L415.4 249.4 L415.5 249.7 L415.5 250.0 L415.5 250.3 L415.5 250.5 L415.5 250.8 L415.5 251.1 L415.6 251.4 L415.6 251.7 L415.6 252.1 L415.6 252.6 L415.6 253.1 L415.6 253.7 L415.7 254.2 L415.7 254.8 L415.7 255.4 L415.7 255.9 L415.7 256.4 L415.7 256.9 L415.8 257.3 L415.8 257.7 L415.8 258.1 L415.8 258.4 L415.8 258.6 L415.8 258.7 L415.8 258.7 L415.9 258.6 L415.9 258.3 L415.9 257.9 L415.9 257.3 L415.9 256.5 L415.9 255.5 L416.0 254.3 L416.0 252.9 L416.0 251.4 L416.0 249.9 L416.0 248.4 L416.0 247.0 L416.1 245.7 L416.1 244.6 L416.1 243.8 L416.1 243.2 L416.1 242.9 L416.1 242.9 L416.2 243.1 L416.2 243.6 L416.2 244.2 L416.2 245.1 L416.2 246.0 L416.2 246.9 L416.2 247.9 L416.3 248.8 L416.3 249.6 L416.3 250.4 L416.3 250.9 L416.3 251.3 L416.3 251.6 L416.4 251.7 L416.4 251.7 L416.4 251.6 L416.4 251.4 L416.4 251.2 L416.4 251.1 L416.5 251.0 L416.5 251.0 L416.5 251.0 L416.5 251.2 L416.5 251.5 L416.5 251.9 L416.5 252.3 L416.6 252.8 L416.6 253.2 L416.6 253.6 L416.6 253.8 L416.6 254.0 L416.6 254.0 L416.7 253.9 L416.7 253.7 L416.7 253.4 L416.7 253.0 L416.7 252.5 L416.7 252.0 L416.8 251.6 L416.8 251.2 L416.8 250.8 L416.8 250.6 L416.8 250.5 L416.8 250.5 L416.8 250.6 L416.9 250.9 L416.9 251.2 L416.9 251.6 L416.9 252.1 L416.9 252.5 L416.9 252.9 L417.0 253.3 L417.0 253.6 L417.0 253.8 L417.0 253.9 L417.0 253.8 L417.0 253.7 L417.0 253.5 L417.1 253.2 L417.1 252.9 L417.1 252.6 L417.1 252.3 L417.1 252.1 L417.1 252.0 L417.2 252.0 L417.2 252.1 L417.2 252.4 L417.2 252.8 L417.2 253.3 L417.2 253.9 L417.3 254.6 L417.3 255.2 L417.3 255.9 L417.3 256.4 L417.3 256.8 L417.3 257.1 L417.3 257.2 L417.4 257.1 L417.4 256.9 L417.4 256.5 L417.4 255.9 L417.4 255.3 L417.4 254.6 L417.5 254.0 L417.5 253.3 L417.5 252.7 L417.5 252.1 L417.5 251.6 L417.5 251.3 L417.5 251.0 L417.6 250.7 L417.6 250.5 L417.6 250.3 L417.6 250.1 L417.6 249.9 L417.6 249.5 L417.7 249.2 L417.7 248.7 L417.7 248.2 L417.7 247.5 L417.7 246.9 L417.7 246.2 L417.7 245.4 L417.8 244.7 L417.8 244.1 L417.8 243.5 L417.8 243.1 L417.8 242.7 L417.8 242.5 L417.9 242.5 L417.9 242.6 L417.9 242.9 L417.9 243.3 L417.9 243.8 L417.9 244.5 L417.9 245.2 L418.0 246.1 L418.0 246.9 L418.0 247.8 L418.0 248.6 L418.0 249.4 L418.0 250.1 L418.1 250.7 L418.1 251.1 L418.1 251.5 L418.1 251.7 L418.1 251.9 L418.1 251.9 L418.1 251.8 L418.2 251.6 L418.2 251.4 L418.2 251.2 L418.2 250.9 L418.2 250.7 L418.2 250.6 L418.2 250.5 L418.3 250.5 L418.3 250.6 L418.3 250.8 L418.3 251.0 L418.3 251.3 L418.3 251.6 L418.4 251.9 L418.4 252.2 L418.4 252.4 L418.4 252.6 L418.4 252.7 L418.4 252.7 L418.4 252.5 L418.5 252.3 L418.5 251.9 L418.5 251.5 L418.5 250.9 L418.5 250.4 L418.5 249.8 L418.6 249.2 L418.6 248.6 L418.6 248.0 L418.6 247.5 L418.6 247.1 L418.6 246.7 L418.6 246.4 L418.7 246.1 L418.7 245.9 L418.7 245.6 L418.7 245.3 L418.7 245.1 L418.7 244.7 L418.7 244.4 L418.8 243.9 L418.8 243.4 L418.8 242.9 L418.8 242.3 L418.8 241.7 L418.8 241.0 L418.9 240.2 L418.9 239.5 L418.9 238.7 L418.9 237.9 L418.9 237.2 L418.9 236.6 L418.9 236.0 L419.0 235.6 L419.0 235.4 L419.0 235.3 L419.0 235.5 L419.0 235.8 L419.0 236.3 L419.0 237.1 L419.1 238.0 L419.1 239.1 L419.1 240.3 L419.1 241.6 L419.1 243.0 L419.1 244.4 L419.2 245.8 L419.2 247.3 L419.2 248.7 L419.2 250.1 L419.2 251.4 L419.2 252.7 L419.2 254.0 L419.3 255.2 L419.3 256.3 L419.3 257.4 L419.3 258.4 L419.3 259.4 L419.3 260.4 L419.3 261.4 L419.4 262.3 L419.4 263.3 L419.4 264.2 L419.4 265.1 L419.4 266.0 L419.4 266.8 L419.4 267.6 L419.5 268.3 L419.5 268.8 L419.5 269.3 L419.5 269.6 L419.5 269.7 L419.5 269.7 L419.5 269.6 L419.6 269.4 L419.6 269.1 L419.6 268.7 L419.6 268.2 L419.6 267.7 L419.6 267.1 L419.7 266.4 L419.7 265.7 L419.7 264.9 L419.7 264.1 L419.7 263.2 L419.7 262.2 L419.7 261.2 L419.8 260.1 L419.8 258.9 L419.8 257.7 L419.8 256.6 L419.8 255.4 L419.8 254.2 L419.8 253.1 L419.9 252.0 L419.9 251.0 L419.9 250.1 L419.9 249.4 L419.9 248.7 L419.9 248.2 L419.9 247.9 L420.0 247.7 L420.0 247.6 L420.0 247.6 L420.0 247.8 L420.0 248.0 L420.0 248.3 L420.0 248.6 L420.1 249.0 L420.1 249.4 L420.1 249.9 L420.1 250.4 L420.1 250.9 L420.1 251.5 L420.1 252.1 L420.2 252.9 L420.2 253.7 L420.2 254.6 L420.2 255.7 L420.2 256.8 L420.2 257.9 L420.3 259.0 L420.3 260.1 L420.3 261.0 L420.3 261.8 L420.3 262.4 L420.3 262.7 L420.3 262.8 L420.4 262.6 L420.4 262.2 L420.4 261.6 L420.4 260.8 L420.4 260.0 L420.4 259.2 L420.4 258.4 L420.5 257.8 L420.5 257.3 L420.5 257.1 L420.5 257.1 L420.5 257.4 L420.5 257.9 L420.5 258.7 L420.6 259.6 L420.6 260.6 L420.6 261.7 L420.6 262.7 L420.6 263.7 L420.6 264.5 L420.6 265.1 L420.7 265.5 L420.7 265.6 L420.7 265.5 L420.7 265.1 L420.7 264.5 L420.7 263.7 L420.7 262.7 L420.8 261.6 L420.8 260.4 L420.8 259.2 L420.8 258.0 L420.8 256.8 L420.8 255.8 L420.8 254.8 L420.9 254.0 L420.9 253.3 L420.9 252.7 L420.9 252.3 L420.9 251.9 L420.9 251.6 L420.9 251.4 L421.0 251.1 L421.0 250.9 L421.0 250.6 L421.0 250.3 L421.0 250.0 L421.0 249.6 L421.0 249.2 L421.1 248.7 L421.1 248.3 L421.1 247.9 L421.1 247.5 L421.1 247.2 L421.1 247.0 L421.1 246.8 L421.2 246.8 L421.2 246.8 L421.2 246.9 L421.2 247.1 L421.2 247.3 L421.2 247.5 L421.2 247.8 L421.3 248.1 L421.3 248.5 L421.3 248.8 L421.3 249.2 L421.3 249.7 L421.3 250.2 L421.3 250.9 L421.4 251.6 L421.4 252.4 L421.4 253.4 L421.4 254.5 L421.4 255.6 L421.4 256.9 L421.4 258.2 L421.4 259.4 L421.5 260.7 L421.5 261.9 L421.5 262.9 L421.5 263.8 L421.5 264.5 L421.5 264.9 L421.5 265.1 L421.6 265.1 L421.6 264.9 L421.6 264.5 L421.6 264.0 L421.6 263.3 L421.6 262.5 L421.6 261.7 L421.7 261.0 L421.7 260.2 L421.7 259.6 L421.7 259.1 L421.7 258.8 L421.7 258.6 L421.7 258.5 L421.8 258.5 L421.8 258.6 L421.8 258.7 L421.8 258.9 L421.8 259.0 L421.8 259.0 L421.8 258.9 L421.9 258.7 L421.9 258.4 L421.9 258.0 L421.9 257.4 L421.9 256.7 L421.9 255.9 L421.9 255.1 L422.0 254.2 L422.0 253.3 L422.0 252.4 L422.0 251.5 L422.0 250.7 L422.0 249.9 L422.0 249.2 L422.1 248.6 L422.1 248.1 L422.1 247.7 L422.1 247.3 L422.1 247.0 L422.1 246.8 L422.1 246.7 L422.1 246.7 L422.2 246.8 L422.2 247.0 L422.2 247.4 L422.2 247.8 L422.2 248.4 L422.2 249.1 L422.2 249.9 L422.3 250.8 L422.3 251.9 L422.3 253.1 L422.3 254.3 L422.3 255.6 L422.3 256.9 L422.3 258.1 L422.4 259.3 L422.4 260.4 L422.4 261.3 L422.4 262.1 L422.4 262.7 L422.4 263.0 L422.4 263.1 L422.5 263.0 L422.5 262.7 L422.5 262.2 L422.5 261.6 L422.5 260.9 L422.5 260.2 L422.5 259.5 L422.5 258.9 L422.6 258.4 L422.6 258.0 L422.6 257.7 L422.6 257.6 L422.6 257.6 L422.6 257.6 L422.6 257.7 L422.7 257.8 L422.7 257.8 L422.7 257.8 L422.7 257.6 L422.7 257.3 L422.7 256.9 L422.7 256.3 L422.8 255.6 L422.8 254.7 L422.8 253.8 L422.8 252.8 L422.8 251.8 L422.8 250.9 L422.8 249.9 L422.8 249.1 L422.9 248.3 L422.9 247.6 L422.9 247.1 L422.9 246.6 L422.9 246.3 L422.9 246.0 L422.9 245.8 L423.0 245.6 L423.0 245.5 L423.0 245.4 L423.0 245.3 L423.0 245.3 L423.0 245.2 L423.0 245.1 L423.1 245.1 L423.1 245.1 L423.1 245.0 L423.1 245.0 L423.1 244.9 L423.1 244.8 L423.1 244.7 L423.1 244.6 L423.2 244.5 L423.2 244.4 L423.2 244.4 L423.2 244.5 L423.2 244.6 L423.2 245.0 L423.2 245.6 L423.3 246.3 L423.3 247.3 L423.3 248.5 L423.3 249.8 L423.3 251.3 L423.3 252.8 L423.3 254.4 L423.4 255.9 L423.4 257.2 L423.4 258.4 L423.4 259.3 L423.4 259.9 L423.4 260.2 L423.4 260.2 L423.4 259.9 L423.5 259.4 L423.5 258.7 L423.5 257.8 L423.5 256.8 L423.5 255.8 L423.5 254.7 L423.5 253.7 L423.6 252.6 L423.6 251.6 L423.6 250.5 L423.6 249.5 L423.6 248.5 L423.6 247.4 L423.6 246.3 L423.6 245.2 L423.7 244.1 L423.7 243.0 L423.7 241.9 L423.7 240.9 L423.7 239.9 L423.7 239.1 L423.7 238.4 L423.8 237.8 L423.8 237.4 L423.8 237.1 L423.8 237.0 L423.8 237.0 L423.8 237.2 L423.8 237.5 L423.8 237.9 L423.9 238.4 L423.9 239.1 L423.9 239.9 L423.9 240.9 L423.9 241.9 L423.9 243.1 L423.9 244.5 L424.0 245.9 L424.0 247.5 L424.0 249.1 L424.0 250.8 L424.0 252.5 L424.0 254.1 L424.0 255.7 L424.0 257.1 L424.1 258.3 L424.1 259.4 L424.1 260.2 L424.1 260.8 L424.1 261.1 L424.1 261.1 L424.1 260.8 L424.2 260.3 L424.2 259.5 L424.2 258.5 L424.2 257.2 L424.2 255.8 L424.2 254.2 L424.2 252.5 L424.2 250.7 L424.3 249.0 L424.3 247.3 L424.3 245.8 L424.3 244.5 L424.3 243.4 L424.3 242.6 L424.3 242.2 L424.4 242.1 L424.4 242.3 L424.4 242.9 L424.4 243.7 L424.4 244.8 L424.4 246.0 L424.4 247.3 L424.4 248.6 L424.5 249.9 L424.5 251.2 L424.5 252.3 L424.5 253.2 L424.5 253.9 L424.5 254.4 L424.5 254.7 L424.5 254.9 L424.6 254.8 L424.6 254.6 L424.6 254.2 L424.6 253.7 L424.6 253.1 L424.6 252.4 L424.6 251.8 L424.7 251.2 L424.7 250.6 L424.7 250.2 L424.7 250.0 L424.7 249.9 L424.7 250.0 L424.7 250.3 L424.7 250.7 L424.8 251.3 L424.8 251.9 L424.8 252.7 L424.8 253.4 L424.8 254.0 L424.8 254.6 L424.8 255.1 L424.8 255.4 L424.9 255.6 L424.9 255.7 L424.9 255.6 L424.9 255.6 L424.9 255.5 L424.9 255.4 L424.9 255.4 L425.0 255.6 L425.0 255.8 L425.0 256.3 L425.0 256.9 L425.0 257.6 L425.0 258.5 L425.0 259.6 L425.0 260.6 L425.1 261.7 L425.1 262.8 L425.1 263.8 L425.1 264.7 L425.1 265.4 L425.1 265.9 L425.1 266.2 L425.1 266.3 L425.2 266.2 L425.2 265.8 L425.2 265.3 L425.2 264.7 L425.2 264.0 L425.2 263.2 L425.2 262.5 L425.2 261.8 L425.3 261.2 L425.3 260.7 L425.3 260.4 L425.3 260.2 L425.3 260.2 L425.3 260.2 L425.3 260.3 L425.4 260.5 L425.4 260.6 L425.4 260.7 L425.4 260.6 L425.4 260.4 L425.4 260.0 L425.4 259.3 L425.4 258.4 L425.5 257.3 L425.5 255.9 L425.5 254.2 L425.5 252.4 L425.5 250.4 L425.5 248.3 L425.5 246.2 L425.5 244.1 L425.6 242.1 L425.6 240.2 L425.6 238.4 L425.6 237.0 L425.6 235.8 L425.6 234.8 L425.6 234.2 L425.6 234.0 L425.7 234.0 L425.7 234.4 L425.7 235.0 L425.7 235.9 L425.7 237.1 L425.7 238.4 L425.7 239.9 L425.7 241.5 L425.8 243.1 L425.8 244.6 L425.8 246.1 L425.8 247.4 L425.8 248.6 L425.8 249.5 L425.8 250.2 L425.9 250.7 L425.9 250.9 L425.9 251.0 L425.9 250.8 L425.9 250.6 L425.9 250.2 L425.9 249.8 L425.9 249.4 L426.0 249.1 L426.0 248.8 L426.0 248.7 L426.0 248.6 L426.0 248.7 L426.0 249.0 L426.0 249.5 L426.0 250.0 L426.1 250.7 L426.1 251.6 L426.1 252.5 L426.1 253.5 L426.1 254.5 L426.1 255.4 L426.1 256.4 L426.1 257.2 L426.2 257.9 L426.2 258.5 L426.2 259.0 L426.2 259.2 L426.2 259.3 L426.2 259.2 L426.2 258.9 L426.2 258.5 L426.3 257.9 L426.3 257.2 L426.3 256.4 L426.3 255.5 L426.3 254.5 L426.3 253.5 L426.3 252.5 L426.3 251.5 L426.4 250.6 L426.4 249.8 L426.4 249.1 L426.4 248.4 L426.4 247.9 L426.4 247.5 L426.4 247.1 L426.4 246.8 L426.5 246.6 L426.5 246.2 L426.5 245.9 L426.5 245.4 L426.5 244.9 L426.5 244.2 L426.5 243.4 L426.5 242.5 L426.6 241.6 L426.6 240.5 L426.6 239.5 L426.6 238.5 L426.6 237.6 L426.6 236.8 L426.6 236.2 L426.6 235.8 L426.7 235.5 L426.7 235.5 L426.7 235.7 L426.7 236.1 L426.7 236.7 L426.7 237.3 L426.7 238.1 L426.7 238.9 L426.8 239.8 L426.8 240.7 L426.8 241.6 L426.8 242.4 L426.8 243.2 L426.8 243.9 L426.8 244.7 L426.8 245.4 L426.9 246.0 L426.9 246.7 L426.9 247.4 L426.9 248.1 L426.9 248.8 L426.9 249.6 L426.9 250.4 L426.9 251.3 L427.0 252.1 L427.0 253.1 L427.0 254.1 L427.0 255.1 L427.0 256.1 L427.0 257.2 L427.0 258.2 L427.0 259.2 L427.1 260.2 L427.1 261.1 L427.1 261.9 L427.1 262.6 L427.1 263.2 L427.1 263.6 L427.1 263.8 L427.1 264.0 L427.2 264.0 L427.2 263.9 L427.2 263.7 L427.2 263.4 L427.2 263.0 L427.2 262.5 L427.2 262.0 L427.2 261.5 L427.3 261.0 L427.3 260.4 L427.3 259.9 L427.3 259.4 L427.3 259.0 L427.3 258.6 L427.3 258.3 L427.3 258.0 L427.4 257.9 L427.4 257.8 L427.4 257.7 L427.4 257.8 L427.4 257.9 L427.4 258.0 L427.4 258.2 L427.4 258.4 L427.4 258.6 L427.5 258.7 L427.5 258.9 L427.5 259.0 L427.5 259.0 L427.5 259.0 L427.5 259.0 L427.5 259.0 L427.5 258.9 L427.6 258.8 L427.6 258.8 L427.6 258.8 L427.6 258.8 L427.6 258.9 L427.6 259.0 L427.6 259.3 L427.6 259.6 L427.7 260.0 L427.7 260.5 L427.7 261.0 L427.7 261.6 L427.7 262.3 L427.7 262.9 L427.7 263.6 L427.7 264.2 L427.8 264.8 L427.8 265.4 L427.8 266.0 L427.8 266.5 L427.8 267.0 L427.8 267.4 L427.8 267.7 L427.8 268.0 L427.9 268.1 L427.9 268.1 L427.9 267.9 L427.9 267.5 L427.9 266.9 L427.9 266.1 L427.9 265.0 L427.9 263.7 L427.9 262.2 L428.0 260.5 L428.0 258.7 L428.0 256.8 L428.0 254.8 L428.0 252.8 L428.0 250.8 L428.0 248.9 L428.0 247.2 L428.1 245.5 L428.1 244.1 L428.1 242.8 L428.1 241.7 L428.1 240.8 L428.1 240.1 L428.1 239.5 L428.1 239.1 L428.2 238.7 L428.2 238.5 L428.2 238.4 L428.2 238.4 L428.2 238.4 L428.2 238.5 L428.2 238.8 L428.2 239.0 L428.3 239.4 L428.3 239.8 L428.3 240.3 L428.3 240.9 L428.3 241.4 L428.3 242.0 L428.3 242.5 L428.3 242.9 L428.3 243.4 L428.4 243.8 L428.4 244.1 L428.4 244.4 L428.4 244.7 L428.4 245.0 L428.4 245.3 L428.4 245.7 L428.4 246.0 L428.5 246.4 L428.5 246.9 L428.5 247.4 L428.5 247.9 L428.5 248.4 L428.5 248.9 L428.5 249.4 L428.5 249.9 L428.6 250.5 L428.6 251.0 L428.6 251.6 L428.6 252.3 L428.6 252.9 L428.6 253.6 L428.6 254.3 L428.6 255.0 L428.6 255.6 L428.7 256.2 L428.7 256.7 L428.7 257.1 L428.7 257.3 L428.7 257.5 L428.7 257.6 L428.7 257.7 L428.7 257.8 L428.8 257.8 L428.8 257.9 L428.8 258.1 L428.8 258.4 L428.8 258.7 L428.8 259.1 L428.8 259.5 L428.8 260.0 L428.8 260.4 L428.9 260.7 L428.9 260.9 L428.9 261.0 L428.9 261.0 L428.9 260.8 L428.9 260.4 L428.9 260.0 L428.9 259.4 L429.0 258.8 L429.0 258.2 L429.0 257.6 L429.0 257.1 L429.0 256.6 L429.0 256.2 L429.0 255.9 L429.0 255.7 L429.1 255.5 L429.1 255.4 L429.1 255.4 L429.1 255.3 L429.1 255.2 L429.1 255.0 L429.1 254.7 L429.1 254.4 L429.1 254.0 L429.2 253.6 L429.2 253.1 L429.2 252.6 L429.2 252.2 L429.2 251.8 L429.2 251.5 L429.2 251.3 L429.2 251.3 L429.3 251.5 L429.3 251.9 L429.3 252.5 L429.3 253.3 L429.3 254.3 L429.3 255.5 L429.3 256.9 L429.3 258.4 L429.3 260.1 L429.4 261.8 L429.4 263.5 L429.4 265.2 L429.4 266.7 L429.4 268.0 L429.4 269.1 L429.4 270.0 L429.4 270.5 L429.4 270.8 L429.5 270.8 L429.5 270.4 L429.5 269.9 L429.5 269.1 L429.5 268.2 L429.5 267.2 L429.5 266.1 L429.5 265.0 L429.6 264.0 L429.6 263.0 L429.6 262.1 L429.6 261.3 L429.6 260.7 L429.6 260.1 L429.6 259.7 L429.6 259.4 L429.6 259.1 L429.7 258.9 L429.7 258.7 L429.7 258.5 L429.7 258.3 L429.7 258.1 L429.7 257.8 L429.7 257.5 L429.7 257.2 L429.8 256.8 L429.8 256.4 L429.8 255.9 L429.8 255.5 L429.8 255.1 L429.8 254.8 L429.8 254.4 L429.8 254.2 L429.8 254.0 L429.9 253.9 L429.9 253.9 L429.9 253.9 L429.9 253.9 L429.9 254.0 L429.9 254.1 L429.9 254.1 L429.9 254.1 L430.0 254.1 L430.0 254.1 L430.0 254.0 L430.0 253.8 L430.0 253.7 L430.0 253.5 L430.0 253.4 L430.0 253.2 L430.0 253.2 L430.1 253.2 L430.1 253.2 L430.1 253.4 L430.1 253.6 L430.1 253.9 L430.1 254.2 L430.1 254.5 L430.1 254.9 L430.1 255.2 L430.2 255.5 L430.2 255.7 L430.2 255.8 L430.2 255.9 L430.2 255.9 L430.2 255.7 L430.2 255.5 L430.2 255.1 L430.2 254.7 L430.3 254.2 L430.3 253.6 L430.3 253.0 L430.3 252.4 L430.3 251.8 L430.3 251.4 L430.3 251.0 L430.3 250.8 L430.4 250.8 L430.4 251.0 L430.4 251.5 L430.4 252.2 L430.4 253.1 L430.4 254.1 L430.4 255.3 L430.4 256.5 L430.4 257.7 L430.5 258.8 L430.5 259.8 L430.5 260.6 L430.5 261.1 L430.5 261.4 L430.5 261.4 L430.5 261.1 L430.5 260.6 L430.5 259.9 L430.6 259.0 L430.6 258.1 L430.6 257.1 L430.6 256.1 L430.6 255.1 L430.6 254.3 L430.6 253.6 L430.6 253.0 L430.7 252.6 L430.7 252.3 L430.7 252.2 L430.7 252.2 L430.7 252.2 L430.7 252.4 L430.7 252.5 L430.7 252.8 L430.7 253.0 L430.8 253.2 L430.8 253.5 L430.8 253.7 L430.8 254.0 L430.8 254.2 L430.8 254.4 L430.8 254.6 L430.8 254.8 L430.8 255.0 L430.9 255.2 L430.9 255.3 L430.9 255.4 L430.9 255.4 L430.9 255.3 L430.9 255.3 L430.9 255.1 L430.9 254.9 L430.9 254.7 L431.0 254.4 L431.0 254.1 L431.0 253.8 L431.0 253.5 L431.0 253.3 L431.0 253.2 L431.0 253.1 L431.0 253.0 L431.0 253.1 L431.1 253.3 L431.1 253.5 L431.1 253.8 L431.1 254.2 L431.1 254.6 L431.1 255.1 L431.1 255.5 L431.1 256.0 L431.1 256.4 L431.2 256.8 L431.2 257.1 L431.2 257.3 L431.2 257.3 L431.2 257.3 L431.2 257.1 L431.2 256.8 L431.2 256.4 L431.2 255.9 L431.3 255.3 L431.3 254.6 L431.3 253.9 L431.3 253.2 L431.3 252.5 L431.3 251.8 L431.3 251.2 L431.3 250.7 L431.3 250.2 L431.4 249.9 L431.4 249.8 L431.4 249.8 L431.4 250.0 L431.4 250.3 L431.4 250.9 L431.4 251.6 L431.4 252.4 L431.5 253.4 L431.5 254.4 L431.5 255.5 L431.5 256.5 L431.5 257.5 L431.5 258.4 L431.5 259.1 L431.5 259.7 L431.5 260.2 L431.6 260.5 L431.6 260.5 L431.6 260.4 L431.6 260.1 L431.6 259.7 L431.6 259.0 L431.6 258.3 L431.6 257.3 L431.6 256.3 L431.7 255.2 L431.7 254.0 L431.7 252.9 L431.7 251.7 L431.7 250.6 L431.7 249.5 L431.7 248.6 L431.7 247.9 L431.7 247.2 L431.8 246.8 L431.8 246.6 L431.8 246.5 L431.8 246.6 L431.8 246.8 L431.8 247.2 L431.8 247.6 L431.8 248.1 L431.8 248.6 L431.9 249.1 L431.9 249.5 L431.9 249.8 L431.9 250.0 L431.9 250.0 L431.9 250.0 L431.9 249.8 L431.9 249.6 L431.9 249.3 L432.0 249.1 L432.0 248.9 L432.0 248.8 L432.0 248.8 L432.0 249.0 L432.0 249.4 L432.0 250.0 L432.0 250.8 L432.0 251.7 L432.0 252.9 L432.1 254.1 L432.1 255.3 L432.1 256.6 L432.1 257.9 L432.1 259.1 L432.1 260.1 L432.1 261.1 L432.1 261.9 L432.1 262.6 L432.2 263.2 L432.2 263.7 L432.2 264.0 L432.2 264.4 L432.2 264.7 L432.2 265.0 L432.2 265.4 L432.2 265.8 L432.2 266.2 L432.3 266.8 L432.3 267.4 L432.3 268.0 L432.3 268.7 L432.3 269.3 L432.3 269.9 L432.3 270.4 L432.3 270.8 L432.3 271.0 L432.4 271.0 L432.4 270.8 L432.4 270.4 L432.4 269.8 L432.4 269.0 L432.4 268.0 L432.4 266.9 L432.4 265.7 L432.4 264.4 L432.5 263.1 L432.5 261.7 L432.5 260.5 L432.5 259.3 L432.5 258.1 L432.5 257.1 L432.5 256.2 L432.5 255.4 L432.5 254.7 L432.6 254.2 L432.6 253.7 L432.6 253.4 L432.6 253.2 L432.6 253.1 L432.6 253.1 L432.6 253.2 L432.6 253.4 L432.6 253.5 L432.7 253.7 L432.7 253.8 L432.7 253.9 L432.7 253.8 L432.7 253.7 L432.7 253.5 L432.7 253.2 L432.7 252.7 L432.7 252.2 L432.7 251.6 L432.8 251.0 L432.8 250.3 L432.8 249.6 L432.8 248.9 L432.8 248.3 L432.8 247.6 L432.8 247.1 L432.8 246.6 L432.8 246.3 L432.9 246.1 L432.9 246.0 L432.9 246.2 L432.9 246.6 L432.9 247.1 L432.9 247.9 L432.9 248.7 L432.9 249.7 L432.9 250.7 L433.0 251.6 L433.0 252.4 L433.0 253.1 L433.0 253.6 L433.0 253.9 L433.0 253.9 L433.0 253.7 L433.0 253.2 L433.0 252.7 L433.1 252.0 L433.1 251.2 L433.1 250.5 L433.1 249.7 L433.1 249.1 L433.1 248.6 L433.1 248.3 L433.1 248.2 L433.1 248.2 L433.1 248.5 L433.2 249.1 L433.2 249.8 L433.2 250.8 L433.2 251.9 L433.2 253.2 L433.2 254.6 L433.2 256.0 L433.2 257.3 L433.2 258.6 L433.3 259.7 L433.3 260.7 L433.3 261.4 L433.3 262.0 L433.3 262.3 L433.3 262.4 L433.3 262.3 L433.3 262.2 L433.3 261.9 L433.4 261.6 L433.4 261.3 L433.4 261.0 L433.4 260.9 L433.4 260.8 L433.4 260.8 L433.4 260.8 L433.4 260.9 L433.4 261.0 L433.4 261.2 L433.5 261.3 L433.5 261.3 L433.5 261.2 L433.5 261.1 L433.5 260.8 L433.5 260.4 L433.5 259.9 L433.5 259.3 L433.5 258.6 L433.6 257.9 L433.6 257.2 L433.6 256.4 L433.6 255.6 L433.6 254.9 L433.6 254.3 L433.6 253.8 L433.6 253.4 L433.6 253.2 L433.7 253.0 L433.7 253.1 L433.7 253.2 L433.7 253.5 L433.7 254.0 L433.7 254.5 L433.7 255.1 L433.7 255.7 L433.7 256.3 L433.7 256.8 L433.8 257.4 L433.8 257.8 L433.8 258.1 L433.8 258.4 L433.8 258.5 L433.8 258.5 L433.8 258.4 L433.8 258.2 L433.8 258.0 L433.9 257.8 L433.9 257.6 L433.9 257.4 L433.9 257.3 L433.9 257.3 L433.9 257.5 L433.9 257.7 L433.9 258.1 L433.9 258.6 L433.9 259.2 L434.0 259.9 L434.0 260.6 L434.0 261.3 L434.0 262.0 L434.0 262.6 L434.0 263.1 L434.0 263.5 L434.0 263.8 L434.0 263.9 L434.1 263.9 L434.1 263.7 L434.1 263.4 L434.1 263.0 L434.1 262.4 L434.1 261.8 L434.1 261.0 L434.1 260.3 L434.1 259.4 L434.1 258.6 L434.2 257.8 L434.2 257.0 L434.2 256.2 L434.2 255.5 L434.2 254.9 L434.2 254.4 L434.2 254.0 L434.2 253.7 L434.2 253.5 L434.3 253.4 L434.3 253.4 L434.3 253.4 L434.3 253.5 L434.3 253.5 L434.3 253.6 L434.3 253.7 L434.3 253.8 L434.3 253.8 L434.3 253.8 L434.4 253.7 L434.4 253.6 L434.4 253.5 L434.4 253.4 L434.4 253.3 L434.4 253.3 L434.4 253.2 L434.4 253.2 L434.4 253.3 L434.4 253.3 L434.5 253.5 L434.5 253.6 L434.5 253.8 L434.5 254.0 L434.5 254.2 L434.5 254.4 L434.5 254.5 L434.5 254.7 L434.5 254.8 L434.6 255.0 L434.6 255.1 L434.6 255.2 L434.6 255.3 L434.6 255.3 L434.6 255.4 L434.6 255.5 L434.6 255.6 L434.6 255.7 L434.6 255.7 L434.7 255.8 L434.7 255.9 L434.7 255.9 L434.7 256.0 L434.7 256.1 L434.7 256.2 L434.7 256.3 L434.7 256.4 L434.7 256.5 L434.8 256.7 L434.8 256.8 L434.8 257.0 L434.8 257.1 L434.8 257.3 L434.8 257.3 L434.8 257.4 L434.8 257.4 L434.8 257.3 L434.8 257.1 L434.9 256.9 L434.9 256.5 L434.9 256.0 L434.9 255.3 L434.9 254.5 L434.9 253.6 L434.9 252.6 L434.9 251.5 L434.9 250.3 L434.9 249.2 L435.0 248.0 L435.0 247.0 L435.0 246.0 L435.0 245.2 L435.0 244.6 L435.0 244.2 L435.0 243.9 L435.0 243.8 L435.0 244.0 L435.1 244.3 L435.1 244.8 L435.1 245.4 L435.1 246.1 L435.1 247.0 L435.1 247.9 L435.1 248.9 L435.1 250.0 L435.1 251.2 L435.1 252.3 L435.2 253.5 L435.2 254.6 L435.2 255.8 L435.2 256.9 L435.2 258.0 L435.2 259.1 L435.2 260.1 L435.2 261.0 L435.2 261.9 L435.2 262.7 L435.3 263.4 L435.3 264.1 L435.3 264.6 L435.3 265.0 L435.3 265.3 L435.3 265.5 L435.3 265.6 L435.3 265.6 L435.3 265.5 L435.3 265.4 L435.4 265.3 L435.4 265.1 L435.4 265.0 L435.4 264.9 L435.4 264.8 L435.4 264.7 L435.4 264.7 L435.4 264.6 L435.4 264.6 L435.4 264.5 L435.5 264.4 L435.5 264.2 L435.5 263.9 L435.5 263.5 L435.5 263.0 L435.5 262.4 L435.5 261.7 L435.5 260.9 L435.5 260.1 L435.6 259.3 L435.6 258.4 L435.6 257.6 L435.6 256.9 L435.6 256.2 L435.6 255.6 L435.6 255.1 L435.6 254.8 L435.6 254.6 L435.6 254.5 L435.7 254.6 L435.7 254.8 L435.7 255.2 L435.7 255.6 L435.7 256.1 L435.7 256.6 L435.7 257.1 L435.7 257.5 L435.7 257.9 L435.7 258.2 L435.8 258.3 L435.8 258.3 L435.8 258.1 L435.8 257.8 L435.8 257.4 L435.8 256.9 L435.8 256.3 L435.8 255.5 L435.8 254.8 L435.8 254.0 L435.9 253.3 L435.9 252.5 L435.9 251.8 L435.9 251.1 L435.9 250.5 L435.9 250.0 L435.9 249.6 L435.9 249.3 L435.9 249.1 L435.9 249.0 L436.0 249.1 L436.0 249.3 L436.0 249.6 L436.0 250.1 L436.0 250.7 L436.0 251.5 L436.0 252.2 L436.0 253.1 L436.0 254.0 L436.0 254.8 L436.1 255.6 L436.1 256.3 L436.1 256.8 L436.1 257.3 L436.1 257.6 L436.1 257.7 L436.1 257.7 L436.1 257.5 L436.1 257.3 L436.1 256.9 L436.2 256.6 L436.2 256.2 L436.2 255.8 L436.2 255.4 L436.2 255.1 L436.2 254.9 L436.2 254.8 L436.2 254.8 L436.2 254.9 L436.2 255.2 L436.3 255.5 L436.3 255.8 L436.3 256.2 L436.3 256.6 L436.3 256.9 L436.3 257.1 L436.3 257.2 L436.3 257.1 L436.3 256.7 L436.3 256.2 L436.4 255.5 L436.4 254.6 L436.4 253.6 L436.4 252.5 L436.4 251.4 L436.4 250.3 L436.4 249.2 L436.4 248.3 L436.4 247.5 L436.4 247.0 L436.5 246.6 L436.5 246.5 L436.5 246.6 L436.5 246.9 L436.5 247.5 L436.5 248.2 L436.5 249.0 L436.5 250.0 L436.5 251.1 L436.5 252.2 L436.6 253.4 L436.6 254.5 L436.6 255.5 L436.6 256.5 L436.6 257.3 L436.6 257.9 L436.6 258.3 L436.6 258.6 L436.6 258.6 L436.6 258.4 L436.7 258.1 L436.7 257.6 L436.7 257.0 L436.7 256.4 L436.7 255.8 L436.7 255.2 L436.7 254.7 L436.7 254.3 L436.7 254.1 L436.7 254.1 L436.8 254.3 L436.8 254.6 L436.8 255.1 L436.8 255.6 L436.8 256.2 L436.8 256.9 L436.8 257.4 L436.8 258.0 L436.8 258.4 L436.8 258.7 L436.9 258.9 L436.9 259.0 L436.9 259.1 L436.9 259.1 L436.9 259.1 L436.9 259.1 L436.9 259.2 L436.9 259.2 L436.9 259.4 L436.9 259.6 L437.0 259.8 L437.0 260.2 L437.0 260.6 L437.0 261.0 L437.0 261.6 L437.0 262.1 L437.0 262.8 L437.0 263.4 L437.0 264.1 L437.0 264.8 L437.0 265.6 L437.1 266.3 L437.1 267.0 L437.1 267.8 L437.1 268.5 L437.1 269.2 L437.1 269.9 L437.1 270.5 L437.1 271.2 L437.1 271.8 L437.1 272.4 L437.2 272.9 L437.2 273.3 L437.2 273.6 L437.2 273.7 L437.2 273.7 L437.2 273.5 L437.2 273.2 L437.2 272.6 L437.2 271.9 L437.2 271.1 L437.3 270.1 L437.3 269.2 L437.3 268.2 L437.3 267.2 L437.3 266.4 L437.3 265.6 L437.3 265.0 L437.3 264.5 L437.3 264.1 L437.3 263.8 L437.4 263.6 L437.4 263.5 L437.4 263.4 L437.4 263.3 L437.4 263.2 L437.4 263.1 L437.4 263.0 L437.4 262.8 L437.4 262.6 L437.4 262.3 L437.4 262.0 L437.5 261.5 L437.5 261.0 L437.5 260.4 L437.5 259.7 L437.5 258.9 L437.5 258.0 L437.5 257.0 L437.5 256.0 L437.5 254.9 L437.5 253.7 L437.6 252.5 L437.6 251.3 L437.6 250.0 L437.6 248.7 L437.6 247.5 L437.6 246.3 L437.6 245.1 L437.6 244.0 L437.6 243.0 L437.6 242.2 L437.7 241.5 L437.7 241.0 L437.7 240.7 L437.7 240.7 L437.7 240.8 L437.7 241.2 L437.7 241.8 L437.7 242.5 L437.7 243.3 L437.7 244.2 L437.7 245.1 L437.8 245.8 L437.8 246.5 L437.8 247.0 L437.8 247.2 L437.8 247.3 L437.8 247.2 L437.8 246.9 L437.8 246.6 L437.8 246.1 L437.8 245.6 L437.9 245.2 L437.9 244.8 L437.9 244.5 L437.9 244.4 L437.9 244.3 L437.9 244.3 L437.9 244.3 L437.9 244.3 L437.9 244.3 L437.9 244.3 L438.0 244.2 L438.0 244.0 L438.0 243.7 L438.0 243.4 L438.0 243.1 L438.0 242.8 L438.0 242.6 L438.0 242.4 L438.0 242.4 L438.0 242.6 L438.0 242.9 L438.1 243.4 L438.1 244.0 L438.1 244.7 L438.1 245.6 L438.1 246.5 L438.1 247.4 L438.1 248.2 L438.1 249.1 L438.1 249.8 L438.1 250.5 L438.2 251.0 L438.2 251.3 L438.2 251.6 L438.2 251.6 L438.2 251.6 L438.2 251.4 L438.2 251.1 L438.2 250.7 L438.2 250.3 L438.2 249.7 L438.2 249.2 L438.3 248.7 L438.3 248.2 L438.3 247.7 L438.3 247.4 L438.3 247.1 L438.3 247.0 L438.3 247.1 L438.3 247.3 L438.3 247.6 L438.3 248.1 L438.4 248.7 L438.4 249.3 L438.4 250.0 L438.4 250.7 L438.4 251.4 L438.4 252.1 L438.4 252.8 L438.4 253.5 L438.4 254.2 L438.4 254.9 L438.4 255.6 L438.5 256.3 L438.5 257.0 L438.5 257.8 L438.5 258.6 L438.5 259.3 L438.5 260.0 L438.5 260.6 L438.5 261.1 L438.5 261.5 L438.5 261.8 L438.6 261.9 L438.6 262.0 L438.6 261.9 L438.6 261.9 L438.6 261.8 L438.6 261.7 L438.6 261.7 L438.6 261.8 L438.6 261.9 L438.6 262.1 L438.6 262.4 L438.7 262.6 L438.7 262.9 L438.7 263.0 L438.7 263.0 L438.7 262.9 L438.7 262.7 L438.7 262.2 L438.7 261.7 L438.7 260.9 L438.7 260.1 L438.8 259.3 L438.8 258.4 L438.8 257.6 L438.8 256.9 L438.8 256.3 L438.8 255.9 L438.8 255.6 L438.8 255.4 L438.8 255.3 L438.8 255.2 L438.8 255.2 L438.9 255.2 L438.9 255.1 L438.9 255.0 L438.9 254.8 L438.9 254.4 L438.9 254.0 L438.9 253.5 L438.9 252.9 L438.9 252.3 L438.9 251.7 L438.9 251.2 L439.0 250.8 L439.0 250.5 L439.0 250.3 L439.0 250.3 L439.0 250.4 L439.0 250.7 L439.0 251.2 L439.0 251.7 L439.0 252.3 L439.0 253.0 L439.1 253.6 L439.1 254.2 L439.1 254.7 L439.1 255.1 L439.1 255.3 L439.1 255.4 L439.1 255.4 L439.1 255.2 L439.1 254.9 L439.1 254.4 L439.1 253.8 L439.2 253.1 L439.2 252.2 L439.2 251.3 L439.2 250.3 L439.2 249.2 L439.2 248.1 L439.2 247.1 L439.2 246.1 L439.2 245.3 L439.2 244.7 L439.2 244.4 L439.3 244.3 L439.3 244.6 L439.3 245.2 L439.3 246.2 L439.3 247.5 L439.3 249.0 L439.3 250.8 L439.3 252.7 L439.3 254.6 L439.3 256.6 L439.4 258.5 L439.4 260.2 L439.4 261.8 L439.4 263.2 L439.4 264.3 L439.4 265.2 L439.4 265.8 L439.4 266.2 L439.4 266.3 L439.4 266.2 L439.4 265.9 L439.5 265.5 L439.5 264.8 L439.5 264.1 L439.5 263.2 L439.5 262.2 L439.5 261.1 L439.5 260.0 L439.5 258.9 L439.5 257.8 L439.5 256.7 L439.5 255.6 L439.6 254.6 L439.6 253.6 L439.6 252.7 L439.6 251.8 L439.6 251.1 L439.6 250.4 L439.6 249.9 L439.6 249.5 L439.6 249.2 L439.6 249.0 L439.6 249.0 L439.7 249.1 L439.7 249.4 L439.7 249.8 L439.7 250.4 L439.7 251.2 L439.7 252.1 L439.7 253.0 L439.7 254.1 L439.7 255.2 L439.7 256.4 L439.7 257.5 L439.8 258.7 L439.8 259.7 L439.8 260.7 L439.8 261.5 L439.8 262.2 L439.8 262.7 L439.8 263.1 L439.8 263.4 L439.8 263.5 L439.8 263.4 L439.9 263.2 L439.9 262.9 L439.9 262.4 L439.9 261.8 L439.9 261.1 L439.9 260.2 L439.9 259.3 L439.9 258.2 L439.9 257.1 L439.9 255.9 L439.9 254.6 L440.0 253.4 L440.0 252.2 L440.0 251.0 L440.0 249.9 L440.0 249.0 L440.0 248.1 L440.0 247.3 L440.0 246.6 L440.0 246.0 L440.0 245.5 L440.0 245.0 L440.1 244.5 L440.1 244.0 L440.1 243.5 L440.1 243.0 L440.1 242.6 L440.1 242.2 L440.1 241.9 L440.1 241.7 L440.1 241.7 L440.1 241.8 L440.1 242.1 L440.2 242.4 L440.2 242.9 L440.2 243.4 L440.2 244.0 L440.2 244.6 L440.2 245.1 L440.2 245.6 L440.2 246.0 L440.2 246.4 L440.2 246.7 L440.2 247.0 L440.3 247.3 L440.3 247.6 L440.3 248.1 L440.3 248.7 L440.3 249.4 L440.3 250.4 L440.3 251.6 L440.3 252.9 L440.3 254.5 L440.3 256.1 L440.3 257.8 L440.4 259.5 L440.4 261.0 L440.4 262.4 L440.4 263.5 L440.4 264.3 L440.4 264.7 L440.4 264.9 L440.4 264.7 L440.4 264.2 L440.4 263.5 L440.4 262.6 L440.5 261.6 L440.5 260.6 L440.5 259.7 L440.5 258.8 L440.5 258.0 L440.5 257.4 L440.5 256.9 L440.5 256.5 L440.5 256.3 L440.5 256.2 L440.5 256.2 L440.6 256.3 L440.6 256.5 L440.6 256.7 L440.6 257.1 L440.6 257.5 L440.6 258.0 L440.6 258.6 L440.6 259.2 L440.6 259.9 L440.6 260.6 L440.6 261.3 L440.7 262.0 L440.7 262.6 L440.7 263.1 L440.7 263.5 L440.7 263.7 L440.7 263.8 L440.7 263.8 L440.7 263.5 L440.7 263.2 L440.7 262.6 L440.7 261.9 L440.8 261.1 L440.8 260.2 L440.8 259.2 L440.8 258.2 L440.8 257.1 L440.8 255.9 L440.8 254.8 L440.8 253.7 L440.8 252.5 L440.8 251.5 L440.8 250.4 L440.9 249.5 L440.9 248.6 L440.9 247.9 L440.9 247.3 L440.9 246.9 L440.9 246.7 L440.9 246.6 L440.9 246.9 L440.9 247.3 L440.9 248.1 L440.9 249.1 L440.9 250.3 L441.0 251.8 L441.0 253.4 L441.0 255.1 L441.0 256.9 L441.0 258.6 L441.0 260.2 L441.0 261.7 L441.0 262.9 L441.0 263.8 L441.0 264.4 L441.0 264.7 L441.1 264.7 L441.1 264.3 L441.1 263.7 L441.1 262.9 L441.1 262.0 L441.1 261.1 L441.1 260.1 L441.1 259.2 L441.1 258.4 L441.1 257.8 L441.1 257.4 L441.2 257.2 L441.2 257.1 L441.2 257.3 L441.2 257.6 L441.2 258.0 L441.2 258.6 L441.2 259.2 L441.2 259.9 L441.2 260.6 L441.2 261.4 L441.2 262.1 L441.3 262.8 L441.3 263.4 L441.3 264.0 L441.3 264.5 L441.3 264.9 L441.3 265.2 L441.3 265.5 L441.3 265.8 L441.3 265.9 L441.3 266.1 L441.3 266.3 L441.4 266.5 L441.4 266.7 L441.4 266.9 L441.4 267.2 L441.4 267.4 L441.4 267.6 L441.4 267.7 L441.4 267.8 L441.4 267.7 L441.4 267.5 L441.4 267.1 L441.4 266.6 L441.5 265.9 L441.5 265.1 L441.5 264.1 L441.5 263.0 L441.5 261.9 L441.5 260.8 L441.5 259.6 L441.5 258.5 L441.5 257.4 L441.5 256.4 L441.5 255.5 L441.6 254.7 L441.6 254.0 L441.6 253.3 L441.6 252.8 L441.6 252.4 L441.6 252.1 L441.6 251.9 L441.6 251.8 L441.6 251.7 L441.6 251.8 L441.6 252.0 L441.7 252.3 L441.7 252.6 L441.7 253.0 L441.7 253.4 L441.7 253.9 L441.7 254.3 L441.7 254.7 L441.7 254.9 L441.7 255.1 L441.7 255.1 L441.7 255.0 L441.7 254.7 L441.8 254.2 L441.8 253.6 L441.8 252.8 L441.8 252.0 L441.8 251.1 L441.8 250.2 L441.8 249.3 L441.8 248.5 L441.8 247.8 L441.8 247.2 L441.8 246.8 L441.9 246.6 L441.9 246.6 L441.9 246.8 L441.9 247.1 L441.9 247.6 L441.9 248.3 L441.9 249.0 L441.9 249.8 L441.9 250.7 L441.9 251.6 L441.9 252.5 L442.0 253.4 L442.0 254.2 L442.0 255.1 L442.0 255.9 L442.0 256.7 L442.0 257.5 L442.0 258.4 L442.0 259.2 L442.0 260.0 L442.0 260.8 L442.0 261.5 L442.0 262.3 L442.1 262.9 L442.1 263.5 L442.1 264.1 L442.1 264.5 L442.1 264.9 L442.1 265.1 L442.1 265.3 L442.1 265.4 L442.1 265.4 L442.1 265.3 L442.1 265.1 L442.2 264.8 L442.2 264.4 L442.2 264.0 L442.2 263.5 L442.2 262.8 L442.2 262.2 L442.2 261.4 L442.2 260.6 L442.2 259.8 L442.2 258.9 L442.2 258.0 L442.2 257.1 L442.3 256.1 L442.3 255.2 L442.3 254.3 L442.3 253.4 L442.3 252.5 L442.3 251.7 L442.3 251.1 L442.3 250.5 L442.3 250.1 L442.3 249.8 L442.3 249.8 L442.4 249.8 L442.4 250.1 L442.4 250.5 L442.4 251.0 L442.4 251.7 L442.4 252.3 L442.4 253.0 L442.4 253.6 L442.4 254.2 L442.4 254.6 L442.4 254.9 L442.4 255.0 L442.5 254.9 L442.5 254.7 L442.5 254.5 L442.5 254.1 L442.5 253.7 L442.5 253.3 L442.5 252.9 L442.5 252.6 L442.5 252.5 L442.5 252.5 L442.5 252.6 L442.6 252.9 L442.6 253.3 L442.6 253.9 L442.6 254.5 L442.6 255.2 L442.6 255.9 L442.6 256.7 L442.6 257.4 L442.6 258.1 L442.6 258.8 L442.6 259.4 L442.6 260.0 L442.7 260.6 L442.7 261.1 L442.7 261.6 L442.7 262.1 L442.7 262.5 L442.7 262.9 L442.7 263.2 L442.7 263.5 L442.7 263.8 L442.7 264.0 L442.7 264.2 L442.7 264.2 L442.8 264.2 L442.8 264.0 L442.8 263.7 L442.8 263.3 L442.8 262.7 L442.8 262.0 L442.8 261.1 L442.8 260.2 L442.8 259.1 L442.8 258.0 L442.8 256.8 L442.9 255.6 L442.9 254.5 L442.9 253.4 L442.9 252.4 L442.9 251.5 L442.9 250.7 L442.9 250.0 L442.9 249.4 L442.9 248.9 L442.9 248.5 L442.9 248.2 L442.9 248.0 L443.0 247.7 L443.0 247.5 L443.0 247.3 L443.0 247.0 L443.0 246.7 L443.0 246.4 L443.0 246.1 L443.0 245.8 L443.0 245.6 L443.0 245.4 L443.0 245.2 L443.0 245.2 L443.1 245.2 L443.1 245.3 L443.1 245.5 L443.1 245.8 L443.1 246.1 L443.1 246.5 L443.1 246.9 L443.1 247.3 L443.1 247.7 L443.1 248.2 L443.1 248.7 L443.2 249.1 L443.2 249.6 L443.2 250.2 L443.2 250.7 L443.2 251.3 L443.2 251.8 L443.2 252.4 L443.2 253.0 L443.2 253.5 L443.2 254.0 L443.2 254.5 L443.2 254.9 L443.3 255.3 L443.3 255.6 L443.3 255.8 L443.3 256.0 L443.3 256.1 L443.3 256.1 L443.3 256.0 L443.3 255.9 L443.3 255.7 L443.3 255.6 L443.3 255.4 L443.3 255.3 L443.4 255.3 L443.4 255.3 L443.4 255.4 L443.4 255.5 L443.4 255.8 L443.4 256.0 L443.4 256.3 L443.4 256.6 L443.4 256.8 L443.4 257.0 L443.4 257.2 L443.4 257.4 L443.5 257.5 L443.5 257.7 L443.5 257.9 L443.5 258.2 L443.5 258.6 L443.5 259.1 L443.5 259.8 L443.5 260.6 L443.5 261.6 L443.5 262.6 L443.5 263.7 L443.5 264.9 L443.6 266.0 L443.6 267.1 L443.6 268.1 L443.6 269.0 L443.6 269.7 L443.6 270.3 L443.6 270.7 L443.6 271.0 L443.6 271.0 L443.6 270.9 L443.6 270.5 L443.7 269.9 L443.7 269.1 L443.7 268.0 L443.7 266.8 L443.7 265.3 L443.7 263.7 L443.7 262.0 L443.7 260.2 L443.7 258.4 L443.7 256.6 L443.7 254.9 L443.7 253.4 L443.8 252.1 L443.8 251.1 L443.8 250.3 L443.8 249.9 L443.8 249.7 L443.8 249.8 L443.8 250.2 L443.8 250.7 L443.8 251.3 L443.8 251.9 L443.8 252.5 L443.8 252.9 L443.9 253.2 L443.9 253.3 L443.9 253.1 L443.9 252.7 L443.9 252.0 L443.9 251.3 L443.9 250.4 L443.9 249.5 L443.9 248.6 L443.9 247.9 L443.9 247.4 L443.9 247.1 L444.0 247.2 L444.0 247.5 L444.0 248.1 L444.0 249.0 L444.0 250.1 L444.0 251.3 L444.0 252.7 L444.0 254.0 L444.0 255.3 L444.0 256.5 L444.0 257.5 L444.0 258.3 L444.1 258.9 L444.1 259.3 L444.1 259.4 L444.1 259.3 L444.1 259.0 L444.1 258.5 L444.1 257.9 L444.1 257.2 L444.1 256.3 L444.1 255.4 L444.1 254.4 L444.1 253.3 L444.2 252.2 L444.2 251.1 L444.2 250.0 L444.2 249.0 L444.2 247.9 L444.2 246.9 L444.2 245.9 L444.2 245.0 L444.2 244.3 L444.2 243.6 L444.2 243.0 L444.2 242.6 L444.3 242.3 L444.3 242.1 L444.3 242.1 L444.3 242.2 L444.3 242.4 L444.3 242.7 L444.3 243.0 L444.3 243.5 L444.3 244.0 L444.3 244.6 L444.3 245.2 L444.3 245.9 L444.4 246.7 L444.4 247.5 L444.4 248.4 L444.4 249.2 L444.4 250.1 L444.4 251.0 L444.4 251.8 L444.4 252.5 L444.4 253.1 L444.4 253.5 L444.4 253.7 L444.4 253.7 L444.5 253.5 L444.5 253.1 L444.5 252.5 L444.5 251.8 L444.5 251.1 L444.5 250.4 L444.5 249.7 L444.5 249.1 L444.5 248.6 L444.5 248.3 L444.5 248.2 L444.5 248.2 L444.6 248.4 L444.6 248.7 L444.6 249.0 L444.6 249.3 L444.6 249.6 L444.6 249.8 L444.6 249.9 L444.6 249.9 L444.6 249.7 L444.6 249.3 L444.6 248.9 L444.6 248.3 L444.6 247.8 L444.7 247.2 L444.7 246.7 L444.7 246.3 L444.7 246.1 L444.7 246.1 L444.7 246.3 L444.7 246.7 L444.7 247.3 L444.7 248.0 L444.7 248.9 L444.7 249.9 L444.7 250.9 L444.8 251.9 L444.8 252.8 L444.8 253.6 L444.8 254.3 L444.8 254.8 L444.8 255.1 L444.8 255.3 L444.8 255.3 L444.8 255.3 L444.8 255.2 L444.8 255.0 L444.8 254.9 L444.9 254.8 L444.9 254.7 L444.9 254.7 L444.9 254.8 L444.9 255.0 L444.9 255.2 L444.9 255.5 L444.9 255.9 L444.9 256.4 L444.9 256.9 L444.9 257.4 L444.9 257.9 L445.0 258.4 L445.0 258.8 L445.0 259.2 L445.0 259.5 L445.0 259.7 L445.0 259.8 L445.0 259.9 L445.0 259.8 L445.0 259.7 L445.0 259.6 L445.0 259.4 L445.0 259.3 L445.1 259.1 L445.1 259.0 L445.1 259.0 L445.1 259.0 L445.1 259.0 L445.1 259.1 L445.1 259.2 L445.1 259.3 L445.1 259.4 L445.1 259.4 L445.1 259.4 L445.1 259.4 L445.1 259.3 L445.2 259.2 L445.2 259.1 L445.2 258.9 L445.2 258.6 L445.2 258.4 L445.2 258.1 L445.2 257.8 L445.2 257.4 L445.2 257.1 L445.2 256.8 L445.2 256.5 L445.2 256.2 L445.3 256.0 L445.3 255.9 L445.3 255.9 L445.3 256.0 L445.3 256.2 L445.3 256.5 L445.3 257.0 L445.3 257.6 L445.3 258.2 L445.3 258.8 L445.3 259.5 L445.3 260.0 L445.4 260.5 L445.4 260.8 L445.4 260.9 L445.4 260.7 L445.4 260.3 L445.4 259.6 L445.4 258.7 L445.4 257.5 L445.4 256.1 L445.4 254.5 L445.4 252.8 L445.4 250.9 L445.4 249.0 L445.5 247.2 L445.5 245.4 L445.5 243.7 L445.5 242.1 L445.5 240.7 L445.5 239.5 L445.5 238.4 L445.5 237.5 L445.5 236.8 L445.5 236.2 L445.5 235.7 L445.5 235.3 L445.6 235.0 L445.6 234.8 L445.6 234.7 L445.6 234.6 L445.6 234.7 L445.6 234.9 L445.6 235.2 L445.6 235.8 L445.6 236.4 L445.6 237.3 L445.6 238.3 L445.6 239.5 L445.7 240.9 L445.7 242.3 L445.7 243.8 L445.7 245.3 L445.7 246.7 L445.7 248.1 L445.7 249.3 L445.7 250.4 L445.7 251.3 L445.7 252.0 L445.7 252.5 L445.7 252.9 L445.7 253.0 L445.8 253.0 L445.8 252.8 L445.8 252.5 L445.8 252.1 L445.8 251.6 L445.8 251.1 L445.8 250.5 L445.8 249.9 L445.8 249.3 L445.8 248.6 L445.8 247.9 L445.8 247.2 L445.9 246.4 L445.9 245.7 L445.9 244.9 L445.9 244.1 L445.9 243.4 L445.9 242.8 L445.9 242.4 L445.9 242.1 L445.9 242.1 L445.9 242.3 L445.9 242.8 L445.9 243.5 L445.9 244.5 L446.0 245.7 L446.0 247.2 L446.0 248.7 L446.0 250.4 L446.0 252.0 L446.0 253.6 L446.0 255.1 L446.0 256.4 L446.0 257.4 L446.0 258.1 L446.0 258.6 L446.0 258.6 L446.1 258.4 L446.1 257.7 L446.1 256.7 L446.1 255.3 L446.1 253.7 L446.1 251.8 L446.1 249.8 L446.1 247.7 L446.1 245.5 L446.1 243.5 L446.1 241.5 L446.1 239.9 L446.1 238.5 L446.2 237.5 L446.2 236.9 L446.2 236.6 L446.2 236.8 L446.2 237.4 L446.2 238.4 L446.2 239.6 L446.2 241.0 L446.2 242.6 L446.2 244.3 L446.2 246.0 L446.2 247.6 L446.2 249.1 L446.3 250.4 L446.3 251.6 L446.3 252.6 L446.3 253.5 L446.3 254.2 L446.3 254.8 L446.3 255.3 L446.3 255.7 L446.3 256.1 L446.3 256.3 L446.3 256.6 L446.3 256.7 L446.4 256.8 L446.4 256.8 L446.4 256.8 L446.4 256.7 L446.4 256.5 L446.4 256.3 L446.4 256.0 L446.4 255.7 L446.4 255.4 L446.4 255.1 L446.4 254.8 L446.4 254.6 L446.4 254.4 L446.5 254.3 L446.5 254.2 L446.5 254.2 L446.5 254.3 L446.5 254.3 L446.5 254.5 L446.5 254.6 L446.5 254.7 L446.5 254.8 L446.5 254.9 L446.5 254.9 L446.5 254.8 L446.5 254.6 L446.6 254.2 L446.6 253.8 L446.6 253.1 L446.6 252.4 L446.6 251.5 L446.6 250.6 L446.6 249.5 L446.6 248.5 L446.6 247.4 L446.6 246.4 L446.6 245.5 L446.6 244.7 L446.7 244.0 L446.7 243.5 L446.7 243.2 L446.7 243.1 L446.7 243.2 L446.7 243.4 L446.7 243.8 L446.7 244.3 L446.7 244.9 L446.7 245.6 L446.7 246.4 L446.7 247.2 L446.7 248.1 L446.8 249.0 L446.8 249.8 L446.8 250.7 L446.8 251.6 L446.8 252.5 L446.8 253.4 L446.8 254.2 L446.8 255.0 L446.8 255.8 L446.8 256.6 L446.8 257.2 L446.8 257.8 L446.8 258.4 L446.9 258.8 L446.9 259.0 L446.9 259.2 L446.9 259.2 L446.9 259.1 L446.9 258.9 L446.9 258.7 L446.9 258.4 L446.9 258.2 L446.9 258.0 L446.9 257.8 L446.9 257.7 L446.9 257.7 L447.0 257.8 L447.0 258.0 L447.0 258.2 L447.0 258.4 L447.0 258.7 L447.0 258.9 L447.0 259.1 L447.0 259.3 L447.0 259.4 L447.0 259.4 L447.0 259.4 L447.0 259.3 L447.1 259.1 L447.1 258.9 L447.1 258.7 L447.1 258.4 L447.1 258.0 L447.1 257.6 L447.1 257.2 L447.1 256.7 L447.1 256.2 L447.1 255.7 L447.1 255.2 L447.1 254.7 L447.1 254.3 L447.2 254.0 L447.2 253.8 L447.2 253.8 L447.2 253.9 L447.2 254.1 L447.2 254.5 L447.2 255.0 L447.2 255.6 L447.2 256.2 L447.2 256.8 L447.2 257.4 L447.2 257.9 L447.2 258.2 L447.3 258.4 L447.3 258.4 L447.3 258.1 L447.3 257.6 L447.3 256.9 L447.3 256.0 L447.3 254.9 L447.3 253.7 L447.3 252.5 L447.3 251.3 L447.3 250.1 L447.3 249.1 L447.3 248.2 L447.4 247.5 L447.4 247.1 L447.4 246.9 L447.4 247.0 L447.4 247.3 L447.4 247.7 L447.4 248.3 L447.4 249.0 L447.4 249.7 L447.4 250.4 L447.4 251.1 L447.4 251.7 L447.4 252.1 L447.5 252.4 L447.5 252.6 L447.5 252.6 L447.5 252.5 L447.5 252.4 L447.5 252.2 L447.5 252.0 L447.5 251.8 L447.5 251.7 L447.5 251.6 L447.5 251.7 L447.5 251.9 L447.5 252.3 L447.6 252.7 L447.6 253.3 L447.6 253.9 L447.6 254.5 L447.6 255.2 L447.6 255.9 L447.6 256.5 L447.6 257.1 L447.6 257.6 L447.6 258.0 L447.6 258.3 L447.6 258.5 L447.6 258.6 L447.7 258.6 L447.7 258.5 L447.7 258.3 L447.7 258.1 L447.7 257.8 L447.7 257.4 L447.7 257.0 L447.7 256.6 L447.7 256.2 L447.7 255.7 L447.7 255.2 L447.7 254.8 L447.7 254.3 L447.8 253.9 L447.8 253.4 L447.8 252.9 L447.8 252.4 L447.8 251.8 L447.8 251.3 L447.8 250.7 L447.8 250.0 L447.8 249.4 L447.8 248.8 L447.8 248.2 L447.8 247.7 L447.8 247.2 L447.9 246.9 L447.9 246.8 L447.9 246.8 L447.9 246.9 L447.9 247.2 L447.9 247.7 L447.9 248.3 L447.9 249.0 L447.9 249.7 L447.9 250.5 L447.9 251.3 L447.9 252.1 L447.9 252.8 L448.0 253.5 L448.0 254.1 L448.0 254.6 L448.0 255.0 L448.0 255.4 L448.0 255.7 L448.0 256.0 L448.0 256.3 L448.0 256.6 L448.0 257.0 L448.0 257.4 L448.0 257.9 L448.0 258.3 L448.1 258.9 L448.1 259.4 L448.1 259.9 L448.1 260.4 L448.1 260.8 L448.1 261.2 L448.1 261.5 L448.1 261.7 L448.1 261.8 L448.1 261.8 L448.1 261.8 L448.1 261.7 L448.1 261.6 L448.1 261.3 L448.2 261.1 L448.2 260.7 L448.2 260.3 L448.2 259.9 L448.2 259.4 L448.2 258.8 L448.2 258.3 L448.2 257.7 L448.2 257.2 L448.2 256.8 L448.2 256.4 L448.2 256.2 L448.2 256.1 L448.3 256.2 L448.3 256.5 L448.3 256.9 L448.3 257.5 L448.3 258.1 L448.3 258.8 L448.3 259.5 L448.3 260.2 L448.3 260.8 L448.3 261.2 L448.3 261.5 L448.3 261.7 L448.3 261.6 L448.4 261.4 L448.4 261.1 L448.4 260.7 L448.4 260.2 L448.4 259.7 L448.4 259.2 L448.4 258.9 L448.4 258.6 L448.4 258.4 L448.4 258.4 L448.4 258.5 L448.4 258.8 L448.4 259.2 L448.5 259.7 L448.5 260.2 L448.5 260.8 L448.5 261.4 L448.5 261.9 L448.5 262.3 L448.5 262.7 L448.5 262.9 L448.5 263.0 L448.5 263.0 L448.5 262.9 L448.5 262.7 L448.5 262.5 L448.5 262.2 L448.6 261.8 L448.6 261.4 L448.6 261.0 L448.6 260.6 L448.6 260.1 L448.6 259.6 L448.6 259.1 L448.6 258.5 L448.6 257.9 L448.6 257.4 L448.6 256.8 L448.6 256.2 L448.6 255.7 L448.7 255.3 L448.7 254.9 L448.7 254.6 L448.7 254.3 L448.7 254.1 L448.7 253.9 L448.7 253.7 L448.7 253.5 L448.7 253.3 L448.7 253.0 L448.7 252.6 L448.7 252.2 L448.7 251.7 L448.8 251.1 L448.8 250.5 L448.8 250.0 L448.8 249.5 L448.8 249.0 L448.8 248.7 L448.8 248.5 L448.8 248.4 L448.8 248.5 L448.8 248.7 L448.8 249.0 L448.8 249.5 L448.8 250.0 L448.8 250.6 L448.9 251.2 L448.9 251.9 L448.9 252.6 L448.9 253.2 L448.9 253.8 L448.9 254.3 L448.9 254.8 L448.9 255.2 L448.9 255.6 L448.9 255.9 L448.9 256.2 L448.9 256.6 L448.9 256.9 L449.0 257.3 L449.0 257.7 L449.0 258.1 L449.0 258.5 L449.0 258.9 L449.0 259.3 L449.0 259.7 L449.0 260.0 L449.0 260.2 L449.0 260.4 L449.0 260.5 L449.0 260.5 L449.0 260.5 L449.1 260.4 L449.1 260.3 L449.1 260.0 L449.1 259.8 L449.1 259.4 L449.1 259.0 L449.1 258.5 L449.1 258.0 L449.1 257.3 L449.1 256.5 L449.1 255.7 L449.1 254.8 L449.1 253.8 L449.1 252.8 L449.2 251.8 L449.2 250.8 L449.2 249.9 L449.2 249.1 L449.2 248.3 L449.2 247.8 L449.2 247.4 L449.2 247.1 L449.2 247.1 L449.2 247.2 L449.2 247.5 L449.2 247.9 L449.2 248.3 L449.3 248.8 L449.3 249.3 L449.3 249.8 L449.3 250.1 L449.3 250.3 L449.3 250.3 L449.3 250.1 L449.3 249.7 L449.3 249.2 L449.3 248.5 L449.3 247.6 L449.3 246.7 L449.3 245.7 L449.3 244.8 L449.4 244.0 L449.4 243.4 L449.4 243.0 L449.4 243.0 L449.4 243.3 L449.4 243.9 L449.4 244.9 L449.4 246.3 L449.4 247.9 L449.4 249.8 L449.4 251.8 L449.4 253.8 L449.4 255.8 L449.4 257.7 L449.5 259.4 L449.5 260.7 L449.5 261.7 L449.5 262.3 L449.5 262.5 L449.5 262.3 L449.5 261.6 L449.5 260.6 L449.5 259.3 L449.5 257.7 L449.5 255.9 L449.5 254.0 L449.5 252.0 L449.6 250.0 L449.6 248.1 L449.6 246.3 L449.6 244.7 L449.6 243.3 L449.6 242.1 L449.6 241.1 L449.6 240.3 L449.6 239.8 L449.6 239.5 L449.6 239.4 L449.6 239.6 L449.6 239.9 L449.6 240.5 L449.7 241.2 L449.7 242.1 L449.7 243.1 L449.7 244.2 L449.7 245.4 L449.7 246.8 L449.7 248.1 L449.7 249.5 L449.7 250.9 L449.7 252.2 L449.7 253.5 L449.7 254.7 L449.7 255.7 L449.8 256.7 L449.8 257.4 L449.8 257.9 L449.8 258.3 L449.8 258.4 L449.8 258.3 L449.8 258.0 L449.8 257.6 L449.8 257.0 L449.8 256.3 L449.8 255.6 L449.8 254.8 L449.8 254.1 L449.8 253.5 L449.9 253.0 L449.9 252.7 L449.9 252.4 L449.9 252.3 L449.9 252.2 L449.9 252.3 L449.9 252.3 L449.9 252.4 L449.9 252.6 L449.9 252.7 L449.9 252.7 L449.9 252.8 L449.9 252.8 L449.9 252.8 L450.0 252.8 L450.0 252.7 L450.0 252.7 L450.0 252.6 L450.0 252.6 L450.0 252.5 L450.0 252.6 L450.0 252.7 L450.0 252.8 L450.0 253.1 L450.0 253.5 L450.0 254.0 L450.0 254.7 L450.0 255.5 L450.1 256.4 L450.1 257.5 L450.1 258.6 L450.1 259.9 L450.1 261.2 L450.1 262.4 L450.1 263.7 L450.1 264.9 L450.1 266.0 L450.1 267.0 L450.1 267.8 L450.1 268.5 L450.1 269.0 L450.2 269.2 L450.2 269.3 L450.2 269.2 L450.2 268.9 L450.2 268.3 L450.2 267.6 L450.2 266.7 L450.2 265.7 L450.2 264.5 L450.2 263.2 L450.2 261.8 L450.2 260.4 L450.2 258.9 L450.2 257.5 L450.3 256.1 L450.3 254.8 L450.3 253.6 L450.3 252.5 L450.3 251.6 L450.3 250.7 L450.3 250.0 L450.3 249.4 L450.3 248.8 L450.3 248.4 L450.3 248.0 L450.3 247.7 L450.3 247.4 L450.3 247.2 L450.4 247.1 L450.4 247.0 L450.4 247.0 L450.4 247.1 L450.4 247.3 L450.4 247.6 L450.4 247.9 L450.4 248.3 L450.4 248.8 L450.4 249.3 L450.4 249.7 L450.4 250.1 L450.4 250.5 L450.4 250.7 L450.5 250.9 L450.5 250.9 L450.5 250.8 L450.5 250.6 L450.5 250.3 L450.5 250.0 L450.5 249.6 L450.5 249.2 L450.5 248.9 L450.5 248.7 L450.5 248.5 L450.5 248.5 L450.5 248.6 L450.5 248.9 L450.6 249.3 L450.6 249.8 L450.6 250.3 L450.6 250.9 L450.6 251.5 L450.6 252.1 L450.6 252.7 L450.6 253.1 L450.6 253.4 L450.6 253.7 L450.6 253.8 L450.6 253.8 L450.6 253.8 L450.6 253.6 L450.7 253.5 L450.7 253.3 L450.7 253.2 L450.7 253.1 L450.7 253.1 L450.7 253.2 L450.7 253.3 L450.7 253.4 L450.7 253.6 L450.7 253.8 L450.7 254.1 L450.7 254.2 L450.7 254.4 L450.7 254.5 L450.8 254.5 L450.8 254.4 L450.8 254.3 L450.8 254.2 L450.8 254.0 L450.8 254.0 L450.8 254.0 L450.8 254.1 L450.8 254.4 L450.8 254.9 L450.8 255.6 L450.8 256.5 L450.8 257.5 L450.8 258.8 L450.9 260.1 L450.9 261.6 L450.9 263.1 L450.9 264.5 L450.9 265.9 L450.9 267.1 L450.9 268.2 L450.9 269.0 L450.9 269.5 L450.9 269.7 L450.9 269.6 L450.9 269.1 L450.9 268.2 L450.9 267.0 L451.0 265.6 L451.0 263.9 L451.0 262.0 L451.0 260.1 L451.0 258.1 L451.0 256.3 L451.0 254.5 L451.0 253.1 L451.0 251.9 L451.0 251.0 L451.0 250.5 L451.0 250.2 L451.0 250.3 L451.0 250.5 L451.1 250.9 L451.1 251.4 L451.1 251.9 L451.1 252.3 L451.1 252.6 L451.1 252.8 L451.1 252.7 L451.1 252.5 L451.1 252.1 L451.1 251.6 L451.1 250.9 L451.1 250.2 L451.1 249.4 L451.1 248.7 L451.2 247.9 L451.2 247.3 L451.2 246.7 L451.2 246.2 L451.2 245.9 L451.2 245.6 L451.2 245.5 L451.2 245.6 L451.2 245.8 L451.2 246.3 L451.2 246.8 L451.2 247.6 L451.2 248.5 L451.2 249.6 L451.3 250.8 L451.3 252.0 L451.3 253.3 L451.3 254.5 L451.3 255.7 L451.3 256.8 L451.3 257.7 L451.3 258.5 L451.3 259.0 L451.3 259.3 L451.3 259.4 L451.3 259.2 L451.3 259.0 L451.3 258.5 L451.4 258.0 L451.4 257.5 L451.4 256.9 L451.4 256.4 L451.4 255.9 L451.4 255.6 L451.4 255.3 L451.4 255.2 L451.4 255.2 L451.4 255.2 L451.4 255.4 L451.4 255.5 L451.4 255.8 L451.4 256.1 L451.4 256.4 L451.5 256.8 L451.5 257.2 L451.5 257.7 L451.5 258.2 L451.5 258.9 L451.5 259.6 L451.5 260.5 L451.5 261.4 L451.5 262.3 L451.5 263.3 L451.5 264.2 L451.5 265.0 L451.5 265.8 L451.5 266.4 L451.6 266.9 L451.6 267.2 L451.6 267.3 L451.6 267.3 L451.6 267.1 L451.6 266.7 L451.6 266.3 L451.6 265.8 L451.6 265.3 L451.6 264.8 L451.6 264.3 L451.6 263.9 L451.6 263.5 L451.6 263.2 L451.7 262.9 L451.7 262.7 L451.7 262.5 L451.7 262.3 L451.7 262.2 L451.7 262.0 L451.7 261.7 L451.7 261.4 L451.7 261.0 L451.7 260.5 L451.7 259.9 L451.7 259.2 L451.7 258.5 L451.7 257.7 L451.8 256.9 L451.8 256.2 L451.8 255.5 L451.8 255.0 L451.8 254.6 L451.8 254.4 L451.8 254.4 L451.8 254.6 L451.8 255.0 L451.8 255.5 L451.8 256.2 L451.8 256.8 L451.8 257.5 L451.8 258.0 L451.8 258.4 L451.9 258.7 L451.9 258.7 L451.9 258.6 L451.9 258.2 L451.9 257.7 L451.9 257.0 L451.9 256.3 L451.9 255.6 L451.9 254.9 L451.9 254.3 L451.9 253.9 L451.9 253.7 L451.9 253.7 L451.9 253.9 L452.0 254.3 L452.0 254.9 L452.0 255.6 L452.0 256.3 L452.0 257.1 L452.0 257.9 L452.0 258.6 L452.0 259.3 L452.0 259.9 L452.0 260.3 L452.0 260.8 L452.0 261.1 L452.0 261.4 L452.0 261.6 L452.0 261.8 L452.1 262.0 L452.1 262.2 L452.1 262.5 L452.1 262.7 L452.1 262.9 L452.1 263.1 L452.1 263.3 L452.1 263.3 L452.1 263.3 L452.1 263.1 L452.1 262.7 L452.1 262.2 L452.1 261.5 L452.1 260.6 L452.2 259.6 L452.2 258.6 L452.2 257.4 L452.2 256.3 L452.2 255.2 L452.2 254.2 L452.2 253.3 L452.2 252.6 L452.2 252.0 L452.2 251.7 L452.2 251.5 L452.2 251.4 L452.2 251.4 L452.2 251.5 L452.3 251.6 L452.3 251.8 L452.3 251.9 L452.3 252.1 L452.3 252.4 L452.3 252.6 L452.3 253.0 L452.3 253.4 L452.3 254.0 L452.3 254.6 L452.3 255.2 L452.3 255.9 L452.3 256.6 L452.3 257.1 L452.3 257.5 L452.4 257.7 L452.4 257.7 L452.4 257.4 L452.4 256.8 L452.4 256.1 L452.4 255.1 L452.4 254.1 L452.4 253.0 L452.4 251.9 L452.4 250.9 L452.4 250.1 L452.4 249.4 L452.4 249.0 L452.4 248.9 L452.4 249.0 L452.5 249.4 L452.5 250.0 L452.5 250.8 L452.5 251.9 L452.5 253.1 L452.5 254.4 L452.5 255.8 L452.5 257.2 L452.5 258.7 L452.5 260.0 L452.5 261.3 L452.5 262.4 L452.5 263.4 L452.5 264.1 L452.6 264.7 L452.6 265.0 L452.6 265.0 L452.6 264.9 L452.6 264.5 L452.6 264.0 L452.6 263.3 L452.6 262.4 L452.6 261.5 L452.6 260.4 L452.6 259.3 L452.6 258.1 L452.6 256.9 L452.6 255.7 L452.6 254.6 L452.7 253.5 L452.7 252.5 L452.7 251.7 L452.7 250.9 L452.7 250.3 L452.7 249.9 L452.7 249.6 L452.7 249.5 L452.7 249.5 L452.7 249.7 L452.7 250.0 L452.7 250.5 L452.7 251.0 L452.7 251.7 L452.8 252.3 L452.8 253.0 L452.8 253.7 L452.8 254.3 L452.8 254.8 L452.8 255.2 L452.8 255.4 L452.8 255.5 L452.8 255.4 L452.8 255.0 L452.8 254.5 L452.8 253.8 L452.8 253.0 L452.8 252.0 L452.8 251.1 L452.9 250.2 L452.9 249.3 L452.9 248.7 L452.9 248.2 L452.9 248.0 L452.9 248.2 L452.9 248.6 L452.9 249.4 L452.9 250.4 L452.9 251.8 L452.9 253.3 L452.9 255.0 L452.9 256.7 L452.9 258.5 L452.9 260.2 L453.0 261.7 L453.0 263.1 L453.0 264.1 L453.0 264.9 L453.0 265.4 L453.0 265.5 L453.0 265.3 L453.0 264.8 L453.0 264.1 L453.0 263.1 L453.0 262.0 L453.0 260.8 L453.0 259.6 L453.0 258.3 L453.0 257.1 L453.1 255.9 L453.1 254.9 L453.1 254.0 L453.1 253.2 L453.1 252.7 L453.1 252.3 L453.1 252.1 L453.1 252.1 L453.1 252.3 L453.1 252.7 L453.1 253.2 L453.1 253.8 L453.1 254.4 L453.1 255.2 L453.2 255.9 L453.2 256.7 L453.2 257.4 L453.2 258.0 L453.2 258.5 L453.2 259.0 L453.2 259.3 L453.2 259.5 L453.2 259.5 L453.2 259.4 L453.2 259.2 L453.2 258.8 L453.2 258.4 L453.2 257.9 L453.2 257.3 L453.3 256.7 L453.3 256.1 L453.3 255.6 L453.3 255.1 L453.3 254.7 L453.3 254.3 L453.3 254.1 L453.3 253.8 L453.3 253.6 L453.3 253.5 L453.3 253.3 L453.3 253.1 L453.3 252.9 L453.3 252.6 L453.3 252.2 L453.4 251.8 L453.4 251.3 L453.4 250.7 L453.4 250.2 L453.4 249.6 L453.4 249.1 L453.4 248.6 L453.4 248.3 L453.4 248.0 L453.4 247.9 L453.4 248.0 L453.4 248.3 L453.4 248.8 L453.4 249.4 L453.4 250.2 L453.5 251.2 L453.5 252.2 L453.5 253.3 L453.5 254.4 L453.5 255.5 L453.5 256.5 L453.5 257.4 L453.5 258.2 L453.5 258.7 L453.5 259.1 L453.5 259.3 L453.5 259.3 L453.5 259.1 L453.5 258.7 L453.5 258.2 L453.6 257.6 L453.6 256.8 L453.6 256.1 L453.6 255.3 L453.6 254.6 L453.6 253.9 L453.6 253.3 L453.6 252.9 L453.6 252.6 L453.6 252.4 L453.6 252.3 L453.6 252.4 L453.6 252.5 L453.6 252.7 L453.6 252.9 L453.7 253.0 L453.7 253.2 L453.7 253.2 L453.7 253.2 L453.7 253.0 L453.7 252.7 L453.7 252.3 L453.7 251.8 L453.7 251.2 L453.7 250.6 L453.7 249.9 L453.7 249.2 L453.7 248.6 L453.7 248.1 L453.7 247.6 L453.8 247.3 L453.8 247.2 L453.8 247.2 L453.8 247.4 L453.8 247.7 L453.8 248.1 L453.8 248.7 L453.8 249.3 L453.8 249.9 L453.8 250.4 L453.8 251.0 L453.8 251.4 L453.8 251.8 L453.8 252.1 L453.8 252.4 L453.9 252.6 L453.9 252.7 L453.9 252.8 L453.9 252.9 L453.9 253.1 L453.9 253.2 L453.9 253.4 L453.9 253.6 L453.9 253.7 L453.9 253.8 L453.9 253.9 L453.9 253.9 L453.9 253.9 L453.9 253.8 L453.9 253.6 L454.0 253.4 L454.0 253.1 L454.0 252.8 L454.0 252.6 L454.0 252.3 L454.0 252.0 L454.0 251.7 L454.0 251.5 L454.0 251.2 L454.0 250.8 L454.0 250.5 L454.0 250.0 L454.0 249.5 L454.0 249.0 L454.0 248.3 L454.1 247.6 L454.1 246.8 L454.1 245.9 L454.1 245.0 L454.1 244.1 L454.1 243.1 L454.1 242.2 L454.1 241.3 L454.1 240.4 L454.1 239.7 L454.1 239.1 L454.1 238.7 L454.1 238.4 L454.1 238.4 L454.1 238.6 L454.2 239.1 L454.2 239.8 L454.2 240.7 L454.2 241.8 L454.2 243.1 L454.2 244.4 L454.2 245.8 L454.2 247.3 L454.2 248.6 L454.2 249.9 L454.2 251.0 L454.2 251.9 L454.2 252.6 L454.2 252.9 L454.2 253.0 L454.3 252.9 L454.3 252.4 L454.3 251.8 L454.3 250.9 L454.3 249.9 L454.3 248.9 L454.3 247.8 L454.3 246.9 L454.3 246.0 L454.3 245.4 L454.3 244.9 L454.3 244.7 L454.3 244.7 L454.3 245.0 L454.3 245.4 L454.4 246.0 L454.4 246.6 L454.4 247.4 L454.4 248.2 L454.4 248.9 L454.4 249.7 L454.4 250.3 L454.4 250.9 L454.4 251.4 L454.4 251.7 L454.4 252.0 L454.4 252.2 L454.4 252.3 L454.4 252.3 L454.4 252.2 L454.4 252.0 L454.5 251.8 L454.5 251.6 L454.5 251.4 L454.5 251.3 L454.5 251.2 L454.5 251.3 L454.5 251.5 L454.5 252.0 L454.5 252.6 L454.5 253.4 L454.5 254.4 L454.5 255.5 L454.5 256.8 L454.5 258.2 L454.5 259.6 L454.6 260.9 L454.6 262.1 L454.6 263.2 L454.6 264.1 L454.6 264.8 L454.6 265.3 L454.6 265.5 L454.6 265.4 L454.6 265.2 L454.6 264.8 L454.6 264.3 L454.6 263.6 L454.6 262.9 L454.6 262.2 L454.6 261.5 L454.7 260.7 L454.7 260.0 L454.7 259.3 L454.7 258.6 L454.7 258.0 L454.7 257.4 L454.7 256.9 L454.7 256.5 L454.7 256.3 L454.7 256.1 L454.7 256.2 L454.7 256.5 L454.7 256.9 L454.7 257.6 L454.7 258.5 L454.7 259.4 L454.8 260.5 L454.8 261.5 L454.8 262.4 L454.8 263.2 L454.8 263.7 L454.8 264.0 L454.8 263.9 L454.8 263.4 L454.8 262.7 L454.8 261.6 L454.8 260.3 L454.8 258.8 L454.8 257.1 L454.8 255.4 L454.8 253.6 L454.9 252.0 L454.9 250.4 L454.9 249.0 L454.9 247.7 L454.9 246.6 L454.9 245.7 L454.9 245.0 L454.9 244.5 L454.9 244.1 L454.9 243.9 L454.9 243.8 L454.9 243.8 L454.9 244.0 L454.9 244.2 L454.9 244.5 L455.0 244.9 L455.0 245.3 L455.0 245.7 L455.0 246.2 L455.0 246.7 L455.0 247.2 L455.0 247.7 L455.0 248.3 L455.0 248.9 L455.0 249.5 L455.0 250.2 L455.0 250.9 L455.0 251.6 L455.0 252.4 L455.0 253.2 L455.0 253.9 L455.1 254.6 L455.1 255.2 L455.1 255.7 L455.1 256.1 L455.1 256.3 L455.1 256.4 L455.1 256.3 L455.1 256.1 L455.1 255.8 L455.1 255.3 L455.1 254.8 L455.1 254.1 L455.1 253.4 L455.1 252.7 L455.1 251.9 L455.2 251.2 L455.2 250.4 L455.2 249.7 L455.2 249.0 L455.2 248.4 L455.2 247.9 L455.2 247.4 L455.2 247.1 L455.2 246.8 L455.2 246.6 L455.2 246.6 L455.2 246.6 L455.2 246.7 L455.2 246.9 L455.2 247.1 L455.2 247.4 L455.3 247.8 L455.3 248.2 L455.3 248.7 L455.3 249.3 L455.3 249.9 L455.3 250.7 L455.3 251.5 L455.3 252.5 L455.3 253.6 L455.3 254.8 L455.3 256.1 L455.3 257.5 L455.3 258.8 L455.3 260.1 L455.3 261.3 L455.4 262.2 L455.4 263.0 L455.4 263.4 L455.4 263.5 L455.4 263.3 L455.4 262.8 L455.4 261.9 L455.4 260.7 L455.4 259.4 L455.4 257.9 L455.4 256.4 L455.4 254.9 L455.4 253.5 L455.4 252.3 L455.4 251.4 L455.4 250.8 L455.5 250.5 L455.5 250.6 L455.5 250.9 L455.5 251.6 L455.5 252.4 L455.5 253.4 L455.5 254.4 L455.5 255.5 L455.5 256.5 L455.5 257.4 L455.5 258.1 L455.5 258.6 L455.5 258.9 L455.5 259.0 L455.5 258.9 L455.5 258.6 L455.6 258.1 L455.6 257.4 L455.6 256.7 L455.6 255.8 L455.6 254.9 L455.6 254.0 L455.6 253.1 L455.6 252.2 L455.6 251.4 L455.6 250.6 L455.6 249.9 L455.6 249.2 L455.6 248.6 L455.6 248.2 L455.6 247.8 L455.7 247.5 L455.7 247.4 L455.7 247.3 L455.7 247.4 L455.7 247.5 L455.7 247.8 L455.7 248.2 L455.7 248.6 L455.7 249.0 L455.7 249.5 L455.7 250.0 L455.7 250.4 L455.7 250.8 L455.7 251.0 L455.7 251.1 L455.7 251.2 L455.8 251.0 L455.8 250.8 L455.8 250.5 L455.8 250.2 L455.8 249.8 L455.8 249.5 L455.8 249.2 L455.8 249.1 L455.8 249.2 L455.8 249.5 L455.8 250.2 L455.8 251.0 L455.8 252.2 L455.8 253.7 L455.8 255.5 L455.8 257.4 L455.9 259.6 L455.9 261.8 L455.9 264.2 L455.9 266.4 L455.9 268.7 L455.9 270.7 L455.9 272.5 L455.9 274.1 L455.9 275.3 L455.9 276.2 L455.9 276.7 L455.9 277.0 L455.9 276.9 L455.9 276.5 L455.9 275.9 L456.0 275.1 L456.0 274.1 L456.0 273.2 L456.0 272.2 L456.0 271.4 L456.0 270.7 L456.0 270.1 L456.0 269.8 L456.0 269.6 L456.0 269.7 L456.0 269.9 L456.0 270.3 L456.0 270.7 L456.0 271.1 L456.0 271.4 L456.0 271.5 L456.1 271.4 L456.1 271.0 L456.1 270.4 L456.1 269.5 L456.1 268.3 L456.1 267.0 L456.1 265.5 L456.1 263.9 L456.1 262.4 L456.1 260.9 L456.1 259.5 L456.1 258.3 L456.1 257.4 L456.1 256.7 L456.1 256.2 L456.1 256.0 L456.2 255.9 L456.2 256.1 L456.2 256.3 L456.2 256.7 L456.2 257.1 L456.2 257.6 L456.2 258.1 L456.2 258.6 L456.2 259.1 L456.2 259.5 L456.2 259.8 L456.2 260.1 L456.2 260.3 L456.2 260.5 L456.2 260.5 L456.2 260.4 L456.3 260.3 L456.3 260.1 L456.3 259.8 L456.3 259.5 L456.3 259.2 L456.3 258.9 L456.3 258.6 L456.3 258.4 L456.3 258.3 L456.3 258.3 L456.3 258.3 L456.3 258.5 L456.3 258.7 L456.3 259.0 L456.3 259.2 L456.3 259.5 L456.4 259.7 L456.4 259.8 L456.4 259.7 L456.4 259.6 L456.4 259.2 L456.4 258.7 L456.4 258.1 L456.4 257.4 L456.4 256.6 L456.4 255.7 L456.4 254.9 L456.4 254.2 L456.4 253.5 L456.4 253.0 L456.4 252.6 L456.4 252.3 L456.5 252.2 L456.5 252.1 L456.5 252.1 L456.5 252.1 L456.5 252.0 L456.5 252.0 L456.5 252.0 L456.5 251.9 L456.5 251.9 L456.5 251.9 L456.5 251.9 L456.5 252.1 L456.5 252.4 L456.5 252.8 L456.5 253.4 L456.5 254.0 L456.6 254.8 L456.6 255.6 L456.6 256.4 L456.6 257.3 L456.6 258.1 L456.6 258.9 L456.6 259.7 L456.6 260.3 L456.6 260.9 L456.6 261.5 L456.6 261.9 L456.6 262.2 L456.6 262.5 L456.6 262.6 L456.6 262.6 L456.6 262.5 L456.7 262.3 L456.7 262.1 L456.7 261.7 L456.7 261.2 L456.7 260.8 L456.7 260.3 L456.7 259.7 L456.7 259.2 L456.7 258.6 L456.7 258.0 L456.7 257.4 L456.7 256.8 L456.7 256.2 L456.7 255.5 L456.7 254.8 L456.7 254.1 L456.8 253.3 L456.8 252.6 L456.8 252.0 L456.8 251.4 L456.8 250.8 L456.8 250.4 L456.8 250.0 L456.8 249.8 L456.8 249.6 L456.8 249.6 L456.8 249.6 L456.8 249.6 L456.8 249.6 L456.8 249.7 L456.8 249.7 L456.8 249.7 L456.9 249.7 L456.9 249.7 L456.9 249.6 L456.9 249.6 L456.9 249.5 L456.9 249.3 L456.9 249.2 L456.9 249.1 L456.9 249.0 L456.9 248.8 L456.9 248.7 L456.9 248.5 L456.9 248.4 L456.9 248.2 L456.9 248.0 L456.9 247.8 L457.0 247.5 L457.0 247.3 L457.0 247.1 L457.0 246.8 L457.0 246.7 L457.0 246.5 L457.0 246.5 L457.0 246.5 L457.0 246.7 L457.0 246.9 L457.0 247.3 L457.0 247.8 L457.0 248.4 L457.0 249.0 L457.0 249.8 L457.0 250.6 L457.1 251.4 L457.1 252.3 L457.1 253.1 L457.1 254.0 L457.1 254.8 L457.1 255.7 L457.1 256.5 L457.1 257.3 L457.1 258.2 L457.1 259.1 L457.1 259.9 L457.1 260.8 L457.1 261.7 L457.1 262.6 L457.1 263.4 L457.1 264.2 L457.1 264.9 L457.2 265.6 L457.2 266.0 L457.2 266.4 L457.2 266.6 L457.2 266.7 L457.2 266.6 L457.2 266.4 L457.2 266.1 L457.2 265.7 L457.2 265.3 L457.2 264.7 L457.2 264.1 L457.2 263.4 L457.2 262.7 L457.2 261.9 L457.2 261.1 L457.3 260.2 L457.3 259.4 L457.3 258.5 L457.3 257.7 L457.3 256.9 L457.3 256.2 L457.3 255.6 L457.3 255.2 L457.3 254.9 L457.3 254.9 L457.3 255.1 L457.3 255.4 L457.3 256.0 L457.3 256.7 L457.3 257.4 L457.3 258.2 L457.4 259.0 L457.4 259.8 L457.4 260.4 L457.4 260.8 L457.4 261.1 L457.4 261.2 L457.4 261.0 L457.4 260.8 L457.4 260.3 L457.4 259.8 L457.4 259.2 L457.4 258.6 L457.4 258.0 L457.4 257.5 L457.4 257.0 L457.4 256.6 L457.5 256.4 L457.5 256.2 L457.5 256.1 L457.5 256.1 L457.5 256.1 L457.5 256.2 L457.5 256.3 L457.5 256.5 L457.5 256.6 L457.5 256.7 L457.5 256.9 L457.5 257.0 L457.5 257.2 L457.5 257.4 L457.5 257.6 L457.5 257.8 L457.5 258.0 L457.6 258.2 L457.6 258.4 L457.6 258.5 L457.6 258.6 L457.6 258.6 L457.6 258.6 L457.6 258.3 L457.6 258.0 L457.6 257.5 L457.6 256.9 L457.6 256.1 L457.6 255.2 L457.6 254.3 L457.6 253.2 L457.6 252.1 L457.6 251.0 L457.7 250.0 L457.7 249.0 L457.7 248.1 L457.7 247.4 L457.7 246.8 L457.7 246.3 L457.7 246.0 L457.7 245.9 L457.7 245.9 L457.7 246.0 L457.7 246.2 L457.7 246.5 L457.7 246.9 L457.7 247.3 L457.7 247.7 L457.7 248.1 L457.7 248.5 L457.8 248.9 L457.8 249.3 L457.8 249.6 L457.8 249.9 L457.8 250.2 L457.8 250.5 L457.8 250.7 L457.8 251.0 L457.8 251.3 L457.8 251.7 L457.8 252.1 L457.8 252.5 L457.8 252.8 L457.8 253.2 L457.8 253.5 L457.8 253.8 L457.9 254.0 L457.9 254.0 L457.9 254.0 L457.9 253.8 L457.9 253.5 L457.9 253.2 L457.9 252.8 L457.9 252.5 L457.9 252.2 L457.9 252.0 L457.9 251.9 L457.9 252.0 L457.9 252.3 L457.9 252.8 L457.9 253.5 L457.9 254.3 L457.9 255.3 L458.0 256.4 L458.0 257.5 L458.0 258.7 L458.0 259.9 L458.0 261.0 L458.0 262.0 L458.0 262.9 L458.0 263.6 L458.0 264.1 L458.0 264.5 L458.0 264.6 L458.0 264.5 L458.0 264.3 L458.0 263.8 L458.0 263.2 L458.0 262.4 L458.1 261.5 L458.1 260.6 L458.1 259.6 L458.1 258.7 L458.1 257.8 L458.1 257.1 L458.1 256.4 L458.1 255.9 L458.1 255.5 L458.1 255.3 L458.1 255.2 L458.1 255.2 L458.1 255.2 L458.1 255.3 L458.1 255.5 L458.1 255.6 L458.1 255.7 L458.2 255.7 L458.2 255.7 L458.2 255.5 L458.2 255.3 L458.2 255.1 L458.2 254.7 L458.2 254.4 L458.2 254.0 L458.2 253.6 L458.2 253.1 L458.2 252.7 L458.2 252.3 L458.2 251.9 L458.2 251.5 L458.2 251.0 L458.2 250.6 L458.3 250.2 L458.3 249.7 L458.3 249.2 L458.3 248.7 L458.3 248.3 L458.3 247.8 L458.3 247.4 L458.3 247.1 L458.3 246.8 L458.3 246.6 L458.3 246.4 L458.3 246.4 L458.3 246.4 L458.3 246.4 L458.3 246.5 L458.3 246.7 L458.3 247.0 L458.4 247.4 L458.4 247.8 L458.4 248.3 L458.4 248.9 L458.4 249.5 L458.4 250.1 L458.4 250.8 L458.4 251.5 L458.4 252.1 L458.4 252.7 L458.4 253.3 L458.4 253.8 L458.4 254.2 L458.4 254.6 L458.4 254.9 L458.4 255.2 L458.4 255.5 L458.5 255.9 L458.5 256.3 L458.5 256.7 L458.5 257.2 L458.5 257.8 L458.5 258.4 L458.5 259.0 L458.5 259.6 L458.5 260.2 L458.5 260.8 L458.5 261.2 L458.5 261.6 L458.5 261.8 L458.5 261.9 L458.5 262.0 L458.5 261.9 L458.5 261.8 L458.6 261.5 L458.6 261.3 L458.6 261.0 L458.6 260.8 L458.6 260.5 L458.6 260.2 L458.6 259.9 L458.6 259.7 L458.6 259.3 L458.6 259.0 L458.6 258.5 L458.6 258.0 L458.6 257.4 L458.6 256.6 L458.6 255.8 L458.6 254.8 L458.7 253.7 L458.7 252.5 L458.7 251.2 L458.7 250.0 L458.7 248.7 L458.7 247.5 L458.7 246.4 L458.7 245.4 L458.7 244.6 L458.7 244.1 L458.7 243.8 L458.7 243.7 L458.7 243.9 L458.7 244.4 L458.7 245.1 L458.7 246.1 L458.7 247.2 L458.8 248.4 L458.8 249.6 L458.8 250.8 L458.8 251.9 L458.8 252.9 L458.8 253.7 L458.8 254.3 L458.8 254.6 L458.8 254.8 L458.8 254.8 L458.8 254.7 L458.8 254.6 L458.8 254.3 L458.8 254.1 L458.8 254.0 L458.8 254.0 L458.8 254.0 L458.9 254.2 L458.9 254.5 L458.9 254.8 L458.9 255.3 L458.9 255.9 L458.9 256.5 L458.9 257.1 L458.9 257.8 L458.9 258.5 L458.9 259.2 L458.9 259.8 L458.9 260.5 L458.9 261.1 L458.9 261.7 L458.9 262.2 L458.9 262.6 L458.9 262.8 L459.0 262.8 L459.0 262.7 L459.0 262.3 L459.0 261.8 L459.0 261.0 L459.0 260.0 L459.0 258.9 L459.0 257.6 L459.0 256.2 L459.0 254.7 L459.0 253.2 L459.0 251.6 L459.0 250.1 L459.0 248.7 L459.0 247.4 L459.0 246.2 L459.0 245.2 L459.1 244.4 L459.1 243.7 L459.1 243.3 L459.1 243.0 L459.1 242.9 L459.1 243.0 L459.1 243.3 L459.1 243.7 L459.1 244.3 L459.1 244.9 L459.1 245.7 L459.1 246.5 L459.1 247.4 L459.1 248.3 L459.1 249.3 L459.1 250.2 L459.1 251.2 L459.2 252.1 L459.2 253.0 L459.2 253.8 L459.2 254.6 L459.2 255.2 L459.2 255.7 L459.2 256.1 L459.2 256.3 L459.2 256.3 L459.2 256.2 L459.2 256.0 L459.2 255.6 L459.2 255.2 L459.2 254.8 L459.2 254.3 L459.2 253.9 L459.2 253.5 L459.3 253.3 L459.3 253.2 L459.3 253.2 L459.3 253.4 L459.3 253.7 L459.3 254.2 L459.3 254.7 L459.3 255.3 L459.3 256.0 L459.3 256.6 L459.3 257.2 L459.3 257.6 L459.3 258.0 L459.3 258.3 L459.3 258.5 L459.3 258.5 L459.3 258.5 L459.4 258.3 L459.4 258.1 L459.4 257.8 L459.4 257.5 L459.4 257.2 L459.4 256.9 L459.4 256.6 L459.4 256.3 L459.4 256.1 L459.4 255.9 L459.4 255.8 L459.4 255.8 L459.4 255.9 L459.4 256.0 L459.4 256.2 L459.4 256.5 L459.4 256.8 L459.5 257.2 L459.5 257.5 L459.5 257.9 L459.5 258.2 L459.5 258.6 L459.5 258.8 L459.5 259.1 L459.5 259.3 L459.5 259.5 L459.5 259.7 L459.5 259.9 L459.5 260.1 L459.5 260.3 L459.5 260.5 L459.5 260.7 L459.5 260.9 L459.5 261.1 L459.6 261.2 L459.6 261.3 L459.6 261.3 L459.6 261.2 L459.6 261.1 L459.6 260.8 L459.6 260.3 L459.6 259.8 L459.6 259.1 L459.6 258.3 L459.6 257.5 L459.6 256.5 L459.6 255.4 L459.6 254.3 L459.6 253.1 L459.6 251.8 L459.6 250.6 L459.7 249.3 L459.7 248.1 L459.7 246.9 L459.7 245.7 L459.7 244.6 L459.7 243.5 L459.7 242.6 L459.7 241.8 L459.7 241.2 L459.7 240.7 L459.7 240.5 L459.7 240.5 L459.7 240.7 L459.7 241.2 L459.7 241.9 L459.7 242.8 L459.7 243.8 L459.7 245.0 L459.8 246.2 L459.8 247.5 L459.8 248.7 L459.8 250.0 L459.8 251.1 L459.8 252.1 L459.8 252.9 L459.8 253.6 L459.8 254.0 L459.8 254.2 L459.8 254.3 L459.8 254.1 L459.8 253.6 L459.8 253.0 L459.8 252.3 L459.8 251.4 L459.8 250.4 L459.9 249.4 L459.9 248.4 L459.9 247.4 L459.9 246.6 L459.9 246.0 L459.9 245.6 L459.9 245.3 L459.9 245.2 L459.9 245.3 L459.9 245.5 L459.9 245.8 L459.9 246.2 L459.9 246.6 L459.9 247.0 L459.9 247.4 L459.9 247.7 L459.9 247.9 L460.0 248.1 L460.0 248.3 L460.0 248.4 L460.0 248.6 L460.0 248.8 L460.0 249.1 L460.0 249.6 L460.0 250.1 L460.0 250.9 L460.0 251.9 L460.0 253.0 L460.0 254.3 L460.0 255.8 L460.0 257.4 L460.0 259.1 L460.0 260.8 L460.0 262.4 L460.0 263.9 L460.1 265.2 L460.1 266.4 L460.1 267.3 L460.1 268.0 L460.1 268.4 L460.1 268.7 L460.1 268.7 L460.1 268.7 L460.1 268.5 L460.1 268.3 L460.1 268.0 L460.1 267.8 L460.1 267.6 L460.1 267.5 L460.1 267.5 L460.1 267.5 L460.1 267.5 L460.2 267.6 L460.2 267.6 L460.2 267.7 L460.2 267.8 L460.2 267.8 L460.2 267.8 L460.2 267.7 L460.2 267.6 L460.2 267.5 L460.2 267.4 L460.2 267.2 L460.2 266.9 L460.2 266.6 L460.2 266.2 L460.2 265.8 L460.2 265.3 L460.2 264.7 L460.3 263.9 L460.3 263.1 L460.3 262.3 L460.3 261.3 L460.3 260.4 L460.3 259.5 L460.3 258.7 L460.3 257.9 L460.3 257.3 L460.3 256.9 L460.3 256.6 L460.3 256.3 L460.3 256.2 L460.3 256.2 L460.3 256.1 L460.3 255.9 L460.3 255.7 L460.3 255.3 L460.4 254.7 L460.4 254.1 L460.4 253.2 L460.4 252.4 L460.4 251.4 L460.4 250.6 L460.4 249.8 L460.4 249.2 L460.4 248.8 L460.4 248.6 L460.4 248.8 L460.4 249.3 L460.4 250.0 L460.4 251.1 L460.4 252.4 L460.4 253.9 L460.4 255.6 L460.5 257.5 L460.5 259.4 L460.5 261.3 L460.5 263.2 L460.5 264.9 L460.5 266.5 L460.5 268.0 L460.5 269.2 L460.5 270.2 L460.5 271.0 L460.5 271.5 L460.5 271.8 L460.5 271.9 L460.5 271.7 L460.5 271.3 L460.5 270.8 L460.5 270.0 L460.5 269.1 L460.6 268.0 L460.6 266.8 L460.6 265.5 L460.6 264.1 L460.6 262.6 L460.6 261.1 L460.6 259.7 L460.6 258.2 L460.6 256.9 L460.6 255.7 L460.6 254.6 L460.6 253.6 L460.6 252.9 L460.6 252.3 L460.6 251.8 L460.6 251.6 L460.6 251.5 L460.7 251.6 L460.7 251.7 L460.7 251.9 L460.7 252.2 L460.7 252.4 L460.7 252.6 L460.7 252.7 L460.7 252.8 L460.7 252.7 L460.7 252.5 L460.7 252.1 L460.7 251.7 L460.7 251.2 L460.7 250.6 L460.7 250.0 L460.7 249.4 L460.7 248.9 L460.7 248.3 L460.8 247.9 L460.8 247.6 L460.8 247.3 L460.8 247.2 L460.8 247.2 L460.8 247.3 L460.8 247.5 L460.8 247.9 L460.8 248.3 L460.8 248.7 L460.8 249.3 L460.8 249.9 L460.8 250.6 L460.8 251.3 L460.8 252.0 L460.8 252.7 L460.8 253.5 L460.8 254.1 L460.9 254.7 L460.9 255.3 L460.9 255.7 L460.9 256.0 L460.9 256.2 L460.9 256.3 L460.9 256.3 L460.9 256.2 L460.9 256.1 L460.9 255.9 L460.9 255.6 L460.9 255.4 L460.9 255.1 L460.9 254.9 L460.9 254.6 L460.9 254.4 L460.9 254.3 L461.0 254.1 L461.0 254.0 L461.0 253.9 L461.0 253.9 L461.0 253.8 L461.0 253.8 L461.0 253.7 L461.0 253.6 L461.0 253.5 L461.0 253.4 L461.0 253.2 L461.0 253.0 L461.0 252.7 L461.0 252.4 L461.0 252.1 L461.0 251.8 L461.0 251.5 L461.0 251.2 L461.1 250.9 L461.1 250.7 L461.1 250.4 L461.1 250.1 L461.1 249.8 L461.1 249.5 L461.1 249.1 L461.1 248.7 L461.1 248.2 L461.1 247.7 L461.1 247.2 L461.1 246.7 L461.1 246.3 L461.1 245.9 L461.1 245.6 L461.1 245.4 L461.1 245.4 L461.1 245.5 L461.2 245.8 L461.2 246.2 L461.2 246.8 L461.2 247.5 L461.2 248.2 L461.2 248.9 L461.2 249.6 L461.2 250.3 L461.2 250.9 L461.2 251.3 L461.2 251.7 L461.2 251.9 L461.2 252.1 L461.2 252.2 L461.2 252.2 L461.2 252.2 L461.2 252.2 L461.2 252.1 L461.3 252.1 L461.3 252.0 L461.3 251.8 L461.3 251.6 L461.3 251.4 L461.3 251.1 L461.3 250.7 L461.3 250.2 L461.3 249.8 L461.3 249.2 L461.3 248.7 L461.3 248.2 L461.3 247.8 L461.3 247.4 L461.3 247.0 L461.3 246.8 L461.3 246.7 L461.3 246.6 L461.4 246.7 L461.4 246.9 L461.4 247.1 L461.4 247.5 L461.4 247.8 L461.4 248.3 L461.4 248.8 L461.4 249.3 L461.4 249.8 L461.4 250.3 L461.4 250.8 L461.4 251.3 L461.4 251.8 L461.4 252.3 L461.4 252.6 L461.4 252.9 L461.4 253.2 L461.4 253.3 L461.5 253.4 L461.5 253.3 L461.5 253.1 L461.5 252.8 L461.5 252.4 L461.5 251.9 L461.5 251.4 L461.5 250.8 L461.5 250.1 L461.5 249.4 L461.5 248.8 L461.5 248.2 L461.5 247.7 L461.5 247.2 L461.5 246.9 L461.5 246.7 L461.5 246.6 L461.5 246.7 L461.6 246.8 L461.6 247.2 L461.6 247.6 L461.6 248.1 L461.6 248.6 L461.6 249.2 L461.6 249.8 L461.6 250.3 L461.6 250.7 L461.6 251.0 L461.6 251.2 L461.6 251.2 L461.6 251.1 L461.6 250.9 L461.6 250.6 L461.6 250.3 L461.6 250.0 L461.6 249.7 L461.7 249.5 L461.7 249.3 L461.7 249.2 L461.7 249.1 L461.7 249.0 L461.7 248.9 L461.7 248.7 L461.7 248.5 L461.7 248.1 L461.7 247.6 L461.7 247.1 L461.7 246.3 L461.7 245.6 L461.7 244.7 L461.7 243.8 L461.7 243.0 L461.7 242.2 L461.7 241.5 L461.8 240.9 L461.8 240.5 L461.8 240.3 L461.8 240.2 L461.8 240.3 L461.8 240.5 L461.8 240.8 L461.8 241.3 L461.8 241.8 L461.8 242.3 L461.8 242.9 L461.8 243.5 L461.8 244.1 L461.8 244.8 L461.8 245.3 L461.8 245.9 L461.8 246.4 L461.8 246.7 L461.9 247.0 L461.9 247.1 L461.9 246.9 L461.9 246.6 L461.9 246.0 L461.9 245.3 L461.9 244.4 L461.9 243.3 L461.9 242.3 L461.9 241.2 L461.9 240.3 L461.9 239.6 L461.9 239.1 L461.9 239.0 L461.9 239.1 L461.9 239.6 L461.9 240.3 L461.9 241.3 L462.0 242.4 L462.0 243.7 L462.0 245.0 L462.0 246.3 L462.0 247.4 L462.0 248.5 L462.0 249.5 L462.0 250.3 L462.0 251.0 L462.0 251.6 L462.0 252.1 L462.0 252.5 L462.0 253.0 L462.0 253.5 L462.0 254.0 L462.0 254.5 L462.0 255.0 L462.0 255.6 L462.1 256.1 L462.1 256.5 L462.1 256.8 L462.1 257.0 L462.1 257.1 L462.1 256.9 L462.1 256.7 L462.1 256.3 L462.1 255.9 L462.1 255.4 L462.1 254.9 L462.1 254.4 L462.1 254.0 L462.1 253.7 L462.1 253.6 L462.1 253.7 L462.1 253.9 L462.1 254.2 L462.2 254.7 L462.2 255.2 L462.2 255.8 L462.2 256.4 L462.2 257.0 L462.2 257.5 L462.2 257.8 L462.2 258.0 L462.2 258.1 L462.2 258.0 L462.2 257.7 L462.2 257.3 L462.2 256.8 L462.2 256.2 L462.2 255.6 L462.2 255.0 L462.2 254.4 L462.2 254.0 L462.3 253.7 L462.3 253.5 L462.3 253.4 L462.3 253.4 L462.3 253.6 L462.3 253.8 L462.3 254.0 L462.3 254.3 L462.3 254.7 L462.3 255.0 L462.3 255.3 L462.3 255.6 L462.3 255.9 L462.3 256.2 L462.3 256.5 L462.3 256.7 L462.3 257.0 L462.3 257.3 L462.3 257.6 L462.4 257.9 L462.4 258.2 L462.4 258.6 L462.4 258.9 L462.4 259.2 L462.4 259.4 L462.4 259.5 L462.4 259.6 L462.4 259.5 L462.4 259.3 L462.4 259.0 L462.4 258.4 L462.4 257.8 L462.4 256.9 L462.4 256.0 L462.4 254.9 L462.4 253.7 L462.4 252.5 L462.5 251.3 L462.5 250.0 L462.5 248.8 L462.5 247.7 L462.5 246.5 L462.5 245.5 L462.5 244.6 L462.5 243.8 L462.5 243.1 L462.5 242.6 L462.5 242.2 L462.5 242.0 L462.5 242.0 L462.5 242.1 L462.5 242.5 L462.5 243.0 L462.5 243.7 L462.5 244.5 L462.6 245.5 L462.6 246.5 L462.6 247.7 L462.6 248.9 L462.6 250.0 L462.6 251.2 L462.6 252.2 L462.6 253.2 L462.6 254.0 L462.6 254.7 L462.6 255.3 L462.6 255.7 L462.6 255.9 L462.6 256.1 L462.6 256.1 L462.6 256.1 L462.6 256.1 L462.6 256.0 L462.6 256.0 L462.7 256.1 L462.7 256.3 L462.7 256.5 L462.7 256.9 L462.7 257.5 L462.7 258.2 L462.7 259.0 L462.7 260.0 L462.7 261.1 L462.7 262.4 L462.7 263.6 L462.7 265.0 L462.7 266.3 L462.7 267.5 L462.7 268.6 L462.7 269.6 L462.7 270.4 L462.7 271.0 L462.8 271.4 L462.8 271.5 L462.8 271.3 L462.8 270.9 L462.8 270.2 L462.8 269.4 L462.8 268.3 L462.8 267.2 L462.8 265.9 L462.8 264.6 L462.8 263.3 L462.8 262.0 L462.8 260.7 L462.8 259.5 L462.8 258.3 L462.8 257.3 L462.8 256.4 L462.8 255.5 L462.8 254.8 L462.9 254.3 L462.9 253.9 L462.9 253.6 L462.9 253.4 L462.9 253.5 L462.9 253.7 L462.9 254.0 L462.9 254.5 L462.9 255.2 L462.9 255.9 L462.9 256.8 L462.9 257.7 L462.9 258.7 L462.9 259.6 L462.9 260.4 L462.9 261.1 L462.9 261.6 L462.9 261.8 L463.0 261.7 L463.0 261.3 L463.0 260.5 L463.0 259.2 L463.0 257.6 L463.0 255.6 L463.0 253.4 L463.0 250.9 L463.0 248.4 L463.0 245.8 L463.0 243.4 L463.0 241.3 L463.0 239.5 L463.0 238.1 L463.0 237.2 L463.0 236.8 L463.0 237.0 L463.0 237.6 L463.0 238.7 L463.1 240.1 L463.1 241.8 L463.1 243.7 L463.1 245.7 L463.1 247.7 L463.1 249.6 L463.1 251.4 L463.1 253.0 L463.1 254.4 L463.1 255.5 L463.1 256.3 L463.1 256.9 L463.1 257.2 L463.1 257.3 L463.1 257.1 L463.1 256.7 L463.1 256.1 L463.1 255.4 L463.1 254.5 L463.2 253.5 L463.2 252.5 L463.2 251.3 L463.2 250.2 L463.2 248.9 L463.2 247.7 L463.2 246.4 L463.2 245.1 L463.2 243.8 L463.2 242.6 L463.2 241.4 L463.2 240.4 L463.2 239.4 L463.2 238.7 L463.2 238.1 L463.2 237.8 L463.2 237.7 L463.2 237.9 L463.3 238.3 L463.3 238.8 L463.3 239.6 L463.3 240.4 L463.3 241.3 L463.3 242.3 L463.3 243.2 L463.3 244.1 L463.3 245.0 L463.3 245.7 L463.3 246.3 L463.3 246.8 L463.3 247.2 L463.3 247.5 L463.3 247.7 L463.3 247.8 L463.3 247.8 L463.3 247.7 L463.3 247.4 L463.4 247.2 L463.4 246.8 L463.4 246.4 L463.4 245.9 L463.4 245.4 L463.4 244.8 L463.4 244.2 L463.4 243.7 L463.4 243.1 L463.4 242.6 L463.4 242.2 L463.4 241.8 L463.4 241.4 L463.4 241.2 L463.4 241.0 L463.4 241.0 L463.4 241.0 L463.4 241.2 L463.4 241.6 L463.5 242.1 L463.5 242.9 L463.5 243.8 L463.5 245.0 L463.5 246.5 L463.5 248.1 L463.5 249.9 L463.5 251.8 L463.5 253.8 L463.5 255.8 L463.5 257.8 L463.5 259.7 L463.5 261.5 L463.5 263.1 L463.5 264.4 L463.5 265.5 L463.5 266.4 L463.5 267.1 L463.5 267.7 L463.6 268.1 L463.6 268.4 L463.6 268.7 L463.6 269.0 L463.6 269.3 L463.6 269.6 L463.6 270.0 L463.6 270.4 L463.6 270.7 L463.6 271.0 L463.6 271.2 L463.6 271.2 L463.6 271.0 L463.6 270.5 L463.6 269.7 L463.6 268.5 L463.6 267.0 L463.6 265.2 L463.7 263.1 L463.7 260.7 L463.7 258.0 L463.7 255.1 L463.7 252.1 L463.7 249.0 L463.7 245.9 L463.7 242.9 L463.7 239.9 L463.7 237.2 L463.7 234.8 L463.7 232.7 L463.7 231.0 L463.7 229.7 L463.7 228.8 L463.7 228.4 L463.7 228.5 L463.7 229.1 L463.7 230.1 L463.8 231.4 L463.8 233.1 L463.8 235.0 L463.8 237.1 L463.8 239.4 L463.8 241.7 L463.8 244.0 L463.8 246.3 L463.8 248.6 L463.8 250.7 L463.8 252.8 L463.8 254.7 L463.8 256.4 L463.8 258.0 L463.8 259.4 L463.8 260.5 L463.8 261.5 L463.8 262.2 L463.8 262.6 L463.9 262.9 L463.9 263.0 L463.9 263.0 L463.9 262.8 L463.9 262.6 L463.9 262.3 L463.9 262.0 L463.9 261.7 L463.9 261.5 L463.9 261.3 L463.9 261.1 L463.9 261.0 L463.9 260.8 L463.9 260.6 L463.9 260.4 L463.9 260.1 L463.9 259.7 L463.9 259.2 L463.9 258.7 L464.0 258.1 L464.0 257.5 L464.0 256.8 L464.0 256.1 L464.0 255.5 L464.0 254.9 L464.0 254.4 L464.0 254.0 L464.0 253.7 L464.0 253.5 L464.0 253.5 L464.0 253.6 L464.0 253.9 L464.0 254.4 L464.0 255.1 L464.0 255.9 L464.0 256.9 L464.0 258.1 L464.0 259.3 L464.1 260.6 L464.1 262.0 L464.1 263.3 L464.1 264.6 L464.1 265.7 L464.1 266.6 L464.1 267.3 L464.1 267.7 L464.1 267.9 L464.1 267.8 L464.1 267.5 L464.1 266.9 L464.1 266.1 L464.1 265.2 L464.1 264.1 L464.1 262.9 L464.1 261.7 L464.1 260.4 L464.1 259.1 L464.2 257.7 L464.2 256.4 L464.2 255.1 L464.2 253.9 L464.2 252.7 L464.2 251.6 L464.2 250.5 L464.2 249.5 L464.2 248.7 L464.2 247.9 L464.2 247.2 L464.2 246.7 L464.2 246.3 L464.2 246.1 L464.2 245.9 L464.2 245.9 L464.2 246.1 L464.2 246.3 L464.2 246.7 L464.2 247.2 L464.3 247.7 L464.3 248.3 L464.3 249.0 L464.3 249.6 L464.3 250.2 L464.3 250.8 L464.3 251.2 L464.3 251.6 L464.3 251.9 L464.3 252.1 L464.3 252.1 L464.3 252.0 L464.3 251.9 L464.3 251.6 L464.3 251.2 L464.3 250.8 L464.3 250.4 L464.3 249.9 L464.3 249.5 L464.4 249.1 L464.4 248.7 L464.4 248.4 L464.4 248.1 L464.4 247.9 L464.4 247.8 L464.4 247.7 L464.4 247.6 L464.4 247.6 L464.4 247.7 L464.4 247.8 L464.4 248.0 L464.4 248.2 L464.4 248.4 L464.4 248.6 L464.4 248.8 L464.4 249.0 L464.4 249.1 L464.4 249.3 L464.5 249.3 L464.5 249.4 L464.5 249.4 L464.5 249.4 L464.5 249.4 L464.5 249.4 L464.5 249.5 L464.5 249.6 L464.5 249.7 L464.5 250.0 L464.5 250.3 L464.5 250.6 L464.5 251.0 L464.5 251.3 L464.5 251.6 L464.5 251.9 L464.5 252.1 L464.5 252.2 L464.5 252.3 L464.6 252.3 L464.6 252.2 L464.6 252.1 L464.6 252.1 L464.6 252.1 L464.6 252.3 L464.6 252.6 L464.6 253.2 L464.6 253.9 L464.6 254.9 L464.6 256.1 L464.6 257.6 L464.6 259.1 L464.6 260.7 L464.6 262.3 L464.6 263.9 L464.6 265.3 L464.6 266.6 L464.6 267.7 L464.7 268.5 L464.7 269.0 L464.7 269.3 L464.7 269.3 L464.7 269.1 L464.7 268.7 L464.7 268.2 L464.7 267.5 L464.7 266.7 L464.7 265.8 L464.7 264.9 L464.7 263.8 L464.7 262.7 L464.7 261.6 L464.7 260.4 L464.7 259.1 L464.7 257.8 L464.7 256.5 L464.7 255.2 L464.7 253.9 L464.8 252.5 L464.8 251.3 L464.8 250.0 L464.8 248.8 L464.8 247.7 L464.8 246.6 L464.8 245.5 L464.8 244.4 L464.8 243.3 L464.8 242.2 L464.8 241.0 L464.8 239.8 L464.8 238.5 L464.8 237.1 L464.8 235.7 L464.8 234.3 L464.8 232.9 L464.8 231.6 L464.8 230.4 L464.9 229.3 L464.9 228.4 L464.9 227.7 L464.9 227.3 L464.9 227.3 L464.9 227.6 L464.9 228.3 L464.9 229.3 L464.9 230.8 L464.9 232.6 L464.9 234.8 L464.9 237.2 L464.9 239.9 L464.9 242.6 L464.9 245.5 L464.9 248.2 L464.9 250.9 L464.9 253.3 L464.9 255.5 L464.9 257.3 L465.0 258.7 L465.0 259.8 L465.0 260.4 L465.0 260.8 L465.0 260.8 L465.0 260.5 L465.0 260.0 L465.0 259.3 L465.0 258.6 L465.0 257.7 L465.0 256.9 L465.0 256.1 L465.0 255.3 L465.0 254.6 L465.0 253.9 L465.0 253.4 L465.0 252.9 L465.0 252.4 L465.0 252.1 L465.1 251.7 L465.1 251.5 L465.1 251.3 L465.1 251.2 L465.1 251.1 L465.1 251.2 L465.1 251.5 L465.1 251.8 L465.1 252.4 L465.1 253.1 L465.1 253.9 L465.1 254.9 L465.1 256.0 L465.1 257.1 L465.1 258.2 L465.1 259.2 L465.1 260.2 L465.1 261.0 L465.1 261.5 L465.1 261.9 L465.2 261.9 L465.2 261.8 L465.2 261.3 L465.2 260.6 L465.2 259.6 L465.2 258.5 L465.2 257.3 L465.2 255.9 L465.2 254.5 L465.2 253.0 L465.2 251.6 L465.2 250.3 L465.2 249.0 L465.2 247.9 L465.2 246.9 L465.2 246.1 L465.2 245.4 L465.2 244.9 L465.2 244.6 L465.3 244.4 L465.3 244.4 L465.3 244.6 L465.3 244.9 L465.3 245.3 L465.3 245.7 L465.3 246.3 L465.3 246.8 L465.3 247.4 L465.3 248.0 L465.3 248.5 L465.3 249.0 L465.3 249.4 L465.3 249.8 L465.3 250.1 L465.3 250.4 L465.3 250.7 L465.3 251.1 L465.3 251.4 L465.3 251.7 L465.4 252.1 L465.4 252.5 L465.4 252.8 L465.4 253.2 L465.4 253.4 L465.4 253.6 L465.4 253.7 L465.4 253.7 L465.4 253.5 L465.4 253.2 L465.4 252.8 L465.4 252.2 L465.4 251.5 L465.4 250.7 L465.4 249.9 L465.4 249.1 L465.4 248.3 L465.4 247.5 L465.4 246.8 L465.5 246.3 L465.5 245.9 L465.5 245.7 L465.5 245.6 L465.5 245.8 L465.5 246.1 L465.5 246.5 L465.5 247.1 L465.5 247.7 L465.5 248.3 L465.5 248.9 L465.5 249.4 L465.5 249.9 L465.5 250.2 L465.5 250.4 L465.5 250.4 L465.5 250.3 L465.5 250.1 L465.5 249.8 L465.5 249.4 L465.6 249.0 L465.6 248.7 L465.6 248.3 L465.6 248.1 L465.6 247.9 L465.6 247.7 L465.6 247.7 L465.6 247.6 L465.6 247.6 L465.6 247.6 L465.6 247.6 L465.6 247.5 L465.6 247.3 L465.6 247.0 L465.6 246.6 L465.6 246.1 L465.6 245.5 L465.6 244.7 L465.6 243.9 L465.6 243.0 L465.7 242.0 L465.7 241.0 L465.7 240.1 L465.7 239.2 L465.7 238.4 L465.7 237.7 L465.7 237.1 L465.7 236.5 L465.7 236.2 L465.7 235.9 L465.7 235.8 L465.7 235.7 L465.7 235.8 L465.7 236.0 L465.7 236.3 L465.7 236.7 L465.7 237.2 L465.7 237.7 L465.7 238.3 L465.7 238.9 L465.8 239.4 L465.8 240.0 L465.8 240.5 L465.8 240.9 L465.8 241.3 L465.8 241.5 L465.8 241.7 L465.8 241.8 L465.8 241.8 L465.8 241.7 L465.8 241.6 L465.8 241.5 L465.8 241.4 L465.8 241.3 L465.8 241.3 L465.8 241.4 L465.8 241.6 L465.8 242.1 L465.8 242.7 L465.9 243.4 L465.9 244.4 L465.9 245.5 L465.9 246.8 L465.9 248.0 L465.9 249.4 L465.9 250.6 L465.9 251.7 L465.9 252.6 L465.9 253.3 L465.9 253.6 L465.9 253.7 L465.9 253.3 L465.9 252.7 L465.9 251.7 L465.9 250.5 L465.9 249.1 L465.9 247.6 L465.9 246.2 L465.9 244.9 L466.0 243.9 L466.0 243.2 L466.0 242.9 L466.0 243.1 L466.0 243.7 L466.0 244.8 L466.0 246.2 L466.0 248.0 L466.0 250.0 L466.0 252.1 L466.0 254.2 L466.0 256.2 L466.0 258.0 L466.0 259.6 L466.0 260.9 L466.0 261.9 L466.0 262.5 L466.0 262.9 L466.0 262.9 L466.0 262.8 L466.1 262.5 L466.1 262.0 L466.1 261.5 L466.1 261.0 L466.1 260.6 L466.1 260.1 L466.1 259.8 L466.1 259.6 L466.1 259.5 L466.1 259.5 L466.1 259.6 L466.1 259.7 L466.1 259.9 L466.1 260.1 L466.1 260.2 L466.1 260.3 L466.1 260.3 L466.1 260.3 L466.1 260.1 L466.1 259.7 L466.2 259.3 L466.2 258.6 L466.2 257.9 L466.2 257.0 L466.2 255.9 L466.2 254.7 L466.2 253.4 L466.2 252.1 L466.2 250.6 L466.2 249.2 L466.2 247.8 L466.2 246.5 L466.2 245.3 L466.2 244.3 L466.2 243.6 L466.2 243.1 L466.2 243.0 L466.2 243.1 L466.2 243.6 L466.2 244.4 L466.3 245.5 L466.3 246.8 L466.3 248.2 L466.3 249.8 L466.3 251.4 L466.3 253.0 L466.3 254.4 L466.3 255.7 L466.3 256.8 L466.3 257.7 L466.3 258.3 L466.3 258.7 L466.3 259.0 L466.3 259.1 L466.3 259.1 L466.3 259.1 L466.3 259.2 L466.3 259.3 L466.3 259.5 L466.3 259.8 L466.4 260.2 L466.4 260.7 L466.4 261.2 L466.4 261.7 L466.4 262.1 L466.4 262.3 L466.4 262.4 L466.4 262.3 L466.4 262.0 L466.4 261.4 L466.4 260.7 L466.4 259.8 L466.4 258.7 L466.4 257.5 L466.4 256.1 L466.4 254.8 L466.4 253.3 L466.4 251.9 L466.4 250.5 L466.4 249.1 L466.5 247.7 L466.5 246.5 L466.5 245.3 L466.5 244.2 L466.5 243.3 L466.5 242.5 L466.5 242.0 L466.5 241.6 L466.5 241.4 L466.5 241.3 L466.5 241.5 L466.5 241.8 L466.5 242.2 L466.5 242.8 L466.5 243.4 L466.5 244.0 L466.5 244.7 L466.5 245.3 L466.5 245.9 L466.5 246.5 L466.5 247.0 L466.6 247.5 L466.6 247.9 L466.6 248.3 L466.6 248.7 L466.6 249.1 L466.6 249.6 L466.6 250.0 L466.6 250.5 L466.6 251.0 L466.6 251.6 L466.6 252.1 L466.6 252.7 L466.6 253.2 L466.6 253.7 L466.6 254.1 L466.6 254.4 L466.6 254.6 L466.6 254.7 L466.6 254.7 L466.6 254.6 L466.7 254.4 L466.7 254.2 L466.7 253.8 L466.7 253.4 L466.7 253.0 L466.7 252.6 L466.7 252.2 L466.7 251.8 L466.7 251.4 L466.7 251.1 L466.7 250.9 L466.7 250.7 L466.7 250.6 L466.7 250.5 L466.7 250.6 L466.7 250.8 L466.7 251.0 L466.7 251.4 L466.7 251.8 L466.7 252.3 L466.8 252.9 L466.8 253.5 L466.8 254.1 L466.8 254.7 L466.8 255.2 L466.8 255.8 L466.8 256.3 L466.8 256.8 L466.8 257.2 L466.8 257.6 L466.8 257.9 L466.8 258.1 L466.8 258.2 L466.8 258.2 L466.8 258.1 L466.8 257.8 L466.8 257.5 L466.8 257.1 L466.8 256.5 L466.8 255.9 L466.9 255.2 L466.9 254.6 L466.9 253.9 L466.9 253.3 L466.9 252.8 L466.9 252.4 L466.9 252.1 L466.9 252.0 L466.9 252.0 L466.9 252.2 L466.9 252.4 L466.9 252.7 L466.9 253.0 L466.9 253.3 L466.9 253.6 L466.9 253.7 L466.9 253.8 L466.9 253.7 L466.9 253.5 L466.9 253.2 L466.9 252.9 L467.0 252.5 L467.0 252.1 L467.0 251.7 L467.0 251.4 L467.0 251.1 L467.0 251.0 L467.0 251.0 L467.0 251.1 L467.0 251.4 L467.0 251.7 L467.0 252.2 L467.0 252.8 L467.0 253.4 L467.0 254.1 L467.0 254.7 L467.0 255.3 L467.0 255.9 L467.0 256.3 L467.0 256.5 L467.0 256.7 L467.1 256.6 L467.1 256.4 L467.1 256.0 L467.1 255.5 L467.1 254.9 L467.1 254.2 L467.1 253.5 L467.1 252.7 L467.1 252.0 L467.1 251.3 L467.1 250.8 L467.1 250.3 L467.1 250.0 L467.1 249.7 L467.1 249.6 L467.1 249.5 L467.1 249.4 L467.1 249.2 L467.1 249.1 L467.1 248.9 L467.1 248.6 L467.2 248.2 L467.2 247.8 L467.2 247.4 L467.2 247.1 L467.2 246.8 L467.2 246.6 L467.2 246.6 L467.2 246.7 L467.2 247.1 L467.2 247.5 L467.2 248.1 L467.2 248.7 L467.2 249.4 L467.2 249.9 L467.2 250.4 L467.2 250.6 L467.2 250.6 L467.2 250.3 L467.2 249.8 L467.2 249.1 L467.3 248.2 L467.3 247.2 L467.3 246.2 L467.3 245.2 L467.3 244.3 L467.3 243.6 L467.3 243.1 L467.3 242.8 L467.3 242.7 L467.3 242.9 L467.3 243.3 L467.3 243.8 L467.3 244.4 L467.3 245.0 L467.3 245.6 L467.3 246.2 L467.3 246.6 L467.3 247.0 L467.3 247.3 L467.3 247.5 L467.3 247.6 L467.4 247.7 L467.4 247.8 L467.4 248.0 L467.4 248.3 L467.4 248.7 L467.4 249.2 L467.4 249.9 L467.4 250.7 L467.4 251.7 L467.4 252.7 L467.4 253.8 L467.4 254.9 L467.4 256.0 L467.4 257.0 L467.4 257.8 L467.4 258.5 L467.4 258.9 L467.4 259.2 L467.4 259.2 L467.4 259.1 L467.5 258.7 L467.5 258.3 L467.5 257.7 L467.5 257.1 L467.5 256.4 L467.5 255.7 L467.5 255.1 L467.5 254.5 L467.5 254.0 L467.5 253.6 L467.5 253.4 L467.5 253.3 L467.5 253.3 L467.5 253.4 L467.5 253.6 L467.5 254.0 L467.5 254.4 L467.5 255.0 L467.5 255.6 L467.5 256.3 L467.5 257.0 L467.6 257.8 L467.6 258.7 L467.6 259.5 L467.6 260.4 L467.6 261.2 L467.6 262.0 L467.6 262.7 L467.6 263.3 L467.6 263.8 L467.6 264.1 L467.6 264.3 L467.6 264.3 L467.6 264.1 L467.6 263.7 L467.6 263.1 L467.6 262.4 L467.6 261.5 L467.6 260.4 L467.6 259.3 L467.6 258.1 L467.6 256.8 L467.7 255.5 L467.7 254.3 L467.7 253.1 L467.7 252.0 L467.7 251.0 L467.7 250.2 L467.7 249.5 L467.7 248.9 L467.7 248.5 L467.7 248.2 L467.7 248.0 L467.7 247.8 L467.7 247.6 L467.7 247.4 L467.7 247.2 L467.7 246.9 L467.7 246.6 L467.7 246.1 L467.7 245.7 L467.7 245.1 L467.8 244.6 L467.8 244.2 L467.8 243.8 L467.8 243.5 L467.8 243.4 L467.8 243.5 L467.8 243.7 L467.8 244.2 L467.8 244.8 L467.8 245.6 L467.8 246.4 L467.8 247.4 L467.8 248.4 L467.8 249.3 L467.8 250.2 L467.8 251.0 L467.8 251.6 L467.8 252.1 L467.8 252.3 L467.8 252.3 L467.8 252.2 L467.9 251.8 L467.9 251.3 L467.9 250.6 L467.9 249.8 L467.9 248.8 L467.9 247.7 L467.9 246.6 L467.9 245.4 L467.9 244.2 L467.9 243.1 L467.9 241.9 L467.9 240.9 L467.9 239.9 L467.9 239.1 L467.9 238.4 L467.9 237.9 L467.9 237.6 L467.9 237.6 L467.9 237.7 L467.9 238.1 L467.9 238.7 L468.0 239.4 L468.0 240.3 L468.0 241.3 L468.0 242.3 L468.0 243.4 L468.0 244.5 L468.0 245.5 L468.0 246.6 L468.0 247.6 L468.0 248.5 L468.0 249.3 L468.0 250.1 L468.0 250.8 L468.0 251.4 L468.0 251.9 L468.0 252.3 L468.0 252.6 L468.0 252.8 L468.0 252.9 L468.0 252.9 L468.0 252.8 L468.1 252.6 L468.1 252.3 L468.1 251.9 L468.1 251.6 L468.1 251.1 L468.1 250.7 L468.1 250.3 L468.1 250.0 L468.1 249.6 L468.1 249.4 L468.1 249.2 L468.1 249.1 L468.1 249.1 L468.1 249.1 L468.1 249.2 L468.1 249.3 L468.1 249.4 L468.1 249.6 L468.1 249.7 L468.1 249.8 L468.1 249.9 L468.2 250.0 L468.2 250.1 L468.2 250.2 L468.2 250.4 L468.2 250.5 L468.2 250.8 L468.2 251.1 L468.2 251.4 L468.2 251.9 L468.2 252.3 L468.2 252.8 L468.2 253.3 L468.2 253.7 L468.2 254.1 L468.2 254.3 L468.2 254.4 L468.2 254.4 L468.2 254.1 L468.2 253.7 L468.2 253.1 L468.2 252.3 L468.3 251.5 L468.3 250.6 L468.3 249.7 L468.3 248.9 L468.3 248.2 L468.3 247.7 L468.3 247.4 L468.3 247.4 L468.3 247.6 L468.3 248.1 L468.3 248.9 L468.3 249.9 L468.3 251.0 L468.3 252.3 L468.3 253.6 L468.3 254.9 L468.3 256.0 L468.3 257.0 L468.3 257.8 L468.3 258.3 L468.3 258.4 L468.4 258.2 L468.4 257.7 L468.4 256.9 L468.4 255.8 L468.4 254.5 L468.4 253.0 L468.4 251.5 L468.4 250.1 L468.4 248.7 L468.4 247.6 L468.4 246.7 L468.4 246.1 L468.4 245.9 L468.4 246.0 L468.4 246.4 L468.4 247.2 L468.4 248.3 L468.4 249.6 L468.4 251.0 L468.4 252.6 L468.4 254.1 L468.5 255.7 L468.5 257.2 L468.5 258.5 L468.5 259.7 L468.5 260.7 L468.5 261.6 L468.5 262.2 L468.5 262.7 L468.5 263.0 L468.5 263.2 L468.5 263.3 L468.5 263.3 L468.5 263.3 L468.5 263.2 L468.5 263.1 L468.5 263.0 L468.5 262.8 L468.5 262.5 L468.5 262.1 L468.5 261.5 L468.5 260.9 L468.6 260.0 L468.6 259.0 L468.6 257.9 L468.6 256.6 L468.6 255.3 L468.6 254.0 L468.6 252.6 L468.6 251.4 L468.6 250.2 L468.6 249.2 L468.6 248.5 L468.6 247.9 L468.6 247.5 L468.6 247.3 L468.6 247.2 L468.6 247.4 L468.6 247.6 L468.6 247.8 L468.6 248.1 L468.6 248.4 L468.6 248.7 L468.7 248.9 L468.7 249.0 L468.7 249.0 L468.7 249.0 L468.7 248.8 L468.7 248.7 L468.7 248.4 L468.7 248.2 L468.7 248.0 L468.7 247.8 L468.7 247.6 L468.7 247.5 L468.7 247.5 L468.7 247.6 L468.7 247.7 L468.7 247.8 L468.7 248.1 L468.7 248.3 L468.7 248.6 L468.7 248.9 L468.7 249.2 L468.8 249.5 L468.8 249.7 L468.8 249.9 L468.8 250.1 L468.8 250.2 L468.8 250.3 L468.8 250.4 L468.8 250.5 L468.8 250.5 L468.8 250.6 L468.8 250.7 L468.8 250.8 L468.8 250.9 L468.8 251.2 L468.8 251.4 L468.8 251.7 L468.8 252.1 L468.8 252.4 L468.8 252.8 L468.8 253.2 L468.8 253.5 L468.8 253.8 L468.9 254.1 L468.9 254.3 L468.9 254.5 L468.9 254.6 L468.9 254.6 L468.9 254.6 L468.9 254.6 L468.9 254.5 L468.9 254.5 L468.9 254.5 L468.9 254.5 L468.9 254.5 L468.9 254.7 L468.9 254.9 L468.9 255.2 L468.9 255.5 L468.9 256.0 L468.9 256.5 L468.9 257.0 L468.9 257.5 L468.9 258.0 L469.0 258.5 L469.0 258.9 L469.0 259.1 L469.0 259.2 L469.0 259.2 L469.0 258.9 L469.0 258.4 L469.0 257.7 L469.0 256.9 L469.0 256.0 L469.0 254.9 L469.0 253.9 L469.0 252.9 L469.0 251.9 L469.0 251.1 L469.0 250.5 L469.0 250.1 L469.0 249.9 L469.0 249.9 L469.0 250.1 L469.0 250.3 L469.1 250.7 L469.1 251.1 L469.1 251.6 L469.1 252.0 L469.1 252.4 L469.1 252.8 L469.1 253.1 L469.1 253.4 L469.1 253.7 L469.1 253.9 L469.1 254.1 L469.1 254.3 L469.1 254.5 L469.1 254.7 L469.1 254.9 L469.1 255.0 L469.1 255.1 L469.1 255.1 L469.1 255.0 L469.1 254.9 L469.1 254.7 L469.1 254.5 L469.2 254.2 L469.2 253.8 L469.2 253.3 L469.2 252.8 L469.2 252.2 L469.2 251.6 L469.2 250.9 L469.2 250.2 L469.2 249.5 L469.2 248.8 L469.2 248.1 L469.2 247.4 L469.2 246.7 L469.2 246.0 L469.2 245.4 L469.2 244.8 L469.2 244.3 L469.2 243.8 L469.2 243.5 L469.2 243.2 L469.2 243.1 L469.3 243.1 L469.3 243.3 L469.3 243.6 L469.3 244.1 L469.3 244.8 L469.3 245.6 L469.3 246.5 L469.3 247.5 L469.3 248.5 L469.3 249.6 L469.3 250.5 L469.3 251.4 L469.3 252.2 L469.3 252.8 L469.3 253.1 L469.3 253.2 L469.3 253.1 L469.3 252.7 L469.3 252.2 L469.3 251.5 L469.3 250.6 L469.3 249.6 L469.4 248.7 L469.4 247.7 L469.4 246.7 L469.4 245.8 L469.4 245.0 L469.4 244.2 L469.4 243.5 L469.4 242.9 L469.4 242.3 L469.4 241.8 L469.4 241.2 L469.4 240.7 L469.4 240.1 L469.4 239.4 L469.4 238.8 L469.4 238.1 L469.4 237.4 L469.4 236.8 L469.4 236.2 L469.4 235.7 L469.4 235.4 L469.5 235.3 L469.5 235.4 L469.5 235.8 L469.5 236.4 L469.5 237.2 L469.5 238.3 L469.5 239.6 L469.5 241.1 L469.5 242.8 L469.5 244.6 L469.5 246.4 L469.5 248.3 L469.5 250.0 L469.5 251.7 L469.5 253.1 L469.5 254.4 L469.5 255.4 L469.5 256.1 L469.5 256.6 L469.5 256.8 L469.5 256.8 L469.5 256.6 L469.6 256.2 L469.6 255.7 L469.6 255.0 L469.6 254.2 L469.6 253.3 L469.6 252.4 L469.6 251.3 L469.6 250.2 L469.6 249.1 L469.6 247.9 L469.6 246.8 L469.6 245.6 L469.6 244.6 L469.6 243.6 L469.6 242.8 L469.6 242.2 L469.6 241.9 L469.6 241.8 L469.6 242.0 L469.6 242.4 L469.6 243.1 L469.7 244.1 L469.7 245.2 L469.7 246.5 L469.7 247.9 L469.7 249.4 L469.7 250.8 L469.7 252.2 L469.7 253.5 L469.7 254.6 L469.7 255.6 L469.7 256.4 L469.7 256.9 L469.7 257.3 L469.7 257.5 L469.7 257.6 L469.7 257.6 L469.7 257.4 L469.7 257.2 L469.7 256.9 L469.7 256.6 L469.7 256.3 L469.7 256.0 L469.8 255.7 L469.8 255.4 L469.8 255.2 L469.8 255.0 L469.8 255.0 L469.8 254.9 L469.8 255.0 L469.8 255.2 L469.8 255.5 L469.8 255.9 L469.8 256.5 L469.8 257.1 L469.8 257.8 L469.8 258.6 L469.8 259.5 L469.8 260.4 L469.8 261.4 L469.8 262.3 L469.8 263.2 L469.8 264.1 L469.8 264.8 L469.8 265.4 L469.9 265.9 L469.9 266.2 L469.9 266.3 L469.9 266.1 L469.9 265.8 L469.9 265.2 L469.9 264.4 L469.9 263.4 L469.9 262.2 L469.9 260.9 L469.9 259.6 L469.9 258.1 L469.9 256.7 L469.9 255.2 L469.9 253.7 L469.9 252.2 L469.9 250.8 L469.9 249.4 L469.9 248.0 L469.9 246.8 L469.9 245.6 L469.9 244.6 L470.0 243.7 L470.0 243.0 L470.0 242.5 L470.0 242.1 L470.0 241.9 L470.0 241.9 L470.0 242.1 L470.0 242.4 L470.0 242.8 L470.0 243.2 L470.0 243.8 L470.0 244.3 L470.0 244.9 L470.0 245.4 L470.0 245.9 L470.0 246.3 L470.0 246.7 L470.0 247.1 L470.0 247.4 L470.0 247.7 L470.0 247.8 L470.0 248.0 L470.1 248.1 L470.1 248.1 L470.1 248.1 L470.1 248.0 L470.1 247.9 L470.1 247.8 L470.1 247.5 L470.1 247.3 L470.1 247.0 L470.1 246.7 L470.1 246.5 L470.1 246.2 L470.1 245.9 L470.1 245.8 L470.1 245.7 L470.1 245.7 L470.1 246.0 L470.1 246.4 L470.1 247.0 L470.1 247.8 L470.1 248.9 L470.1 250.2 L470.2 251.8 L470.2 253.5 L470.2 255.5 L470.2 257.5 L470.2 259.6 L470.2 261.7 L470.2 263.6 L470.2 265.4 L470.2 266.9 L470.2 268.1 L470.2 268.8 L470.2 269.2 L470.2 269.1 L470.2 268.6 L470.2 267.7 L470.2 266.4 L470.2 264.8 L470.2 262.9 L470.2 260.8 L470.2 258.6 L470.2 256.3 L470.2 254.0 L470.3 251.7 L470.3 249.5 L470.3 247.3 L470.3 245.4 L470.3 243.5 L470.3 241.8 L470.3 240.3 L470.3 238.9 L470.3 237.7 L470.3 236.7 L470.3 235.8 L470.3 235.2 L470.3 234.7 L470.3 234.5 L470.3 234.4 L470.3 234.6 L470.3 234.9 L470.3 235.5 L470.3 236.2 L470.3 237.1 L470.3 238.1 L470.3 239.2 L470.4 240.5 L470.4 241.7 L470.4 243.0 L470.4 244.2 L470.4 245.3 L470.4 246.4 L470.4 247.4 L470.4 248.2 L470.4 248.9 L470.4 249.6 L470.4 250.1 L470.4 250.6 L470.4 250.9 L470.4 251.2 L470.4 251.5 L470.4 251.7 L470.4 251.8 L470.4 251.9 L470.4 251.9 L470.4 251.9 L470.4 251.8 L470.4 251.6 L470.5 251.4 L470.5 251.2 L470.5 250.9 L470.5 250.7 L470.5 250.6 L470.5 250.5 L470.5 250.4 L470.5 250.5 L470.5 250.6 L470.5 250.8 L470.5 251.0 L470.5 251.3 L470.5 251.6 L470.5 251.8 L470.5 251.9 L470.5 251.9 L470.5 251.9 L470.5 251.7 L470.5 251.3 L470.5 250.8 L470.5 250.3 L470.5 249.6 L470.6 248.9 L470.6 248.2 L470.6 247.7 L470.6 247.2 L470.6 246.9 L470.6 246.7 L470.6 246.8 L470.6 247.2 L470.6 247.7 L470.6 248.3 L470.6 249.1 L470.6 250.0 L470.6 250.9 L470.6 251.7 L470.6 252.5 L470.6 253.1 L470.6 253.6 L470.6 253.8 L470.6 253.9 L470.6 253.8 L470.6 253.5 L470.6 253.0 L470.7 252.4 L470.7 251.7 L470.7 250.8 L470.7 249.9 L470.7 248.9 L470.7 248.0 L470.7 247.1 L470.7 246.2 L470.7 245.4 L470.7 244.8 L470.7 244.3 L470.7 244.0 L470.7 243.8 L470.7 243.8 L470.7 244.0 L470.7 244.3 L470.7 244.7 L470.7 245.2 L470.7 245.6 L470.7 246.1 L470.7 246.5 L470.7 246.9 L470.8 247.2 L470.8 247.5 L470.8 247.7 L470.8 247.9 L470.8 248.2 L470.8 248.4 L470.8 248.7 L470.8 249.1 L470.8 249.5 L470.8 249.9 L470.8 250.3 L470.8 250.7 L470.8 251.1 L470.8 251.3 L470.8 251.4 L470.8 251.3 L470.8 251.1 L470.8 250.6 L470.8 250.1 L470.8 249.3 L470.8 248.5 L470.8 247.7 L470.9 246.8 L470.9 246.0 L470.9 245.2 L470.9 244.6 L470.9 244.2 L470.9 243.9 L470.9 243.9 L470.9 244.0 L470.9 244.4 L470.9 244.9 L470.9 245.5 L470.9 246.3 L470.9 247.2 L470.9 248.0 L470.9 248.9 L470.9 249.7 L470.9 250.5 L470.9 251.1 L470.9 251.6 L470.9 252.1 L470.9 252.4 L470.9 252.6 L470.9 252.8 L471.0 252.9 L471.0 253.1 L471.0 253.4 L471.0 253.9 L471.0 254.5 L471.0 255.3 L471.0 256.2 L471.0 257.4 L471.0 258.8 L471.0 260.3 L471.0 261.9 L471.0 263.6 L471.0 265.3 L471.0 267.1 L471.0 268.7 L471.0 270.3 L471.0 271.7 L471.0 272.9 L471.0 273.8 L471.0 274.6 L471.0 275.0 L471.0 275.2 L471.1 275.1 L471.1 274.7 L471.1 274.1 L471.1 273.3 L471.1 272.3 L471.1 271.2 L471.1 269.9 L471.1 268.7 L471.1 267.4 L471.1 266.2 L471.1 265.0 L471.1 264.0 L471.1 263.1 L471.1 262.3 L471.1 261.6 L471.1 261.1 L471.1 260.8 L471.1 260.5 L471.1 260.4 L471.1 260.4 L471.1 260.5 L471.1 260.6 L471.1 260.7 L471.2 260.9 L471.2 261.1 L471.2 261.3 L471.2 261.5 L471.2 261.6 L471.2 261.6 L471.2 261.6 L471.2 261.4 L471.2 261.2 L471.2 260.9 L471.2 260.5 L471.2 260.1 L471.2 259.5 L471.2 258.9 L471.2 258.2 L471.2 257.5 L471.2 256.7 L471.2 256.0 L471.2 255.2 L471.2 254.5 L471.2 253.9 L471.2 253.3 L471.3 252.8 L471.3 252.4 L471.3 252.1 L471.3 251.9 L471.3 251.8 L471.3 251.8 L471.3 251.9 L471.3 252.0 L471.3 252.2 L471.3 252.5 L471.3 252.7 L471.3 253.0 L471.3 253.3 L471.3 253.5 L471.3 253.7 L471.3 253.9 L471.3 254.0 L471.3 254.1 L471.3 254.1 L471.3 254.1 L471.3 254.1 L471.3 254.1 L471.3 254.1 L471.4 254.1 L471.4 254.1 L471.4 254.1 L471.4 254.0 L471.4 254.0 L471.4 253.8 L471.4 253.7 L471.4 253.4 L471.4 253.1 L471.4 252.7 L471.4 252.1 L471.4 251.5 L471.4 250.8 L471.4 250.0 L471.4 249.2 L471.4 248.3 L471.4 247.5 L471.4 246.7 L471.4 245.9 L471.4 245.2 L471.4 244.6 L471.4 244.1 L471.5 243.8 L471.5 243.5 L471.5 243.4 L471.5 243.4 L471.5 243.5 L471.5 243.7 L471.5 244.0 L471.5 244.4 L471.5 244.9 L471.5 245.5 L471.5 246.2 L471.5 247.0 L471.5 247.8 L471.5 248.6 L471.5 249.5 L471.5 250.3 L471.5 251.1 L471.5 251.8 L471.5 252.4 L471.5 252.9 L471.5 253.3 L471.5 253.6 L471.5 253.8 L471.6 254.0 L471.6 254.1 L471.6 254.2 L471.6 254.4 L471.6 254.7 L471.6 255.1 L471.6 255.7 L471.6 256.3 L471.6 257.1 L471.6 258.0 L471.6 258.9 L471.6 259.8 L471.6 260.6 L471.6 261.3 L471.6 261.8 L471.6 262.2 L471.6 262.3 L471.6 262.2 L471.6 261.9 L471.6 261.4 L471.6 260.7 L471.6 259.9 L471.7 259.1 L471.7 258.2 L471.7 257.3 L471.7 256.4 L471.7 255.5 L471.7 254.6 L471.7 253.7 L471.7 252.9 L471.7 252.1 L471.7 251.3 L471.7 250.6 L471.7 249.9 L471.7 249.3 L471.7 248.8 L471.7 248.3 L471.7 247.9 L471.7 247.6 L471.7 247.4 L471.7 247.3 L471.7 247.3 L471.7 247.4 L471.7 247.6 L471.7 247.9 L471.8 248.3 L471.8 248.8 L471.8 249.3 L471.8 249.9 L471.8 250.6 L471.8 251.3 L471.8 252.0 L471.8 252.8 L471.8 253.6 L471.8 254.4 L471.8 255.2 L471.8 256.0 L471.8 256.9 L471.8 257.7 L471.8 258.4 L471.8 259.2 L471.8 259.8 L471.8 260.4 L471.8 260.8 L471.8 261.1 L471.8 261.2 L471.8 261.2 L471.8 261.0 L471.9 260.6 L471.9 260.1 L471.9 259.4 L471.9 258.7 L471.9 257.9 L471.9 257.0 L471.9 256.1 L471.9 255.2 L471.9 254.3 L471.9 253.5 L471.9 252.8 L471.9 252.1 L471.9 251.5 L471.9 250.9 L471.9 250.5 L471.9 250.1 L471.9 249.9 L471.9 249.7 L471.9 249.6 L471.9 249.5 L471.9 249.5 L471.9 249.6 L471.9 249.7 L472.0 249.7 L472.0 249.7 L472.0 249.7 L472.0 249.5 L472.0 249.2 L472.0 248.9 L472.0 248.4 L472.0 247.8 L472.0 247.2 L472.0 246.5 L472.0 245.8 L472.0 245.2 L472.0 244.7 L472.0 244.3 L472.0 244.1 L472.0 244.0 L472.0 244.2 L472.0 244.6 L472.0 245.1 L472.0 245.9 L472.0 246.7 L472.0 247.7 L472.0 248.7 L472.1 249.7 L472.1 250.6 L472.1 251.5 L472.1 252.3 L472.1 252.9 L472.1 253.4 L472.1 253.7 L472.1 253.9 L472.1 253.9 L472.1 253.9 L472.1 253.9 L472.1 253.8 L472.1 253.8 L472.1 253.8 L472.1 253.9 L472.1 254.1 L472.1 254.4 L472.1 254.9 L472.1 255.5 L472.1 256.2 L472.1 257.1 L472.1 258.0 L472.1 258.9 L472.3 253.4 L472.3 43.5"/>
<path stroke="#E69F00" stroke-linecap="round" d="M75.0 15.6 L105.0 15.8 L135.0 16.2 L160.0 16.8 L174.4 17.4 L185.0 17.9 L195.0 18.8 L205.0 20.0 L215.0 21.2 L225.0 22.5 L235.0 24.1 L240.0 25.5 L245.0 26.8 L250.0 28.2 L255.0 29.8 L260.0 31.5 L265.0 33.2 L270.0 34.8 L273.5 36.0 L280.0 39.1"/>
<path stroke="#E69F00" stroke-linecap="round" stroke-width="1.8" d="M280.0 39.1 L285.0 41.6 L290.0 44.5 L295.0 47.6 L300.0 51.0 L305.0 54.6 L310.0 58.5 L315.0 62.7 L320.0 67.5 L325.0 73.3 L330.0 79.8 L335.0 86.3 L340.0 92.5"/>
<path stroke="#E69F00" stroke-linecap="round" stroke-width="2.1" d="M340.0 92.5 L345.0 99.0 L348.0 103.3 L350.0 106.5 L355.0 113.8 L357.0 116.7 L360.0 121.5 L365.0 130.0 L370.0 138.0 L372.0 141.5 L374.0 145.0 L377.0 149.5 L380.0 154.0 L382.5 158.5 L384.0 162.0 L386.0 166.5 L388.0 171.0 L390.0 175.7 L392.0 180.2 L394.0 185.0 L396.0 190.0 L398.0 194.5 L400.0 198.0 L402.0 201.5 L403.5 205.5 L405.0 210.0 L407.0 215.5 L409.0 220.0 L411.0 223.0 L413.0 225.5 L415.0 228.5 L417.0 232.5 L418.5 236.5 L420.0 240.5 L421.5 245.5 L423.0 249.5 L425.0 251.5 L427.0 251.5 L429.0 250.0 L430.5 249.5 L432.0 251.0 L433.5 254.5 L435.0 258.5 L436.5 262.5 L438.0 265.0 L439.5 266.5 L441.0 268.2 L442.5 272.0 L444.0 277.5 L445.5 283.0 L447.0 288.5 L448.5 294.0 L450.0 297.2 L451.0 296.0 L452.0 291.5 L453.0 286.5 L454.0 281.5 L455.0 277.0 L456.0 274.0 L457.5 272.0 L459.0 270.5 L461.0 270.5 L463.0 269.5 L464.5 268.5 L465.5 266.5 L466.5 269.0 L467.5 267.5 L468.8 262.5 L470.2 266.0 L471.5 273.5 L472.3 276.0"/>
</g>
<g fill="none" stroke-width="1.5">
<path stroke="#9400D3" d="M413 31H454"/>
<path stroke="#009E73" stroke-dasharray="4.6 1.1 0.7 1.2" d="M413 54H454"/>
<path stroke="#56B4E9" stroke-dasharray="1.7 1.8" d="M413 77H454"/>
<path stroke="#E69F00" d="M413 100H454"/>
</g>
<path d="M75.00 15.50 V301.00 H472.50 V15.50 Z" fill="none" stroke="#000" stroke-width="1"/>
</svg>
</body></html>
